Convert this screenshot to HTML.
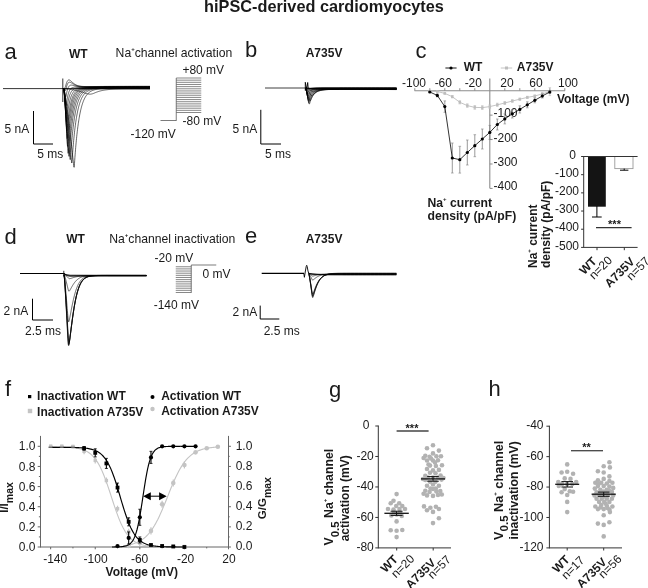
<!DOCTYPE html>
<html lang="en"><head><meta charset="utf-8"><title>hiPSC-derived cardiomyocytes</title>
<style>
html,body{margin:0;padding:0;background:#fff;}
body{width:648px;height:588px;overflow:hidden;}
svg{display:block;font-family:"Liberation Sans",Arial,sans-serif;}
</style></head><body>
<svg width="648" height="588" viewBox="0 0 648 588">
<rect width="648" height="588" fill="#fff"/>
<text x="324" y="11.5" font-size="16.3" font-weight="bold" text-anchor="middle" fill="#1a1a1a" >hiPSC-derived cardiomyocytes</text>
<text x="4.5" y="59" font-size="22"  text-anchor="start" fill="#1a1a1a" >a</text>
<text x="245" y="57.2" font-size="22"  text-anchor="start" fill="#1a1a1a" >b</text>
<text x="415.5" y="57.8" font-size="22"  text-anchor="start" fill="#1a1a1a" >c</text>
<text x="4.5" y="244.1" font-size="22"  text-anchor="start" fill="#1a1a1a" >d</text>
<text x="245" y="242.5" font-size="22"  text-anchor="start" fill="#1a1a1a" >e</text>
<text x="5" y="396.3" font-size="22"  text-anchor="start" fill="#1a1a1a" >f</text>
<text x="329" y="397" font-size="22"  text-anchor="start" fill="#1a1a1a" >g</text>
<text x="488.5" y="395.7" font-size="22"  text-anchor="start" fill="#1a1a1a" >h</text>
<text x="69" y="58.2" font-size="12" font-weight="bold" text-anchor="start" fill="#1a1a1a" >WT</text>
<text x="115.6" y="57.1" font-size="12.2" fill="#1a1a1a">Na<tspan font-size="6" font-weight="bold" dy="-6">+</tspan><tspan dy="6">channel activation</tspan></text>
<line x1="3" y1="88.6" x2="63.5" y2="88.6" stroke="#000" stroke-width="0.8" />
<line x1="62.8" y1="78.5" x2="62.8" y2="102" stroke="#000" stroke-width="0.8" />
<path d="M63.50,88.60 L150.00,88.95" fill="none" stroke="#000" stroke-width="0.6" stroke-linejoin="round" />
<path d="M63.50,88.60 L150.00,88.78" fill="none" stroke="#000" stroke-width="0.6" stroke-linejoin="round" />
<path d="M63.50,88.65 L63.70,88.66 L63.90,88.67 L64.10,88.68 L64.30,88.68 L64.50,88.69 L64.70,88.70 L64.90,88.72 L65.10,88.73 L65.30,88.74 L65.50,88.75 L65.70,88.77 L65.90,88.78 L66.10,88.80 L66.30,88.82 L66.50,88.83 L66.70,88.85 L66.90,88.87 L67.10,88.89 L67.30,88.91 L67.50,88.93 L67.70,88.96 L67.90,88.98 L68.10,89.00 L68.30,89.03 L68.50,89.05 L68.70,89.08 L68.90,89.11 L69.10,89.14 L69.30,89.16 L69.50,89.19 L69.70,89.22 L69.90,89.25 L70.10,89.29 L70.30,89.32 L70.50,89.35 L70.70,89.38 L70.90,89.42 L71.10,89.45 L71.30,89.49 L71.50,89.52 L71.70,89.56 L71.90,89.59 L72.10,89.63 L72.30,89.67 L72.50,89.71 L72.70,89.75 L72.90,89.79 L73.10,89.83 L73.30,89.87 L73.50,89.91 L73.70,89.95 L73.90,89.99 L74.10,90.04 L74.30,90.08 L74.50,90.12 L74.70,90.17 L74.90,90.21 L75.10,90.26 L75.30,90.30 L75.50,90.35 L75.70,90.40 L75.90,90.44 L76.10,90.49 L76.30,90.54 L76.50,90.59 L76.70,90.64 L76.90,90.69 L77.10,90.74 L77.30,90.79 L77.50,90.84 L77.70,90.89 L77.90,90.94 L78.10,90.99 L78.30,91.05 L78.50,91.10 L78.70,91.15 L78.90,91.21 L79.10,91.26 L79.30,91.32 L79.50,91.37 L79.70,91.43 L79.90,91.48 L80.10,91.54 L80.30,91.60 L80.50,91.65 L80.70,91.71 L80.90,91.77 L81.10,91.83 L81.30,91.89 L81.50,91.95 L81.70,92.01 L81.90,92.07 L82.10,92.13 L82.30,92.19 L82.50,92.25 L82.70,92.31 L82.90,92.38 L83.10,92.44 L83.30,92.50 L83.50,92.57 L83.70,92.63 L83.90,92.69 L84.10,92.76 L84.30,92.82 L84.50,92.89 L84.70,92.95 L84.90,93.02 L85.10,93.08 L85.30,93.14 L85.50,93.21 L85.70,93.27 L85.90,93.34 L86.10,93.40 L86.30,93.46 L86.50,93.52 L86.70,93.58 L86.90,93.64 L87.10,93.70 L87.30,93.75 L87.50,93.81 L87.70,93.86 L87.90,93.91 L88.10,93.95 L88.30,93.99 L88.50,94.03 L88.70,94.07 L88.90,94.10 L89.10,94.12 L89.30,94.14 L89.50,94.16 L89.70,94.17 L89.90,94.18 L90.10,94.18 L90.30,94.17 L90.50,94.16 L90.70,94.15 L90.90,94.13 L91.10,94.10 L91.30,94.06 L91.50,94.03 L91.70,93.98 L91.90,93.93 L92.10,93.88 L92.30,93.82 L92.50,93.76 L92.70,93.70 L92.90,93.63 L93.10,93.56 L93.30,93.48 L93.50,93.41 L93.70,93.33 L94.20,93.13 L94.70,92.92 L95.20,92.71 L95.70,92.51 L96.20,92.31 L96.70,92.11 L97.20,91.93 L97.70,91.75 L98.20,91.58 L98.70,91.42 L99.20,91.27 L99.70,91.12 L100.20,90.99 L100.70,90.86 L101.20,90.74 L101.70,90.62 L102.20,90.52 L102.70,90.41 L103.20,90.32 L103.70,90.22 L104.20,90.14 L104.70,90.06 L105.20,89.98 L105.70,89.90 L106.20,89.83 L106.70,89.77 L107.20,89.71 L107.70,89.65 L108.20,89.59 L108.70,89.54 L109.20,89.49 L109.70,89.44 L110.20,89.40 L110.70,89.36 L111.20,89.32 L111.70,89.28 L112.20,89.24 L112.70,89.21 L113.20,89.18 L113.70,89.15 L114.20,89.12 L114.70,89.09 L115.20,89.06 L115.70,89.04 L116.20,89.02 L116.70,89.00 L117.20,88.98 L117.70,88.96 L118.20,88.94 L118.70,88.92 L119.20,88.90 L119.70,88.89 L120.20,88.87 L120.70,88.86 L121.20,88.85 L121.70,88.83 L122.20,88.82 L122.70,88.81 L123.20,88.80 L123.70,88.79 L127.70,88.73 L131.70,88.69 L135.70,88.66 L139.70,88.65 L143.70,88.64 L147.70,88.63 L150.00,88.63" fill="none" stroke="#000" stroke-width="0.6" stroke-linejoin="round" />
<path d="M63.50,88.62 L63.70,88.74 L63.90,89.07 L64.10,89.68 L64.30,90.50 L64.50,91.45 L64.70,92.48 L64.90,93.57 L65.10,94.71 L65.30,95.90 L65.50,97.13 L65.70,98.39 L65.90,99.70 L66.10,101.03 L66.30,102.39 L66.50,103.78 L66.70,105.20 L66.90,106.64 L67.10,108.11 L67.30,109.60 L67.50,111.10 L67.70,112.63 L67.90,114.18 L68.10,115.75 L68.30,117.34 L68.50,118.95 L68.70,120.57 L68.90,122.21 L69.10,123.86 L69.30,125.54 L69.50,127.22 L69.70,128.92 L69.90,130.64 L70.10,132.37 L70.30,134.11 L70.50,135.87 L70.70,137.64 L70.90,139.42 L71.10,141.22 L71.30,143.03 L71.50,144.85 L71.70,146.68 L71.90,148.53 L72.10,150.38 L72.30,152.25 L72.50,154.13 L72.70,156.02 L72.90,157.92 L73.10,159.83 L73.30,161.75 L73.50,163.68 L73.70,165.55 L73.90,167.04 L74.10,167.32 L74.30,165.88 L74.50,163.30 L74.70,160.43 L74.90,157.61 L75.10,154.90 L75.30,152.30 L75.50,149.79 L75.70,147.39 L75.90,145.08 L76.10,142.86 L76.30,140.73 L76.50,138.68 L76.70,136.71 L76.90,134.82 L77.10,133.01 L77.30,131.26 L77.50,129.58 L77.70,127.97 L77.90,126.42 L78.10,124.94 L78.30,123.51 L78.50,122.13 L78.70,120.81 L78.90,119.55 L79.10,118.33 L79.30,117.16 L79.50,116.03 L79.70,114.95 L79.90,113.92 L80.10,112.92 L80.30,111.96 L80.50,111.04 L80.70,110.16 L80.90,109.31 L81.10,108.49 L81.30,107.70 L81.50,106.95 L81.70,106.23 L81.90,105.53 L82.10,104.86 L82.30,104.22 L82.50,103.60 L82.70,103.01 L82.90,102.44 L83.10,101.89 L83.30,101.37 L83.50,100.86 L83.70,100.38 L84.20,99.24 L84.70,98.22 L85.20,97.29 L85.70,96.45 L86.20,95.69 L86.70,95.01 L87.20,94.38 L87.70,93.82 L88.20,93.31 L88.70,92.85 L89.20,92.43 L89.70,92.06 L90.20,91.71 L90.70,91.41 L91.20,91.13 L91.70,90.87 L92.20,90.64 L92.70,90.44 L93.20,90.25 L93.70,90.08 L94.20,89.93 L94.70,89.79 L95.20,89.66 L95.70,89.55 L96.20,89.44 L96.70,89.35 L97.20,89.27 L97.70,89.19 L98.20,89.12 L98.70,89.06 L99.20,89.00 L99.70,88.95 L100.20,88.90 L100.70,88.86 L101.20,88.82 L101.70,88.79 L102.20,88.76 L102.70,88.73 L103.20,88.70 L103.70,88.68 L107.70,88.56 L111.70,88.50 L115.70,88.48 L119.70,88.46 L123.70,88.46 L127.70,88.46 L131.70,88.46 L135.70,88.45 L139.70,88.45 L143.70,88.45 L147.70,88.45 L150.00,88.45" fill="none" stroke="#000" stroke-width="0.6" stroke-linejoin="round" />
<path d="M63.50,88.63 L63.70,88.78 L63.90,89.21 L64.10,90.01 L64.30,91.08 L64.50,92.31 L64.70,93.64 L64.90,95.06 L65.10,96.55 L65.30,98.10 L65.50,99.70 L65.70,101.35 L65.90,103.05 L66.10,104.79 L66.30,106.56 L66.50,108.37 L66.70,110.22 L66.90,112.10 L67.10,114.01 L67.30,115.95 L67.50,117.91 L67.70,119.91 L67.90,121.92 L68.10,123.97 L68.30,126.04 L68.50,128.13 L68.70,130.24 L68.90,132.38 L69.10,134.54 L69.30,136.71 L69.50,138.91 L69.70,141.13 L69.90,143.37 L70.10,145.62 L70.30,147.89 L70.50,150.18 L70.70,152.49 L70.90,154.81 L71.10,157.16 L71.30,159.49 L71.50,161.66 L71.70,163.02 L71.90,162.67 L72.10,160.64 L72.30,157.89 L72.50,155.08 L72.70,152.35 L72.90,149.74 L73.10,147.24 L73.30,144.84 L73.50,142.54 L73.70,140.33 L73.90,138.21 L74.10,136.17 L74.30,134.22 L74.50,132.35 L74.70,130.56 L74.90,128.84 L75.10,127.19 L75.30,125.60 L75.50,124.08 L75.70,122.63 L75.90,121.23 L76.10,119.89 L76.30,118.60 L76.50,117.37 L76.70,116.18 L76.90,115.05 L77.10,113.96 L77.30,112.92 L77.50,111.91 L77.70,110.95 L77.90,110.03 L78.10,109.15 L78.30,108.30 L78.50,107.48 L78.70,106.70 L78.90,105.95 L79.10,105.24 L79.30,104.55 L79.50,103.89 L79.70,103.25 L79.90,102.64 L80.10,102.06 L80.30,101.50 L80.50,100.97 L80.70,100.45 L80.90,99.96 L81.10,99.48 L81.30,99.03 L81.50,98.59 L81.70,98.17 L81.90,97.77 L82.10,97.39 L82.30,97.02 L82.50,96.66 L82.70,96.33 L82.90,96.00 L83.10,95.69 L83.30,95.39 L83.50,95.10 L83.70,94.82 L84.20,94.18 L84.70,93.60 L85.20,93.08 L85.70,92.61 L86.20,92.19 L86.70,91.81 L87.20,91.46 L87.70,91.15 L88.20,90.87 L88.70,90.62 L89.20,90.39 L89.70,90.19 L90.20,90.00 L90.70,89.84 L91.20,89.69 L91.70,89.55 L92.20,89.43 L92.70,89.32 L93.20,89.22 L93.70,89.13 L94.20,89.05 L94.70,88.98 L95.20,88.91 L95.70,88.85 L96.20,88.80 L96.70,88.75 L97.20,88.70 L97.70,88.66 L98.20,88.63 L98.70,88.60 L99.20,88.57 L99.70,88.54 L100.20,88.52 L100.70,88.50 L101.20,88.48 L101.70,88.46 L102.20,88.44 L102.70,88.43 L103.20,88.42 L103.70,88.41 L107.70,88.34 L111.70,88.32 L115.70,88.30 L119.70,88.30 L123.70,88.29 L127.70,88.29 L131.70,88.29 L135.70,88.29 L139.70,88.29 L143.70,88.29 L147.70,88.29 L150.00,88.29" fill="none" stroke="#000" stroke-width="0.6" stroke-linejoin="round" />
<path d="M63.50,88.64 L63.70,88.82 L63.90,89.37 L64.10,90.38 L64.30,91.74 L64.50,93.31 L64.70,95.00 L64.90,96.80 L65.10,98.69 L65.30,100.66 L65.50,102.69 L65.70,104.79 L65.90,106.94 L66.10,109.15 L66.30,111.40 L66.50,113.70 L66.70,116.05 L66.90,118.43 L67.10,120.86 L67.30,123.32 L67.50,125.81 L67.70,128.35 L67.90,130.91 L68.10,133.51 L68.30,136.13 L68.50,138.79 L68.70,141.47 L68.90,144.18 L69.10,146.92 L69.30,149.69 L69.50,152.48 L69.70,155.28 L69.90,157.89 L70.10,159.64 L70.30,159.52 L70.50,157.58 L70.70,154.85 L70.90,152.04 L71.10,149.32 L71.30,146.73 L71.50,144.24 L71.70,141.86 L71.90,139.58 L72.10,137.40 L72.30,135.31 L72.50,133.31 L72.70,131.40 L72.90,129.56 L73.10,127.81 L73.30,126.13 L73.50,124.52 L73.70,122.97 L73.90,121.50 L74.10,120.08 L74.30,118.73 L74.50,117.44 L74.70,116.19 L74.90,115.01 L75.10,113.87 L75.30,112.78 L75.50,111.74 L75.70,110.74 L75.90,109.78 L76.10,108.86 L76.30,107.99 L76.50,107.15 L76.70,106.34 L76.90,105.57 L77.10,104.84 L77.30,104.13 L77.50,103.46 L77.70,102.81 L77.90,102.19 L78.10,101.59 L78.30,101.03 L78.50,100.48 L78.70,99.96 L78.90,99.46 L79.10,98.98 L79.30,98.53 L79.50,98.09 L79.70,97.67 L79.90,97.27 L80.10,96.88 L80.30,96.51 L80.50,96.16 L80.70,95.82 L80.90,95.50 L81.10,95.19 L81.30,94.89 L81.50,94.61 L81.70,94.34 L81.90,94.08 L82.10,93.83 L82.30,93.59 L82.50,93.36 L82.70,93.14 L82.90,92.93 L83.10,92.73 L83.30,92.54 L83.50,92.35 L83.70,92.17 L84.20,91.76 L84.70,91.40 L85.20,91.07 L85.70,90.77 L86.20,90.50 L86.70,90.27 L87.20,90.05 L87.70,89.86 L88.20,89.69 L88.70,89.53 L89.20,89.39 L89.70,89.27 L90.20,89.15 L90.70,89.05 L91.20,88.96 L91.70,88.88 L92.20,88.81 L92.70,88.74 L93.20,88.68 L93.70,88.63 L94.20,88.58 L94.70,88.53 L95.20,88.50 L95.70,88.46 L96.20,88.43 L96.70,88.40 L97.20,88.38 L97.70,88.35 L98.20,88.33 L98.70,88.31 L99.20,88.30 L99.70,88.28 L100.20,88.27 L100.70,88.25 L101.20,88.24 L101.70,88.23 L102.20,88.22 L102.70,88.21 L103.20,88.21 L103.70,88.20 L107.70,88.16 L111.70,88.15 L115.70,88.14 L119.70,88.13 L123.70,88.13 L127.70,88.13 L131.70,88.13 L135.70,88.12 L139.70,88.12 L143.70,88.12 L147.70,88.12 L150.00,88.12" fill="none" stroke="#000" stroke-width="0.6" stroke-linejoin="round" />
<path d="M63.50,88.65 L63.70,88.88 L63.90,89.56 L64.10,90.82 L64.30,92.51 L64.50,94.45 L64.70,96.56 L64.90,98.80 L65.10,101.15 L65.30,103.59 L65.50,106.12 L65.70,108.73 L65.90,111.41 L66.10,114.15 L66.30,116.95 L66.50,119.81 L66.70,122.73 L66.90,125.69 L67.10,128.71 L67.30,131.77 L67.50,134.87 L67.70,138.02 L67.90,141.21 L68.10,144.44 L68.30,147.71 L68.50,150.99 L68.70,154.08 L68.90,156.24 L69.10,156.37 L69.30,154.53 L69.50,151.81 L69.70,149.01 L69.90,146.31 L70.10,143.73 L70.30,141.26 L70.50,138.91 L70.70,136.66 L70.90,134.50 L71.10,132.45 L71.30,130.48 L71.50,128.60 L71.70,126.81 L71.90,125.09 L72.10,123.45 L72.30,121.89 L72.50,120.39 L72.70,118.96 L72.90,117.59 L73.10,116.28 L73.30,115.04 L73.50,113.84 L73.70,112.70 L73.90,111.61 L74.10,110.57 L74.30,109.57 L74.50,108.62 L74.70,107.71 L74.90,106.84 L75.10,106.01 L75.30,105.22 L75.50,104.46 L75.70,103.74 L75.90,103.04 L76.10,102.38 L76.30,101.75 L76.50,101.14 L76.70,100.57 L76.90,100.01 L77.10,99.49 L77.30,98.98 L77.50,98.50 L77.70,98.04 L77.90,97.60 L78.10,97.17 L78.30,96.77 L78.50,96.39 L78.70,96.02 L78.90,95.67 L79.10,95.33 L79.30,95.01 L79.50,94.70 L79.70,94.41 L79.90,94.13 L80.10,93.86 L80.30,93.61 L80.50,93.36 L80.70,93.13 L80.90,92.90 L81.10,92.69 L81.30,92.48 L81.50,92.29 L81.70,92.10 L81.90,91.92 L82.10,91.75 L82.30,91.59 L82.50,91.43 L82.70,91.28 L82.90,91.14 L83.10,91.00 L83.30,90.87 L83.50,90.75 L83.70,90.63 L84.20,90.35 L84.70,90.11 L85.20,89.89 L85.70,89.69 L86.20,89.51 L86.70,89.35 L87.20,89.21 L87.70,89.09 L88.20,88.97 L88.70,88.87 L89.20,88.78 L89.70,88.70 L90.20,88.63 L90.70,88.56 L91.20,88.50 L91.70,88.45 L92.20,88.41 L92.70,88.36 L93.20,88.33 L93.70,88.29 L94.20,88.26 L94.70,88.23 L95.20,88.21 L95.70,88.19 L96.20,88.17 L96.70,88.15 L97.20,88.13 L97.70,88.12 L98.20,88.10 L98.70,88.09 L99.20,88.08 L99.70,88.07 L100.20,88.06 L100.70,88.06 L101.20,88.05 L101.70,88.04 L102.20,88.04 L102.70,88.03 L103.20,88.02 L103.70,88.02 L107.70,88.00 L111.70,87.98 L115.70,87.97 L119.70,87.97 L123.70,87.97 L127.70,87.96 L131.70,87.96 L135.70,87.96 L139.70,87.96 L143.70,87.96 L147.70,87.96 L150.00,87.96" fill="none" stroke="#000" stroke-width="0.6" stroke-linejoin="round" />
<path d="M63.50,88.66 L63.70,88.94 L63.90,89.77 L64.10,91.29 L64.30,93.34 L64.50,95.70 L64.70,98.27 L64.90,100.99 L65.10,103.84 L65.30,106.81 L65.50,109.88 L65.70,113.05 L65.90,116.30 L66.10,119.63 L66.30,123.03 L66.50,126.51 L66.70,130.05 L66.90,133.65 L67.10,137.31 L67.30,141.03 L67.50,144.79 L67.70,148.53 L67.90,151.76 L68.10,153.35 L68.30,152.56 L68.50,150.18 L68.70,147.38 L68.90,144.64 L69.10,142.01 L69.30,139.51 L69.50,137.12 L69.70,134.84 L69.90,132.67 L70.10,130.60 L70.30,128.63 L70.50,126.75 L70.70,124.95 L70.90,123.24 L71.10,121.61 L71.30,120.05 L71.50,118.56 L71.70,117.15 L71.90,115.80 L72.10,114.51 L72.30,113.28 L72.50,112.11 L72.70,110.99 L72.90,109.93 L73.10,108.91 L73.30,107.94 L73.50,107.02 L73.70,106.14 L73.90,105.30 L74.10,104.50 L74.30,103.73 L74.50,103.00 L74.70,102.31 L74.90,101.65 L75.10,101.01 L75.30,100.41 L75.50,99.83 L75.70,99.29 L75.90,98.76 L76.10,98.26 L76.30,97.79 L76.50,97.33 L76.70,96.90 L76.90,96.49 L77.10,96.09 L77.30,95.72 L77.50,95.36 L77.70,95.02 L77.90,94.69 L78.10,94.38 L78.30,94.08 L78.50,93.80 L78.70,93.53 L78.90,93.27 L79.10,93.02 L79.30,92.79 L79.50,92.57 L79.70,92.35 L79.90,92.15 L80.10,91.95 L80.30,91.77 L80.50,91.59 L80.70,91.42 L80.90,91.26 L81.10,91.11 L81.30,90.96 L81.50,90.82 L81.70,90.69 L81.90,90.56 L82.10,90.44 L82.30,90.32 L82.50,90.21 L82.70,90.11 L82.90,90.01 L83.10,89.91 L83.30,89.82 L83.50,89.73 L83.70,89.65 L84.20,89.45 L84.70,89.28 L85.20,89.13 L85.70,88.99 L86.20,88.87 L86.70,88.76 L87.20,88.66 L87.70,88.58 L88.20,88.50 L88.70,88.43 L89.20,88.37 L89.70,88.32 L90.20,88.27 L90.70,88.22 L91.20,88.18 L91.70,88.15 L92.20,88.12 L92.70,88.09 L93.20,88.06 L93.70,88.04 L94.20,88.02 L94.70,88.00 L95.20,87.98 L95.70,87.97 L96.20,87.96 L96.70,87.94 L97.20,87.93 L97.70,87.92 L98.20,87.91 L98.70,87.90 L99.20,87.90 L99.70,87.89 L100.20,87.88 L100.70,87.88 L101.20,87.87 L101.70,87.87 L102.20,87.86 L102.70,87.86 L103.20,87.86 L103.70,87.85 L107.70,87.83 L111.70,87.82 L115.70,87.81 L119.70,87.81 L123.70,87.80 L127.70,87.80 L131.70,87.80 L135.70,87.80 L139.70,87.79 L143.70,87.79 L147.70,87.79 L150.00,87.79" fill="none" stroke="#000" stroke-width="0.6" stroke-linejoin="round" />
<path d="M63.50,88.66 L63.70,88.96 L63.90,89.86 L64.10,91.51 L64.30,93.73 L64.50,96.28 L64.70,99.06 L64.90,102.00 L65.10,105.09 L65.30,108.30 L65.50,111.62 L65.70,115.05 L65.90,118.57 L66.10,122.17 L66.30,125.85 L66.50,129.61 L66.70,133.44 L66.90,137.34 L67.10,141.21 L67.30,144.59 L67.50,146.35 L67.70,145.73 L67.90,143.54 L68.10,140.92 L68.30,138.35 L68.50,135.90 L68.70,133.57 L68.90,131.35 L69.10,129.24 L69.30,127.24 L69.50,125.33 L69.70,123.51 L69.90,121.78 L70.10,120.14 L70.30,118.58 L70.50,117.09 L70.70,115.67 L70.90,114.32 L71.10,113.04 L71.30,111.82 L71.50,110.66 L71.70,109.56 L71.90,108.51 L72.10,107.51 L72.30,106.56 L72.50,105.65 L72.70,104.79 L72.90,103.97 L73.10,103.19 L73.30,102.45 L73.50,101.74 L73.70,101.07 L73.90,100.43 L74.10,99.82 L74.30,99.25 L74.50,98.70 L74.70,98.17 L74.90,97.67 L75.10,97.20 L75.30,96.75 L75.50,96.32 L75.70,95.91 L75.90,95.52 L76.10,95.15 L76.30,94.79 L76.50,94.46 L76.70,94.14 L76.90,93.83 L77.10,93.54 L77.30,93.27 L77.50,93.01 L77.70,92.76 L77.90,92.52 L78.10,92.29 L78.30,92.08 L78.50,91.87 L78.70,91.68 L78.90,91.49 L79.10,91.31 L79.30,91.14 L79.50,90.98 L79.70,90.83 L79.90,90.69 L80.10,90.55 L80.30,90.42 L80.50,90.29 L80.70,90.17 L80.90,90.06 L81.10,89.95 L81.30,89.84 L81.50,89.75 L81.70,89.65 L81.90,89.56 L82.10,89.48 L82.30,89.40 L82.50,89.32 L82.70,89.24 L82.90,89.17 L83.10,89.11 L83.30,89.04 L83.50,88.98 L83.70,88.92 L84.20,88.79 L84.70,88.67 L85.20,88.57 L85.70,88.47 L86.20,88.39 L86.70,88.32 L87.20,88.25 L87.70,88.19 L88.20,88.14 L88.70,88.09 L89.20,88.05 L89.70,88.02 L90.20,87.98 L90.70,87.95 L91.20,87.93 L91.70,87.90 L92.20,87.88 L92.70,87.86 L93.20,87.84 L93.70,87.83 L94.20,87.81 L94.70,87.80 L95.20,87.79 L95.70,87.78 L96.20,87.77 L96.70,87.76 L97.20,87.75 L97.70,87.74 L98.20,87.74 L98.70,87.73 L99.20,87.72 L99.70,87.72 L100.20,87.71 L100.70,87.71 L101.20,87.71 L101.70,87.70 L102.20,87.70 L102.70,87.69 L103.20,87.69 L103.70,87.69 L107.70,87.67 L111.70,87.66 L115.70,87.65 L119.70,87.64 L123.70,87.64 L127.70,87.64 L131.70,87.63 L135.70,87.63 L139.70,87.63 L143.70,87.63 L147.70,87.63 L150.00,87.63" fill="none" stroke="#000" stroke-width="0.6" stroke-linejoin="round" />
<path d="M63.50,88.66 L63.70,88.96 L63.90,89.86 L64.10,91.52 L64.30,93.74 L64.50,96.30 L64.70,99.07 L64.90,102.02 L65.10,105.11 L65.30,108.33 L65.50,111.66 L65.70,115.09 L65.90,118.62 L66.10,122.23 L66.30,125.92 L66.50,129.68 L66.70,133.43 L66.90,136.73 L67.10,138.49 L67.30,138.01 L67.50,136.03 L67.70,133.65 L67.90,131.32 L68.10,129.10 L68.30,127.00 L68.50,125.00 L68.70,123.11 L68.90,121.31 L69.10,119.60 L69.30,117.98 L69.50,116.45 L69.70,114.99 L69.90,113.61 L70.10,112.29 L70.30,111.05 L70.50,109.86 L70.70,108.74 L70.90,107.68 L71.10,106.67 L71.30,105.71 L71.50,104.80 L71.70,103.93 L71.90,103.11 L72.10,102.33 L72.30,101.59 L72.50,100.89 L72.70,100.22 L72.90,99.59 L73.10,98.99 L73.30,98.42 L73.50,97.88 L73.70,97.37 L73.90,96.88 L74.10,96.42 L74.30,95.98 L74.50,95.56 L74.70,95.17 L74.90,94.79 L75.10,94.44 L75.30,94.10 L75.50,93.77 L75.70,93.47 L75.90,93.18 L76.10,92.90 L76.30,92.64 L76.50,92.39 L76.70,92.16 L76.90,91.93 L77.10,91.72 L77.30,91.52 L77.50,91.33 L77.70,91.14 L77.90,90.97 L78.10,90.81 L78.30,90.65 L78.50,90.50 L78.70,90.36 L78.90,90.23 L79.10,90.10 L79.30,89.98 L79.50,89.86 L79.70,89.75 L79.90,89.65 L80.10,89.55 L80.30,89.46 L80.50,89.37 L80.70,89.28 L80.90,89.20 L81.10,89.12 L81.30,89.05 L81.50,88.98 L81.70,88.92 L81.90,88.85 L82.10,88.79 L82.30,88.74 L82.50,88.68 L82.70,88.63 L82.90,88.58 L83.10,88.53 L83.30,88.49 L83.50,88.45 L83.70,88.41 L84.20,88.31 L84.70,88.23 L85.20,88.16 L85.70,88.10 L86.20,88.04 L86.70,87.99 L87.20,87.94 L87.70,87.90 L88.20,87.86 L88.70,87.83 L89.20,87.80 L89.70,87.78 L90.20,87.75 L90.70,87.73 L91.20,87.71 L91.70,87.70 L92.20,87.68 L92.70,87.67 L93.20,87.65 L93.70,87.64 L94.20,87.63 L94.70,87.62 L95.20,87.61 L95.70,87.60 L96.20,87.60 L96.70,87.59 L97.20,87.58 L97.70,87.58 L98.20,87.57 L98.70,87.57 L99.20,87.56 L99.70,87.56 L100.20,87.55 L100.70,87.55 L101.20,87.54 L101.70,87.54 L102.20,87.54 L102.70,87.53 L103.20,87.53 L103.70,87.53 L107.70,87.51 L111.70,87.50 L115.70,87.49 L119.70,87.48 L123.70,87.48 L127.70,87.47 L131.70,87.47 L135.70,87.47 L139.70,87.46 L143.70,87.46 L147.70,87.46 L150.00,87.46" fill="none" stroke="#000" stroke-width="0.6" stroke-linejoin="round" />
<path d="M63.50,88.66 L63.70,88.95 L63.90,89.81 L64.10,91.39 L64.30,93.51 L64.50,95.95 L64.70,98.60 L64.90,101.42 L65.10,104.38 L65.30,107.45 L65.50,110.63 L65.70,113.91 L65.90,117.28 L66.10,120.73 L66.30,124.24 L66.50,127.61 L66.70,130.13 L66.90,130.77 L67.10,129.55 L67.30,127.53 L67.50,125.41 L67.70,123.39 L67.90,121.48 L68.10,119.67 L68.30,117.96 L68.50,116.34 L68.70,114.81 L68.90,113.36 L69.10,111.99 L69.30,110.69 L69.50,109.46 L69.70,108.30 L69.90,107.20 L70.10,106.15 L70.30,105.17 L70.50,104.23 L70.70,103.35 L70.90,102.52 L71.10,101.72 L71.30,100.97 L71.50,100.27 L71.70,99.60 L71.90,98.96 L72.10,98.36 L72.30,97.79 L72.50,97.25 L72.70,96.74 L72.90,96.26 L73.10,95.80 L73.30,95.37 L73.50,94.96 L73.70,94.57 L73.90,94.20 L74.10,93.85 L74.30,93.52 L74.50,93.21 L74.70,92.92 L74.90,92.64 L75.10,92.37 L75.30,92.12 L75.50,91.88 L75.70,91.66 L75.90,91.44 L76.10,91.24 L76.30,91.05 L76.50,90.87 L76.70,90.70 L76.90,90.53 L77.10,90.38 L77.30,90.23 L77.50,90.09 L77.70,89.96 L77.90,89.84 L78.10,89.72 L78.30,89.61 L78.50,89.50 L78.70,89.40 L78.90,89.30 L79.10,89.21 L79.30,89.13 L79.50,89.04 L79.70,88.97 L79.90,88.89 L80.10,88.82 L80.30,88.76 L80.50,88.69 L80.70,88.63 L80.90,88.58 L81.10,88.52 L81.30,88.47 L81.50,88.42 L81.70,88.38 L81.90,88.33 L82.10,88.29 L82.30,88.25 L82.50,88.21 L82.70,88.18 L82.90,88.14 L83.10,88.11 L83.30,88.08 L83.50,88.05 L83.70,88.02 L84.20,87.96 L84.70,87.90 L85.20,87.85 L85.70,87.80 L86.20,87.76 L86.70,87.73 L87.20,87.70 L87.70,87.67 L88.20,87.64 L88.70,87.62 L89.20,87.60 L89.70,87.58 L90.20,87.56 L90.70,87.54 L91.20,87.53 L91.70,87.52 L92.20,87.50 L92.70,87.49 L93.20,87.48 L93.70,87.47 L94.20,87.47 L94.70,87.46 L95.20,87.45 L95.70,87.44 L96.20,87.44 L96.70,87.43 L97.20,87.42 L97.70,87.42 L98.20,87.41 L98.70,87.41 L99.20,87.40 L99.70,87.40 L100.20,87.39 L100.70,87.39 L101.20,87.39 L101.70,87.38 L102.20,87.38 L102.70,87.38 L103.20,87.37 L103.70,87.37 L107.70,87.35 L111.70,87.34 L115.70,87.33 L119.70,87.32 L123.70,87.31 L127.70,87.31 L131.70,87.30 L135.70,87.30 L139.70,87.30 L143.70,87.30 L147.70,87.30 L150.00,87.30" fill="none" stroke="#000" stroke-width="0.6" stroke-linejoin="round" />
<path d="M63.50,88.65 L63.70,88.92 L63.90,89.72 L64.10,91.19 L64.30,93.16 L64.50,95.40 L64.70,97.84 L64.90,100.40 L65.10,103.09 L65.30,105.88 L65.50,108.76 L65.70,111.74 L65.90,114.79 L66.10,117.86 L66.30,120.57 L66.50,122.04 L66.70,121.68 L66.90,120.10 L67.10,118.21 L67.30,116.37 L67.50,114.63 L67.70,113.00 L67.90,111.47 L68.10,110.03 L68.30,108.68 L68.50,107.41 L68.70,106.22 L68.90,105.10 L69.10,104.04 L69.30,103.06 L69.50,102.13 L69.70,101.26 L69.90,100.45 L70.10,99.68 L70.30,98.96 L70.50,98.28 L70.70,97.65 L70.90,97.05 L71.10,96.49 L71.30,95.97 L71.50,95.47 L71.70,95.01 L71.90,94.57 L72.10,94.16 L72.30,93.77 L72.50,93.41 L72.70,93.07 L72.90,92.75 L73.10,92.45 L73.30,92.16 L73.50,91.90 L73.70,91.64 L73.90,91.41 L74.10,91.18 L74.30,90.97 L74.50,90.77 L74.70,90.59 L74.90,90.41 L75.10,90.25 L75.30,90.09 L75.50,89.94 L75.70,89.80 L75.90,89.67 L76.10,89.55 L76.30,89.43 L76.50,89.32 L76.70,89.22 L76.90,89.12 L77.10,89.03 L77.30,88.94 L77.50,88.86 L77.70,88.78 L77.90,88.71 L78.10,88.64 L78.30,88.57 L78.50,88.51 L78.70,88.45 L78.90,88.39 L79.10,88.34 L79.30,88.29 L79.50,88.24 L79.70,88.20 L79.90,88.16 L80.10,88.12 L80.30,88.08 L80.50,88.04 L80.70,88.01 L80.90,87.98 L81.10,87.94 L81.30,87.92 L81.50,87.89 L81.70,87.86 L81.90,87.84 L82.10,87.81 L82.30,87.79 L82.50,87.77 L82.70,87.75 L82.90,87.73 L83.10,87.71 L83.30,87.69 L83.50,87.67 L83.70,87.66 L84.20,87.62 L84.70,87.59 L85.20,87.56 L85.70,87.53 L86.20,87.51 L86.70,87.48 L87.20,87.46 L87.70,87.45 L88.20,87.43 L88.70,87.41 L89.20,87.40 L89.70,87.39 L90.20,87.37 L90.70,87.36 L91.20,87.35 L91.70,87.34 L92.20,87.33 L92.70,87.33 L93.20,87.32 L93.70,87.31 L94.20,87.30 L94.70,87.30 L95.20,87.29 L95.70,87.28 L96.20,87.28 L96.70,87.27 L97.20,87.27 L97.70,87.26 L98.20,87.26 L98.70,87.25 L99.20,87.25 L99.70,87.24 L100.20,87.24 L100.70,87.23 L101.20,87.23 L101.70,87.23 L102.20,87.22 L102.70,87.22 L103.20,87.22 L103.70,87.21 L107.70,87.19 L111.70,87.18 L115.70,87.16 L119.70,87.16 L123.70,87.15 L127.70,87.14 L131.70,87.14 L135.70,87.14 L139.70,87.13 L143.70,87.13 L147.70,87.13 L150.00,87.13" fill="none" stroke="#000" stroke-width="0.6" stroke-linejoin="round" />
<path d="M63.50,88.65 L63.70,88.89 L63.90,89.61 L64.10,90.93 L64.30,92.68 L64.50,94.68 L64.70,96.82 L64.90,99.07 L65.10,101.42 L65.30,103.85 L65.50,106.36 L65.70,108.93 L65.90,111.42 L66.10,113.27 L66.30,113.69 L66.50,112.69 L66.70,111.09 L66.90,109.44 L67.10,107.89 L67.30,106.43 L67.50,105.07 L67.70,103.81 L67.90,102.63 L68.10,101.54 L68.30,100.52 L68.50,99.58 L68.70,98.70 L68.90,97.88 L69.10,97.13 L69.30,96.43 L69.50,95.78 L69.70,95.18 L69.90,94.62 L70.10,94.10 L70.30,93.63 L70.50,93.18 L70.70,92.77 L70.90,92.39 L71.10,92.04 L71.30,91.71 L71.50,91.41 L71.70,91.12 L71.90,90.86 L72.10,90.62 L72.30,90.40 L72.50,90.19 L72.70,90.00 L72.90,89.82 L73.10,89.65 L73.30,89.49 L73.50,89.35 L73.70,89.22 L73.90,89.09 L74.10,88.98 L74.30,88.87 L74.50,88.77 L74.70,88.67 L74.90,88.59 L75.10,88.51 L75.30,88.43 L75.50,88.36 L75.70,88.29 L75.90,88.23 L76.10,88.18 L76.30,88.12 L76.50,88.07 L76.70,88.02 L76.90,87.98 L77.10,87.94 L77.30,87.90 L77.50,87.86 L77.70,87.83 L77.90,87.80 L78.10,87.77 L78.30,87.74 L78.50,87.71 L78.70,87.69 L78.90,87.67 L79.10,87.64 L79.30,87.62 L79.50,87.60 L79.70,87.59 L79.90,87.57 L80.10,87.55 L80.30,87.54 L80.50,87.52 L80.70,87.51 L80.90,87.49 L81.10,87.48 L81.30,87.47 L81.50,87.46 L81.70,87.45 L81.90,87.43 L82.10,87.42 L82.30,87.42 L82.50,87.41 L82.70,87.40 L82.90,87.39 L83.10,87.38 L83.30,87.37 L83.50,87.36 L83.70,87.36 L84.20,87.34 L84.70,87.32 L85.20,87.31 L85.70,87.30 L86.20,87.28 L86.70,87.27 L87.20,87.26 L87.70,87.25 L88.20,87.24 L88.70,87.23 L89.20,87.22 L89.70,87.21 L90.20,87.20 L90.70,87.19 L91.20,87.19 L91.70,87.18 L92.20,87.17 L92.70,87.16 L93.20,87.16 L93.70,87.15 L94.20,87.14 L94.70,87.14 L95.20,87.13 L95.70,87.13 L96.20,87.12 L96.70,87.12 L97.20,87.11 L97.70,87.11 L98.20,87.10 L98.70,87.10 L99.20,87.09 L99.70,87.09 L100.20,87.08 L100.70,87.08 L101.20,87.07 L101.70,87.07 L102.20,87.07 L102.70,87.06 L103.20,87.06 L103.70,87.06 L107.70,87.03 L111.70,87.02 L115.70,87.00 L119.70,86.99 L123.70,86.99 L127.70,86.98 L131.70,86.98 L135.70,86.97 L139.70,86.97 L143.70,86.97 L147.70,86.97 L150.00,86.97" fill="none" stroke="#000" stroke-width="0.6" stroke-linejoin="round" />
<path d="M63.50,88.64 L63.70,88.83 L63.90,89.41 L64.10,90.45 L64.30,91.83 L64.50,93.38 L64.70,95.02 L64.90,96.74 L65.10,98.51 L65.30,100.34 L65.50,102.21 L65.70,104.02 L65.90,105.33 L66.10,105.53 L66.30,104.63 L66.50,103.26 L66.70,101.87 L66.90,100.56 L67.10,99.35 L67.30,98.22 L67.50,97.19 L67.70,96.24 L67.90,95.36 L68.10,94.56 L68.30,93.82 L68.50,93.15 L68.70,92.54 L68.90,91.98 L69.10,91.48 L69.30,91.02 L69.50,90.60 L69.70,90.22 L69.90,89.88 L70.10,89.57 L70.30,89.29 L70.50,89.04 L70.70,88.82 L70.90,88.62 L71.10,88.44 L71.30,88.28 L71.50,88.13 L71.70,88.00 L71.90,87.88 L72.10,87.78 L72.30,87.69 L72.50,87.61 L72.70,87.54 L72.90,87.47 L73.10,87.42 L73.30,87.37 L73.50,87.33 L73.70,87.29 L73.90,87.25 L74.10,87.23 L74.30,87.20 L74.50,87.18 L74.70,87.16 L74.90,87.15 L75.10,87.13 L75.30,87.12 L75.50,87.11 L75.70,87.11 L75.90,87.10 L76.10,87.09 L76.30,87.09 L76.50,87.09 L76.70,87.09 L76.90,87.08 L77.10,87.08 L77.30,87.08 L77.50,87.08 L77.70,87.09 L77.90,87.09 L78.10,87.09 L78.30,87.09 L78.50,87.09 L78.70,87.09 L78.90,87.09 L79.10,87.09 L79.30,87.10 L79.50,87.10 L79.70,87.10 L79.90,87.10 L80.10,87.10 L80.30,87.10 L80.50,87.10 L80.70,87.10 L80.90,87.11 L81.10,87.11 L81.30,87.11 L81.50,87.11 L81.70,87.11 L81.90,87.11 L82.10,87.11 L82.30,87.11 L82.50,87.11 L82.70,87.11 L82.90,87.11 L83.10,87.11 L83.30,87.11 L83.50,87.11 L83.70,87.11 L84.20,87.10 L84.70,87.10 L85.20,87.10 L85.70,87.09 L86.20,87.09 L86.70,87.08 L87.20,87.08 L87.70,87.07 L88.20,87.07 L88.70,87.06 L89.20,87.05 L89.70,87.05 L90.20,87.04 L90.70,87.03 L91.20,87.03 L91.70,87.02 L92.20,87.02 L92.70,87.01 L93.20,87.00 L93.70,87.00 L94.20,86.99 L94.70,86.98 L95.20,86.98 L95.70,86.97 L96.20,86.97 L96.70,86.96 L97.20,86.96 L97.70,86.95 L98.20,86.95 L98.70,86.94 L99.20,86.94 L99.70,86.93 L100.20,86.93 L100.70,86.92 L101.20,86.92 L101.70,86.92 L102.20,86.91 L102.70,86.91 L103.20,86.90 L103.70,86.90 L107.70,86.87 L111.70,86.86 L115.70,86.84 L119.70,86.83 L123.70,86.82 L127.70,86.82 L131.70,86.81 L135.70,86.81 L139.70,86.80 L143.70,86.80 L147.70,86.80 L150.00,86.80" fill="none" stroke="#000" stroke-width="0.6" stroke-linejoin="round" />
<path d="M63.50,88.62 L63.70,88.75 L63.90,89.10 L64.10,89.74 L64.30,90.57 L64.50,91.47 L64.70,92.41 L64.90,93.36 L65.10,94.32 L65.30,95.29 L65.50,96.20 L65.70,96.80 L65.90,96.70 L66.10,95.91 L66.30,94.84 L66.50,93.76 L66.70,92.76 L66.90,91.84 L67.10,91.00 L67.30,90.23 L67.50,89.54 L67.70,88.91 L67.90,88.35 L68.10,87.85 L68.30,87.41 L68.50,87.02 L68.70,86.68 L68.90,86.38 L69.10,86.13 L69.30,85.91 L69.50,85.73 L69.70,85.57 L69.90,85.45 L70.10,85.35 L70.30,85.27 L70.50,85.21 L70.70,85.16 L70.90,85.14 L71.10,85.12 L71.30,85.12 L71.50,85.13 L71.70,85.14 L71.90,85.17 L72.10,85.20 L72.30,85.23 L72.50,85.27 L72.70,85.31 L72.90,85.36 L73.10,85.41 L73.30,85.46 L73.50,85.51 L73.70,85.56 L73.90,85.61 L74.10,85.66 L74.30,85.72 L74.50,85.77 L74.70,85.82 L74.90,85.87 L75.10,85.92 L75.30,85.97 L75.50,86.01 L75.70,86.06 L75.90,86.10 L76.10,86.14 L76.30,86.19 L76.50,86.22 L76.70,86.26 L76.90,86.30 L77.10,86.34 L77.30,86.37 L77.50,86.40 L77.70,86.43 L77.90,86.46 L78.10,86.49 L78.30,86.52 L78.50,86.54 L78.70,86.57 L78.90,86.59 L79.10,86.61 L79.30,86.63 L79.50,86.65 L79.70,86.67 L79.90,86.69 L80.10,86.71 L80.30,86.72 L80.50,86.74 L80.70,86.75 L80.90,86.76 L81.10,86.78 L81.30,86.79 L81.50,86.80 L81.70,86.81 L81.90,86.82 L82.10,86.83 L82.30,86.83 L82.50,86.84 L82.70,86.85 L82.90,86.86 L83.10,86.86 L83.30,86.87 L83.50,86.87 L83.70,86.88 L84.20,86.89 L84.70,86.89 L85.20,86.90 L85.70,86.90 L86.20,86.90 L86.70,86.90 L87.20,86.90 L87.70,86.90 L88.20,86.90 L88.70,86.90 L89.20,86.89 L89.70,86.89 L90.20,86.88 L90.70,86.88 L91.20,86.87 L91.70,86.87 L92.20,86.86 L92.70,86.86 L93.20,86.85 L93.70,86.84 L94.20,86.84 L94.70,86.83 L95.20,86.83 L95.70,86.82 L96.20,86.82 L96.70,86.81 L97.20,86.80 L97.70,86.80 L98.20,86.79 L98.70,86.79 L99.20,86.78 L99.70,86.78 L100.20,86.77 L100.70,86.77 L101.20,86.76 L101.70,86.76 L102.20,86.76 L102.70,86.75 L103.20,86.75 L103.70,86.74 L107.70,86.72 L111.70,86.70 L115.70,86.68 L119.70,86.67 L123.70,86.66 L127.70,86.65 L131.70,86.65 L135.70,86.64 L139.70,86.64 L143.70,86.64 L147.70,86.64 L150.00,86.64" fill="none" stroke="#000" stroke-width="0.6" stroke-linejoin="round" />
<path d="M63.50,88.61 L63.70,88.66 L63.90,88.81 L64.10,89.07 L64.30,89.37 L64.50,89.67 L64.70,89.92 L64.90,90.14 L65.10,90.32 L65.30,90.45 L65.50,90.40 L65.70,90.02 L65.90,89.31 L66.10,88.47 L66.30,87.66 L66.50,86.89 L66.70,86.20 L66.90,85.56 L67.10,84.99 L67.30,84.48 L67.50,84.03 L67.70,83.64 L67.90,83.31 L68.10,83.02 L68.30,82.79 L68.50,82.60 L68.70,82.46 L68.90,82.35 L69.10,82.28 L69.30,82.23 L69.50,82.22 L69.70,82.22 L69.90,82.25 L70.10,82.30 L70.30,82.36 L70.50,82.44 L70.70,82.53 L70.90,82.63 L71.10,82.73 L71.30,82.84 L71.50,82.96 L71.70,83.08 L71.90,83.20 L72.10,83.33 L72.30,83.46 L72.50,83.58 L72.70,83.71 L72.90,83.83 L73.10,83.95 L73.30,84.07 L73.50,84.19 L73.70,84.31 L73.90,84.42 L74.10,84.53 L74.30,84.64 L74.50,84.74 L74.70,84.84 L74.90,84.94 L75.10,85.03 L75.30,85.12 L75.50,85.20 L75.70,85.29 L75.90,85.37 L76.10,85.44 L76.30,85.51 L76.50,85.58 L76.70,85.65 L76.90,85.71 L77.10,85.77 L77.30,85.83 L77.50,85.89 L77.70,85.94 L77.90,85.99 L78.10,86.04 L78.30,86.08 L78.50,86.12 L78.70,86.16 L78.90,86.20 L79.10,86.24 L79.30,86.27 L79.50,86.30 L79.70,86.34 L79.90,86.36 L80.10,86.39 L80.30,86.42 L80.50,86.44 L80.70,86.46 L80.90,86.49 L81.10,86.51 L81.30,86.52 L81.50,86.54 L81.70,86.56 L81.90,86.57 L82.10,86.59 L82.30,86.60 L82.50,86.62 L82.70,86.63 L82.90,86.64 L83.10,86.65 L83.30,86.66 L83.50,86.67 L83.70,86.68 L84.20,86.69 L84.70,86.71 L85.20,86.72 L85.70,86.73 L86.20,86.73 L86.70,86.74 L87.20,86.74 L87.70,86.74 L88.20,86.74 L88.70,86.74 L89.20,86.74 L89.70,86.73 L90.20,86.73 L90.70,86.72 L91.20,86.72 L91.70,86.71 L92.20,86.71 L92.70,86.70 L93.20,86.70 L93.70,86.69 L94.20,86.69 L94.70,86.68 L95.20,86.67 L95.70,86.67 L96.20,86.66 L96.70,86.66 L97.20,86.65 L97.70,86.65 L98.20,86.64 L98.70,86.63 L99.20,86.63 L99.70,86.62 L100.20,86.62 L100.70,86.61 L101.20,86.61 L101.70,86.60 L102.20,86.60 L102.70,86.60 L103.20,86.59 L103.70,86.59 L107.70,86.56 L111.70,86.54 L115.70,86.52 L119.70,86.50 L123.70,86.50 L127.70,86.49 L131.70,86.48 L135.70,86.48 L139.70,86.48 L143.70,86.47 L147.70,86.47 L150.00,86.47" fill="none" stroke="#000" stroke-width="0.6" stroke-linejoin="round" />
<path d="M63.50,88.60 L63.70,88.60 L63.90,88.61 L64.10,88.60 L64.30,88.53 L64.50,88.38 L64.70,88.15 L64.90,87.83 L65.10,87.45 L65.30,86.97 L65.50,86.39 L65.70,85.73 L65.90,85.03 L66.10,84.35 L66.30,83.71 L66.50,83.10 L66.70,82.55 L66.90,82.05 L67.10,81.61 L67.30,81.22 L67.50,80.89 L67.70,80.61 L67.90,80.38 L68.10,80.21 L68.30,80.08 L68.50,79.99 L68.70,79.93 L68.90,79.92 L69.10,79.94 L69.30,79.98 L69.50,80.05 L69.70,80.14 L69.90,80.25 L70.10,80.38 L70.30,80.52 L70.50,80.67 L70.70,80.83 L70.90,81.00 L71.10,81.17 L71.30,81.35 L71.50,81.53 L71.70,81.71 L71.90,81.89 L72.10,82.07 L72.30,82.25 L72.50,82.43 L72.70,82.60 L72.90,82.77 L73.10,82.94 L73.30,83.11 L73.50,83.26 L73.70,83.42 L73.90,83.57 L74.10,83.72 L74.30,83.86 L74.50,83.99 L74.70,84.12 L74.90,84.25 L75.10,84.37 L75.30,84.49 L75.50,84.60 L75.70,84.70 L75.90,84.81 L76.10,84.90 L76.30,85.00 L76.50,85.09 L76.70,85.17 L76.90,85.25 L77.10,85.33 L77.30,85.41 L77.50,85.48 L77.70,85.54 L77.90,85.61 L78.10,85.67 L78.30,85.72 L78.50,85.78 L78.70,85.83 L78.90,85.88 L79.10,85.92 L79.30,85.97 L79.50,86.01 L79.70,86.05 L79.90,86.08 L80.10,86.12 L80.30,86.15 L80.50,86.18 L80.70,86.21 L80.90,86.24 L81.10,86.27 L81.30,86.29 L81.50,86.31 L81.70,86.33 L81.90,86.35 L82.10,86.37 L82.30,86.39 L82.50,86.41 L82.70,86.42 L82.90,86.44 L83.10,86.45 L83.30,86.46 L83.50,86.48 L83.70,86.49 L84.20,86.51 L84.70,86.53 L85.20,86.54 L85.70,86.56 L86.20,86.57 L86.70,86.57 L87.20,86.58 L87.70,86.58 L88.20,86.58 L88.70,86.58 L89.20,86.58 L89.70,86.58 L90.20,86.58 L90.70,86.57 L91.20,86.57 L91.70,86.56 L92.20,86.56 L92.70,86.55 L93.20,86.55 L93.70,86.54 L94.20,86.54 L94.70,86.53 L95.20,86.52 L95.70,86.52 L96.20,86.51 L96.70,86.51 L97.20,86.50 L97.70,86.49 L98.20,86.49 L98.70,86.48 L99.20,86.48 L99.70,86.47 L100.20,86.46 L100.70,86.46 L101.20,86.45 L101.70,86.45 L102.20,86.44 L102.70,86.44 L103.20,86.44 L103.70,86.43 L107.70,86.40 L111.70,86.37 L115.70,86.36 L119.70,86.34 L123.70,86.33 L127.70,86.32 L131.70,86.32 L135.70,86.31 L139.70,86.31 L143.70,86.31 L147.70,86.31 L150.00,86.30" fill="none" stroke="#000" stroke-width="0.6" stroke-linejoin="round" />
<path d="M33.50,111.00 L33.50,144.00 L53.00,144.00" fill="none" stroke="#000" stroke-width="1" stroke-linejoin="round" />
<text x="4.5" y="132.8" font-size="12"  text-anchor="start" fill="#1a1a1a" >5 nA</text>
<text x="37.3" y="157.5" font-size="12"  text-anchor="start" fill="#1a1a1a" >5 ms</text>
<line x1="160.5" y1="120.5" x2="176.25" y2="120.5" stroke="#444" stroke-width="0.7" />
<line x1="176.25" y1="120.8" x2="176.25" y2="78" stroke="#444" stroke-width="0.7" />
<line x1="176.25" y1="78.0" x2="201.25" y2="78.0" stroke="#555" stroke-width="0.7" />
<line x1="176.25" y1="80.15625" x2="201.25" y2="80.15625" stroke="#555" stroke-width="0.7" />
<line x1="176.25" y1="82.3125" x2="201.25" y2="82.3125" stroke="#555" stroke-width="0.7" />
<line x1="176.25" y1="84.46875" x2="201.25" y2="84.46875" stroke="#555" stroke-width="0.7" />
<line x1="176.25" y1="86.625" x2="201.25" y2="86.625" stroke="#555" stroke-width="0.7" />
<line x1="176.25" y1="88.78125" x2="201.25" y2="88.78125" stroke="#555" stroke-width="0.7" />
<line x1="176.25" y1="90.9375" x2="201.25" y2="90.9375" stroke="#555" stroke-width="0.7" />
<line x1="176.25" y1="93.09375" x2="201.25" y2="93.09375" stroke="#555" stroke-width="0.7" />
<line x1="176.25" y1="95.25" x2="201.25" y2="95.25" stroke="#555" stroke-width="0.7" />
<line x1="176.25" y1="97.40625" x2="201.25" y2="97.40625" stroke="#555" stroke-width="0.7" />
<line x1="176.25" y1="99.5625" x2="201.25" y2="99.5625" stroke="#555" stroke-width="0.7" />
<line x1="176.25" y1="101.71875" x2="201.25" y2="101.71875" stroke="#555" stroke-width="0.7" />
<line x1="176.25" y1="103.875" x2="201.25" y2="103.875" stroke="#555" stroke-width="0.7" />
<line x1="176.25" y1="106.03125" x2="201.25" y2="106.03125" stroke="#555" stroke-width="0.7" />
<line x1="176.25" y1="108.1875" x2="201.25" y2="108.1875" stroke="#555" stroke-width="0.7" />
<line x1="176.25" y1="110.34375" x2="201.25" y2="110.34375" stroke="#555" stroke-width="0.7" />
<line x1="176.25" y1="112.5" x2="201.25" y2="112.5" stroke="#555" stroke-width="0.7" />
<text x="182.4" y="73.6" font-size="12"  text-anchor="start" fill="#1a1a1a" >+80 mV</text>
<text x="182.5" y="125" font-size="12"  text-anchor="start" fill="#1a1a1a" >-80 mV</text>
<text x="130.5" y="138" font-size="12"  text-anchor="start" fill="#1a1a1a" >-120 mV</text>
<text x="305.7" y="57" font-size="12" font-weight="bold" text-anchor="start" fill="#1a1a1a" >A735V</text>
<line x1="265" y1="88.0" x2="306" y2="88.0" stroke="#2a2a2a" stroke-width="0.9" />
<path d="M305.30,90.60 L305.30,82.30 L306.00,86.00 L306.60,88.00 L307.20,86.00 L307.70,82.50 L308.20,88.50" fill="none" stroke="#000" stroke-width="0.9" stroke-linejoin="round" />
<path d="M306.00,88.00 L312.00,88.80 L396.50,89.60" fill="none" stroke="#000" stroke-width="0.6" stroke-linejoin="round" />
<path d="M306.00,88.00 L312.00,88.75 L396.50,89.49" fill="none" stroke="#000" stroke-width="0.6" stroke-linejoin="round" />
<path d="M306.00,88.00 L312.00,88.69 L396.50,89.39" fill="none" stroke="#000" stroke-width="0.6" stroke-linejoin="round" />
<path d="M305.60,88.04 L305.80,88.09 L306.00,88.16 L306.20,88.24 L306.40,88.33 L306.60,88.42 L306.80,88.51 L307.00,88.61 L307.20,88.70 L307.40,88.80 L307.60,88.89 L307.80,88.99 L308.00,89.09 L308.20,89.19 L308.40,89.29 L308.60,89.38 L308.80,89.48 L309.00,89.58 L309.20,89.68 L309.40,89.78 L309.60,89.89 L309.80,89.99 L310.00,90.09 L310.20,90.19 L310.40,90.29 L310.60,90.39 L310.80,90.49 L311.00,90.60 L311.20,90.70 L311.40,90.80 L311.60,90.90 L311.80,91.01 L312.00,91.11 L312.20,91.21 L312.40,91.32 L312.60,91.42 L312.80,91.53 L313.00,91.63 L313.20,91.72 L313.40,91.80 L313.60,91.84 L313.80,91.83 L314.00,91.78 L314.20,91.71 L314.40,91.64 L314.60,91.57 L314.80,91.50 L315.00,91.43 L315.20,91.37 L315.40,91.31 L315.60,91.25 L315.80,91.19 L316.00,91.13 L316.20,91.08 L316.40,91.02 L316.60,90.97 L316.80,90.92 L317.00,90.87 L317.20,90.82 L317.40,90.78 L317.60,90.73 L317.80,90.69 L318.00,90.64 L318.20,90.60 L318.40,90.56 L318.60,90.53 L318.80,90.49 L319.00,90.45 L319.20,90.42 L319.40,90.38 L319.60,90.35 L319.80,90.32 L320.00,90.29 L320.20,90.26 L320.40,90.23 L320.60,90.20 L320.80,90.17 L321.00,90.14 L321.20,90.12 L321.40,90.09 L321.60,90.07 L321.80,90.05 L322.00,90.02 L322.20,90.00 L322.40,89.98 L322.90,89.93 L323.40,89.88 L323.90,89.84 L324.40,89.80 L324.90,89.76 L325.40,89.72 L325.90,89.69 L326.40,89.66 L326.90,89.63 L327.40,89.61 L327.90,89.58 L328.40,89.56 L328.90,89.54 L329.40,89.52 L329.90,89.50 L330.40,89.49 L330.90,89.47 L331.40,89.46 L331.90,89.45 L332.40,89.43 L332.90,89.42 L333.40,89.41 L333.90,89.40 L334.40,89.39 L334.90,89.38 L335.40,89.38 L335.90,89.37 L336.40,89.36 L336.90,89.36 L337.40,89.35 L337.90,89.35 L338.40,89.34 L338.90,89.34 L339.40,89.33 L343.40,89.31 L347.40,89.30 L351.40,89.29 L355.40,89.29 L359.40,89.28 L363.40,89.28 L367.40,89.28 L371.40,89.28 L375.40,89.28 L379.40,89.28 L383.40,89.28 L387.40,89.28 L391.40,89.28 L395.40,89.28 L396.50,89.28" fill="none" stroke="#000" stroke-width="0.6" stroke-linejoin="round" />
<path d="M305.60,88.09 L305.80,88.20 L306.00,88.36 L306.20,88.55 L306.40,88.76 L306.60,88.99 L306.80,89.22 L307.00,89.47 L307.20,89.72 L307.40,89.98 L307.60,90.24 L307.80,90.51 L308.00,90.78 L308.20,91.05 L308.40,91.34 L308.60,91.62 L308.80,91.91 L309.00,92.20 L309.20,92.49 L309.40,92.79 L309.60,93.09 L309.80,93.40 L310.00,93.70 L310.20,94.01 L310.40,94.32 L310.60,94.64 L310.80,94.95 L311.00,95.27 L311.20,95.56 L311.40,95.79 L311.60,95.90 L311.80,95.87 L312.00,95.72 L312.20,95.51 L312.40,95.29 L312.60,95.07 L312.80,94.86 L313.00,94.66 L313.20,94.46 L313.40,94.27 L313.60,94.09 L313.80,93.91 L314.00,93.74 L314.20,93.58 L314.40,93.42 L314.60,93.27 L314.80,93.12 L315.00,92.98 L315.20,92.84 L315.40,92.71 L315.60,92.58 L315.80,92.46 L316.00,92.34 L316.20,92.23 L316.40,92.12 L316.60,92.01 L316.80,91.91 L317.00,91.81 L317.20,91.72 L317.40,91.63 L317.60,91.54 L317.80,91.45 L318.00,91.37 L318.20,91.29 L318.40,91.22 L318.60,91.14 L318.80,91.07 L319.00,91.00 L319.20,90.94 L319.40,90.88 L319.60,90.81 L319.80,90.76 L320.00,90.70 L320.20,90.64 L320.40,90.59 L320.60,90.54 L320.80,90.49 L321.00,90.44 L321.20,90.40 L321.40,90.35 L321.60,90.31 L321.80,90.27 L322.00,90.23 L322.20,90.19 L322.40,90.16 L322.90,90.07 L323.40,89.99 L323.90,89.92 L324.40,89.86 L324.90,89.80 L325.40,89.74 L325.90,89.69 L326.40,89.65 L326.90,89.61 L327.40,89.57 L327.90,89.53 L328.40,89.50 L328.90,89.47 L329.40,89.45 L329.90,89.42 L330.40,89.40 L330.90,89.38 L331.40,89.36 L331.90,89.35 L332.40,89.33 L332.90,89.32 L333.40,89.31 L333.90,89.29 L334.40,89.28 L334.90,89.27 L335.40,89.27 L335.90,89.26 L336.40,89.25 L336.90,89.24 L337.40,89.24 L337.90,89.23 L338.40,89.23 L338.90,89.22 L339.40,89.22 L343.40,89.20 L347.40,89.19 L351.40,89.18 L355.40,89.18 L359.40,89.18 L363.40,89.18 L367.40,89.18 L371.40,89.18 L375.40,89.18 L379.40,89.18 L383.40,89.18 L387.40,89.18 L391.40,89.18 L395.40,89.18 L396.50,89.18" fill="none" stroke="#000" stroke-width="0.6" stroke-linejoin="round" />
<path d="M305.60,88.20 L305.80,88.45 L306.00,88.79 L306.20,89.23 L306.40,89.71 L306.60,90.23 L306.80,90.78 L307.00,91.35 L307.20,91.94 L307.40,92.55 L307.60,93.17 L307.80,93.81 L308.00,94.46 L308.20,95.12 L308.40,95.80 L308.60,96.49 L308.80,97.18 L309.00,97.89 L309.20,98.61 L309.40,99.32 L309.60,99.99 L309.80,100.53 L310.00,100.80 L310.20,100.76 L310.40,100.45 L310.60,100.02 L310.80,99.57 L311.00,99.12 L311.20,98.68 L311.40,98.27 L311.60,97.88 L311.80,97.50 L312.00,97.13 L312.20,96.79 L312.40,96.46 L312.60,96.14 L312.80,95.83 L313.00,95.54 L313.20,95.26 L313.40,95.00 L313.60,94.74 L313.80,94.50 L314.00,94.27 L314.20,94.04 L314.40,93.83 L314.60,93.62 L314.80,93.43 L315.00,93.24 L315.20,93.06 L315.40,92.89 L315.60,92.72 L315.80,92.57 L316.00,92.41 L316.20,92.27 L316.40,92.13 L316.60,92.00 L316.80,91.87 L317.00,91.75 L317.20,91.64 L317.40,91.53 L317.60,91.42 L317.80,91.32 L318.00,91.22 L318.20,91.13 L318.40,91.04 L318.60,90.95 L318.80,90.87 L319.00,90.80 L319.20,90.72 L319.40,90.65 L319.60,90.58 L319.80,90.52 L320.00,90.45 L320.20,90.39 L320.40,90.34 L320.60,90.28 L320.80,90.23 L321.00,90.18 L321.20,90.13 L321.40,90.08 L321.60,90.04 L321.80,90.00 L322.00,89.96 L322.20,89.92 L322.40,89.88 L322.90,89.80 L323.40,89.72 L323.90,89.65 L324.40,89.59 L324.90,89.54 L325.40,89.49 L325.90,89.44 L326.40,89.40 L326.90,89.37 L327.40,89.34 L327.90,89.31 L328.40,89.28 L328.90,89.26 L329.40,89.24 L329.90,89.22 L330.40,89.21 L330.90,89.19 L331.40,89.18 L331.90,89.17 L332.40,89.16 L332.90,89.15 L333.40,89.14 L333.90,89.13 L334.40,89.12 L334.90,89.12 L335.40,89.11 L335.90,89.11 L336.40,89.10 L336.90,89.10 L337.40,89.10 L337.90,89.09 L338.40,89.09 L338.90,89.09 L339.40,89.09 L343.40,89.08 L347.40,89.07 L351.40,89.07 L355.40,89.07 L359.40,89.07 L363.40,89.07 L367.40,89.07 L371.40,89.07 L375.40,89.07 L379.40,89.07 L383.40,89.07 L387.40,89.07 L391.40,89.07 L395.40,89.07 L396.50,89.07" fill="none" stroke="#000" stroke-width="0.6" stroke-linejoin="round" />
<path d="M305.60,88.32 L305.80,88.71 L306.00,89.27 L306.20,89.96 L306.40,90.74 L306.60,91.58 L306.80,92.47 L307.00,93.40 L307.20,94.35 L307.40,95.34 L307.60,96.36 L307.80,97.40 L308.00,98.46 L308.20,99.55 L308.40,100.65 L308.60,101.75 L308.80,102.80 L309.00,103.64 L309.20,104.08 L309.40,104.03 L309.60,103.59 L309.80,102.96 L310.00,102.29 L310.20,101.63 L310.40,101.01 L310.60,100.42 L310.80,99.85 L311.00,99.31 L311.20,98.80 L311.40,98.32 L311.60,97.85 L311.80,97.41 L312.00,97.00 L312.20,96.60 L312.40,96.22 L312.60,95.86 L312.80,95.52 L313.00,95.20 L313.20,94.89 L313.40,94.60 L313.60,94.32 L313.80,94.05 L314.00,93.80 L314.20,93.56 L314.40,93.33 L314.60,93.11 L314.80,92.91 L315.00,92.71 L315.20,92.53 L315.40,92.35 L315.60,92.18 L315.80,92.02 L316.00,91.87 L316.20,91.73 L316.40,91.59 L316.60,91.46 L316.80,91.33 L317.00,91.22 L317.20,91.10 L317.40,91.00 L317.60,90.90 L317.80,90.80 L318.00,90.71 L318.20,90.62 L318.40,90.54 L318.60,90.46 L318.80,90.38 L319.00,90.31 L319.20,90.25 L319.40,90.18 L319.60,90.12 L319.80,90.06 L320.00,90.01 L320.20,89.95 L320.40,89.91 L320.60,89.86 L320.80,89.81 L321.00,89.77 L321.20,89.73 L321.40,89.69 L321.60,89.65 L321.80,89.62 L322.00,89.59 L322.20,89.56 L322.40,89.53 L322.90,89.46 L323.40,89.40 L323.90,89.34 L324.40,89.30 L324.90,89.26 L325.40,89.22 L325.90,89.19 L326.40,89.16 L326.90,89.14 L327.40,89.12 L327.90,89.10 L328.40,89.08 L328.90,89.07 L329.40,89.05 L329.90,89.04 L330.40,89.03 L330.90,89.02 L331.40,89.01 L331.90,89.01 L332.40,89.00 L332.90,89.00 L333.40,88.99 L333.90,88.99 L334.40,88.99 L334.90,88.98 L335.40,88.98 L335.90,88.98 L336.40,88.98 L336.90,88.97 L337.40,88.97 L337.90,88.97 L338.40,88.97 L338.90,88.97 L339.40,88.97 L343.40,88.96 L347.40,88.96 L351.40,88.96 L355.40,88.96 L359.40,88.96 L363.40,88.96 L367.40,88.96 L371.40,88.96 L375.40,88.96 L379.40,88.96 L383.40,88.96 L387.40,88.96 L391.40,88.96 L395.40,88.96 L396.50,88.96" fill="none" stroke="#000" stroke-width="0.6" stroke-linejoin="round" />
<path d="M305.60,88.34 L305.80,88.75 L306.00,89.35 L306.20,90.09 L306.40,90.93 L306.60,91.83 L306.80,92.78 L307.00,93.77 L307.20,94.79 L307.40,95.85 L307.60,96.94 L307.80,98.06 L308.00,99.19 L308.20,100.34 L308.40,101.42 L308.60,102.30 L308.80,102.77 L309.00,102.74 L309.20,102.31 L309.40,101.69 L309.60,101.02 L309.80,100.37 L310.00,99.76 L310.20,99.18 L310.40,98.63 L310.60,98.11 L310.80,97.61 L311.00,97.14 L311.20,96.70 L311.40,96.28 L311.60,95.88 L311.80,95.51 L312.00,95.15 L312.20,94.81 L312.40,94.50 L312.60,94.19 L312.80,93.91 L313.00,93.64 L313.20,93.38 L313.40,93.14 L313.60,92.91 L313.80,92.69 L314.00,92.48 L314.20,92.29 L314.40,92.10 L314.60,91.93 L314.80,91.76 L315.00,91.61 L315.20,91.46 L315.40,91.32 L315.60,91.19 L315.80,91.06 L316.00,90.94 L316.20,90.83 L316.40,90.72 L316.60,90.62 L316.80,90.52 L317.00,90.43 L317.20,90.35 L317.40,90.27 L317.60,90.19 L317.80,90.12 L318.00,90.05 L318.20,89.98 L318.40,89.92 L318.60,89.87 L318.80,89.81 L319.00,89.76 L319.20,89.71 L319.40,89.66 L319.60,89.62 L319.80,89.58 L320.00,89.54 L320.20,89.50 L320.40,89.46 L320.60,89.43 L320.80,89.40 L321.00,89.37 L321.20,89.34 L321.40,89.31 L321.60,89.29 L321.80,89.26 L322.00,89.24 L322.20,89.22 L322.40,89.20 L322.90,89.15 L323.40,89.11 L323.90,89.08 L324.40,89.05 L324.90,89.02 L325.40,89.00 L325.90,88.98 L326.40,88.96 L326.90,88.95 L327.40,88.94 L327.90,88.93 L328.40,88.92 L328.90,88.91 L329.40,88.90 L329.90,88.89 L330.40,88.89 L330.90,88.88 L331.40,88.88 L331.90,88.88 L332.40,88.87 L332.90,88.87 L333.40,88.87 L333.90,88.87 L334.40,88.86 L334.90,88.86 L335.40,88.86 L335.90,88.86 L336.40,88.86 L336.90,88.86 L337.40,88.86 L337.90,88.86 L338.40,88.86 L338.90,88.86 L339.40,88.86 L343.40,88.86 L347.40,88.86 L351.40,88.86 L355.40,88.86 L359.40,88.86 L363.40,88.86 L367.40,88.86 L371.40,88.86 L375.40,88.86 L379.40,88.86 L383.40,88.86 L387.40,88.86 L391.40,88.86 L395.40,88.86 L396.50,88.86" fill="none" stroke="#000" stroke-width="0.6" stroke-linejoin="round" />
<path d="M305.60,88.35 L305.80,88.76 L306.00,89.36 L306.20,90.11 L306.40,90.96 L306.60,91.87 L306.80,92.83 L307.00,93.83 L307.20,94.87 L307.40,95.94 L307.60,97.04 L307.80,98.16 L308.00,99.27 L308.20,100.26 L308.40,100.96 L308.60,101.19 L308.80,100.96 L309.00,100.45 L309.20,99.83 L309.40,99.22 L309.60,98.63 L309.80,98.07 L310.00,97.54 L310.20,97.05 L310.40,96.58 L310.60,96.13 L310.80,95.72 L311.00,95.32 L311.20,94.95 L311.40,94.60 L311.60,94.27 L311.80,93.96 L312.00,93.66 L312.20,93.38 L312.40,93.12 L312.60,92.87 L312.80,92.64 L313.00,92.42 L313.20,92.21 L313.40,92.01 L313.60,91.82 L313.80,91.65 L314.00,91.48 L314.20,91.33 L314.40,91.18 L314.60,91.04 L314.80,90.91 L315.00,90.79 L315.20,90.67 L315.40,90.56 L315.60,90.46 L315.80,90.36 L316.00,90.27 L316.20,90.18 L316.40,90.10 L316.60,90.02 L316.80,89.95 L317.00,89.88 L317.20,89.81 L317.40,89.75 L317.60,89.69 L317.80,89.64 L318.00,89.59 L318.20,89.54 L318.40,89.49 L318.60,89.45 L318.80,89.41 L319.00,89.37 L319.20,89.33 L319.40,89.30 L319.60,89.27 L319.80,89.24 L320.00,89.21 L320.20,89.18 L320.40,89.16 L320.60,89.13 L320.80,89.11 L321.00,89.09 L321.20,89.07 L321.40,89.05 L321.60,89.03 L321.80,89.01 L322.00,89.00 L322.20,88.98 L322.40,88.97 L322.90,88.94 L323.40,88.91 L323.90,88.89 L324.40,88.87 L324.90,88.85 L325.40,88.83 L325.90,88.82 L326.40,88.81 L326.90,88.80 L327.40,88.79 L327.90,88.79 L328.40,88.78 L328.90,88.78 L329.40,88.77 L329.90,88.77 L330.40,88.76 L330.90,88.76 L331.40,88.76 L331.90,88.76 L332.40,88.76 L332.90,88.76 L333.40,88.75 L333.90,88.75 L334.40,88.75 L334.90,88.75 L335.40,88.75 L335.90,88.75 L336.40,88.75 L336.90,88.75 L337.40,88.75 L337.90,88.75 L338.40,88.75 L338.90,88.75 L339.40,88.75 L343.40,88.75 L347.40,88.75 L351.40,88.75 L355.40,88.75 L359.40,88.75 L363.40,88.75 L367.40,88.75 L371.40,88.75 L375.40,88.75 L379.40,88.75 L383.40,88.75 L387.40,88.75 L391.40,88.75 L395.40,88.75 L396.50,88.75" fill="none" stroke="#000" stroke-width="0.6" stroke-linejoin="round" />
<path d="M305.60,88.35 L305.80,88.76 L306.00,89.37 L306.20,90.12 L306.40,90.96 L306.60,91.88 L306.80,92.84 L307.00,93.85 L307.20,94.89 L307.40,95.97 L307.60,97.05 L307.80,98.09 L308.00,98.95 L308.20,99.43 L308.40,99.44 L308.60,99.08 L308.80,98.54 L309.00,97.97 L309.20,97.41 L309.40,96.89 L309.60,96.39 L309.80,95.93 L310.00,95.49 L310.20,95.08 L310.40,94.69 L310.60,94.33 L310.80,93.99 L311.00,93.67 L311.20,93.37 L311.40,93.08 L311.60,92.81 L311.80,92.56 L312.00,92.33 L312.20,92.10 L312.40,91.90 L312.60,91.70 L312.80,91.51 L313.00,91.34 L313.20,91.18 L313.40,91.02 L313.60,90.88 L313.80,90.74 L314.00,90.61 L314.20,90.49 L314.40,90.38 L314.60,90.28 L314.80,90.18 L315.00,90.08 L315.20,89.99 L315.40,89.91 L315.60,89.83 L315.80,89.76 L316.00,89.69 L316.20,89.63 L316.40,89.57 L316.60,89.51 L316.80,89.46 L317.00,89.41 L317.20,89.36 L317.40,89.31 L317.60,89.27 L317.80,89.23 L318.00,89.20 L318.20,89.16 L318.40,89.13 L318.60,89.10 L318.80,89.07 L319.00,89.04 L319.20,89.02 L319.40,88.99 L319.60,88.97 L319.80,88.95 L320.00,88.93 L320.20,88.91 L320.40,88.90 L320.60,88.88 L320.80,88.86 L321.00,88.85 L321.20,88.84 L321.40,88.82 L321.60,88.81 L321.80,88.80 L322.00,88.79 L322.20,88.78 L322.40,88.77 L322.90,88.75 L323.40,88.73 L323.90,88.72 L324.40,88.71 L324.90,88.70 L325.40,88.69 L325.90,88.68 L326.40,88.67 L326.90,88.67 L327.40,88.66 L327.90,88.66 L328.40,88.66 L328.90,88.65 L329.40,88.65 L329.90,88.65 L330.40,88.65 L330.90,88.65 L331.40,88.65 L331.90,88.65 L332.40,88.64 L332.90,88.64 L333.40,88.64 L333.90,88.64 L334.40,88.64 L334.90,88.64 L335.40,88.64 L335.90,88.64 L336.40,88.64 L336.90,88.64 L337.40,88.64 L337.90,88.64 L338.40,88.64 L338.90,88.64 L339.40,88.64 L343.40,88.64 L347.40,88.64 L351.40,88.64 L355.40,88.64 L359.40,88.64 L363.40,88.64 L367.40,88.64 L371.40,88.64 L375.40,88.64 L379.40,88.64 L383.40,88.64 L387.40,88.64 L391.40,88.64 L395.40,88.64 L396.50,88.64" fill="none" stroke="#000" stroke-width="0.6" stroke-linejoin="round" />
<path d="M305.60,88.33 L305.80,88.72 L306.00,89.28 L306.20,89.99 L306.40,90.79 L306.60,91.65 L306.80,92.55 L307.00,93.50 L307.20,94.48 L307.40,95.48 L307.60,96.44 L307.80,97.22 L308.00,97.67 L308.20,97.69 L308.40,97.37 L308.60,96.88 L308.80,96.37 L309.00,95.87 L309.20,95.40 L309.40,94.97 L309.60,94.56 L309.80,94.17 L310.00,93.81 L310.20,93.48 L310.40,93.16 L310.60,92.86 L310.80,92.59 L311.00,92.33 L311.20,92.08 L311.40,91.86 L311.60,91.64 L311.80,91.44 L312.00,91.26 L312.20,91.08 L312.40,90.92 L312.60,90.76 L312.80,90.62 L313.00,90.48 L313.20,90.36 L313.40,90.24 L313.60,90.13 L313.80,90.02 L314.00,89.93 L314.20,89.84 L314.40,89.75 L314.60,89.67 L314.80,89.60 L315.00,89.53 L315.20,89.46 L315.40,89.40 L315.60,89.34 L315.80,89.29 L316.00,89.24 L316.20,89.19 L316.40,89.15 L316.60,89.11 L316.80,89.07 L317.00,89.04 L317.20,89.00 L317.40,88.97 L317.60,88.94 L317.80,88.91 L318.00,88.89 L318.20,88.86 L318.40,88.84 L318.60,88.82 L318.80,88.80 L319.00,88.78 L319.20,88.77 L319.40,88.75 L319.60,88.74 L319.80,88.72 L320.00,88.71 L320.20,88.70 L320.40,88.69 L320.60,88.67 L320.80,88.66 L321.00,88.66 L321.20,88.65 L321.40,88.64 L321.60,88.63 L321.80,88.62 L322.00,88.62 L322.20,88.61 L322.40,88.61 L322.90,88.59 L323.40,88.58 L323.90,88.57 L324.40,88.57 L324.90,88.56 L325.40,88.56 L325.90,88.55 L326.40,88.55 L326.90,88.55 L327.40,88.54 L327.90,88.54 L328.40,88.54 L328.90,88.54 L329.40,88.54 L329.90,88.54 L330.40,88.54 L330.90,88.54 L331.40,88.54 L331.90,88.54 L332.40,88.54 L332.90,88.54 L333.40,88.54 L333.90,88.54 L334.40,88.54 L334.90,88.54 L335.40,88.54 L335.90,88.54 L336.40,88.54 L336.90,88.54 L337.40,88.54 L337.90,88.54 L338.40,88.54 L338.90,88.54 L339.40,88.54 L343.40,88.54 L347.40,88.54 L351.40,88.54 L355.40,88.54 L359.40,88.54 L363.40,88.54 L367.40,88.54 L371.40,88.54 L375.40,88.54 L379.40,88.54 L383.40,88.54 L387.40,88.54 L391.40,88.54 L395.40,88.54 L396.50,88.54" fill="none" stroke="#000" stroke-width="0.6" stroke-linejoin="round" />
<path d="M305.60,88.30 L305.80,88.66 L306.00,89.18 L306.20,89.83 L306.40,90.57 L306.60,91.36 L306.80,92.20 L307.00,93.07 L307.20,93.96 L307.40,94.82 L307.60,95.53 L307.80,95.94 L308.00,95.97 L308.20,95.71 L308.40,95.30 L308.60,94.86 L308.80,94.44 L309.00,94.05 L309.20,93.68 L309.40,93.33 L309.60,93.01 L309.80,92.71 L310.00,92.42 L310.20,92.16 L310.40,91.91 L310.60,91.68 L310.80,91.47 L311.00,91.26 L311.20,91.08 L311.40,90.90 L311.60,90.74 L311.80,90.58 L312.00,90.44 L312.20,90.30 L312.40,90.18 L312.60,90.06 L312.80,89.95 L313.00,89.85 L313.20,89.75 L313.40,89.67 L313.60,89.58 L313.80,89.50 L314.00,89.43 L314.20,89.36 L314.40,89.30 L314.60,89.24 L314.80,89.19 L315.00,89.13 L315.20,89.09 L315.40,89.04 L315.60,89.00 L315.80,88.96 L316.00,88.92 L316.20,88.89 L316.40,88.86 L316.60,88.83 L316.80,88.80 L317.00,88.77 L317.20,88.75 L317.40,88.73 L317.60,88.71 L317.80,88.69 L318.00,88.67 L318.20,88.65 L318.40,88.64 L318.60,88.62 L318.80,88.61 L319.00,88.59 L319.20,88.58 L319.40,88.57 L319.60,88.56 L319.80,88.55 L320.00,88.54 L320.20,88.53 L320.40,88.53 L320.60,88.52 L320.80,88.51 L321.00,88.51 L321.20,88.50 L321.40,88.49 L321.60,88.49 L321.80,88.48 L322.00,88.48 L322.20,88.48 L322.40,88.47 L322.90,88.46 L323.40,88.46 L323.90,88.45 L324.40,88.45 L324.90,88.44 L325.40,88.44 L325.90,88.44 L326.40,88.44 L326.90,88.43 L327.40,88.43 L327.90,88.43 L328.40,88.43 L328.90,88.43 L329.40,88.43 L329.90,88.43 L330.40,88.43 L330.90,88.43 L331.40,88.43 L331.90,88.43 L332.40,88.43 L332.90,88.43 L333.40,88.43 L333.90,88.43 L334.40,88.43 L334.90,88.43 L335.40,88.43 L335.90,88.43 L336.40,88.43 L336.90,88.43 L337.40,88.43 L337.90,88.43 L338.40,88.43 L338.90,88.43 L339.40,88.43 L343.40,88.43 L347.40,88.43 L351.40,88.43 L355.40,88.43 L359.40,88.43 L363.40,88.43 L367.40,88.43 L371.40,88.43 L375.40,88.43 L379.40,88.43 L383.40,88.43 L387.40,88.43 L391.40,88.43 L395.40,88.43 L396.50,88.43" fill="none" stroke="#000" stroke-width="0.6" stroke-linejoin="round" />
<path d="M305.60,88.27 L305.80,88.59 L306.00,89.07 L306.20,89.65 L306.40,90.32 L306.60,91.03 L306.80,91.79 L307.00,92.57 L307.20,93.32 L307.40,93.95 L307.60,94.32 L307.80,94.37 L308.00,94.16 L308.20,93.82 L308.40,93.46 L308.60,93.11 L308.80,92.79 L309.00,92.48 L309.20,92.20 L309.40,91.94 L309.60,91.69 L309.80,91.46 L310.00,91.24 L310.20,91.04 L310.40,90.86 L310.60,90.68 L310.80,90.52 L311.00,90.37 L311.20,90.23 L311.40,90.10 L311.60,89.98 L311.80,89.86 L312.00,89.76 L312.20,89.66 L312.40,89.56 L312.60,89.48 L312.80,89.40 L313.00,89.32 L313.20,89.25 L313.40,89.19 L313.60,89.13 L313.80,89.07 L314.00,89.02 L314.20,88.97 L314.40,88.92 L314.60,88.88 L314.80,88.84 L315.00,88.81 L315.20,88.77 L315.40,88.74 L315.60,88.71 L315.80,88.68 L316.00,88.66 L316.20,88.63 L316.40,88.61 L316.60,88.59 L316.80,88.57 L317.00,88.55 L317.20,88.53 L317.40,88.52 L317.60,88.50 L317.80,88.49 L318.00,88.48 L318.20,88.47 L318.40,88.46 L318.60,88.45 L318.80,88.44 L319.00,88.43 L319.20,88.42 L319.40,88.41 L319.60,88.41 L319.80,88.40 L320.00,88.39 L320.20,88.39 L320.40,88.38 L320.60,88.38 L320.80,88.37 L321.00,88.37 L321.20,88.37 L321.40,88.36 L321.60,88.36 L321.80,88.36 L322.00,88.35 L322.20,88.35 L322.40,88.35 L322.90,88.34 L323.40,88.34 L323.90,88.34 L324.40,88.33 L324.90,88.33 L325.40,88.33 L325.90,88.33 L326.40,88.33 L326.90,88.32 L327.40,88.32 L327.90,88.32 L328.40,88.32 L328.90,88.32 L329.40,88.32 L329.90,88.32 L330.40,88.32 L330.90,88.32 L331.40,88.32 L331.90,88.32 L332.40,88.32 L332.90,88.32 L333.40,88.32 L333.90,88.32 L334.40,88.32 L334.90,88.32 L335.40,88.32 L335.90,88.32 L336.40,88.32 L336.90,88.32 L337.40,88.32 L337.90,88.32 L338.40,88.32 L338.90,88.32 L339.40,88.32 L343.40,88.32 L347.40,88.32 L351.40,88.32 L355.40,88.32 L359.40,88.32 L363.40,88.32 L367.40,88.32 L371.40,88.32 L375.40,88.32 L379.40,88.32 L383.40,88.32 L387.40,88.32 L391.40,88.32 L395.40,88.32 L396.50,88.32" fill="none" stroke="#000" stroke-width="0.6" stroke-linejoin="round" />
<path d="M305.60,88.21 L305.80,88.47 L306.00,88.84 L306.20,89.31 L306.40,89.83 L306.60,90.40 L306.80,90.99 L307.00,91.59 L307.20,92.14 L307.40,92.55 L307.60,92.71 L307.80,92.64 L308.00,92.42 L308.20,92.15 L308.40,91.87 L308.60,91.62 L308.80,91.38 L309.00,91.16 L309.20,90.95 L309.40,90.76 L309.60,90.58 L309.80,90.41 L310.00,90.25 L310.20,90.11 L310.40,89.98 L310.60,89.85 L310.80,89.74 L311.00,89.63 L311.20,89.53 L311.40,89.43 L311.60,89.35 L311.80,89.27 L312.00,89.19 L312.20,89.12 L312.40,89.06 L312.60,89.00 L312.80,88.94 L313.00,88.89 L313.20,88.84 L313.40,88.79 L313.60,88.75 L313.80,88.71 L314.00,88.68 L314.20,88.64 L314.40,88.61 L314.60,88.58 L314.80,88.56 L315.00,88.53 L315.20,88.51 L315.40,88.49 L315.60,88.47 L315.80,88.45 L316.00,88.43 L316.20,88.42 L316.40,88.40 L316.60,88.39 L316.80,88.37 L317.00,88.36 L317.20,88.35 L317.40,88.34 L317.60,88.33 L317.80,88.32 L318.00,88.31 L318.20,88.31 L318.40,88.30 L318.60,88.29 L318.80,88.29 L319.00,88.28 L319.20,88.28 L319.40,88.27 L319.60,88.27 L319.80,88.26 L320.00,88.26 L320.20,88.26 L320.40,88.25 L320.60,88.25 L320.80,88.25 L321.00,88.24 L321.20,88.24 L321.40,88.24 L321.60,88.24 L321.80,88.24 L322.00,88.23 L322.20,88.23 L322.40,88.23 L322.90,88.23 L323.40,88.23 L323.90,88.22 L324.40,88.22 L324.90,88.22 L325.40,88.22 L325.90,88.22 L326.40,88.22 L326.90,88.22 L327.40,88.22 L327.90,88.22 L328.40,88.22 L328.90,88.22 L329.40,88.22 L329.90,88.22 L330.40,88.22 L330.90,88.22 L331.40,88.22 L331.90,88.22 L332.40,88.22 L332.90,88.22 L333.40,88.22 L333.90,88.22 L334.40,88.22 L334.90,88.22 L335.40,88.22 L335.90,88.22 L336.40,88.22 L336.90,88.22 L337.40,88.22 L337.90,88.22 L338.40,88.22 L338.90,88.22 L339.40,88.22 L343.40,88.22 L347.40,88.22 L351.40,88.22 L355.40,88.22 L359.40,88.22 L363.40,88.22 L367.40,88.22 L371.40,88.22 L375.40,88.22 L379.40,88.22 L383.40,88.22 L387.40,88.22 L391.40,88.22 L395.40,88.22 L396.50,88.22" fill="none" stroke="#000" stroke-width="0.6" stroke-linejoin="round" />
<path d="M305.60,88.16 L305.80,88.35 L306.00,88.62 L306.20,88.96 L306.40,89.35 L306.60,89.77 L306.80,90.20 L307.00,90.63 L307.20,90.98 L307.40,91.20 L307.60,91.23 L307.80,91.11 L308.00,90.93 L308.20,90.73 L308.40,90.54 L308.60,90.37 L308.80,90.20 L309.00,90.05 L309.20,89.91 L309.40,89.78 L309.60,89.66 L309.80,89.55 L310.00,89.44 L310.20,89.34 L310.40,89.25 L310.60,89.17 L310.80,89.09 L311.00,89.02 L311.20,88.95 L311.40,88.89 L311.60,88.84 L311.80,88.78 L312.00,88.73 L312.20,88.69 L312.40,88.64 L312.60,88.61 L312.80,88.57 L313.00,88.53 L313.20,88.50 L313.40,88.47 L313.60,88.45 L313.80,88.42 L314.00,88.40 L314.20,88.38 L314.40,88.36 L314.60,88.34 L314.80,88.32 L315.00,88.31 L315.20,88.29 L315.40,88.28 L315.60,88.26 L315.80,88.25 L316.00,88.24 L316.20,88.23 L316.40,88.22 L316.60,88.21 L316.80,88.21 L317.00,88.20 L317.20,88.19 L317.40,88.19 L317.60,88.18 L317.80,88.17 L318.00,88.17 L318.20,88.17 L318.40,88.16 L318.60,88.16 L318.80,88.15 L319.00,88.15 L319.20,88.15 L319.40,88.14 L319.60,88.14 L319.80,88.14 L320.00,88.14 L320.20,88.13 L320.40,88.13 L320.60,88.13 L320.80,88.13 L321.00,88.13 L321.20,88.13 L321.40,88.12 L321.60,88.12 L321.80,88.12 L322.00,88.12 L322.20,88.12 L322.40,88.12 L322.90,88.12 L323.40,88.12 L323.90,88.12 L324.40,88.11 L324.90,88.11 L325.40,88.11 L325.90,88.11 L326.40,88.11 L326.90,88.11 L327.40,88.11 L327.90,88.11 L328.40,88.11 L328.90,88.11 L329.40,88.11 L329.90,88.11 L330.40,88.11 L330.90,88.11 L331.40,88.11 L331.90,88.11 L332.40,88.11 L332.90,88.11 L333.40,88.11 L333.90,88.11 L334.40,88.11 L334.90,88.11 L335.40,88.11 L335.90,88.11 L336.40,88.11 L336.90,88.11 L337.40,88.11 L337.90,88.11 L338.40,88.11 L338.90,88.11 L339.40,88.11 L343.40,88.11 L347.40,88.11 L351.40,88.11 L355.40,88.11 L359.40,88.11 L363.40,88.11 L367.40,88.11 L371.40,88.11 L375.40,88.11 L379.40,88.11 L383.40,88.11 L387.40,88.11 L391.40,88.11 L395.40,88.11 L396.50,88.11" fill="none" stroke="#000" stroke-width="0.6" stroke-linejoin="round" />
<path d="M305.60,88.09 L305.80,88.20 L306.00,88.37 L306.20,88.57 L306.40,88.80 L306.60,89.04 L306.80,89.30 L307.00,89.53 L307.20,89.70 L307.40,89.77 L307.60,89.74 L307.80,89.65 L308.00,89.54 L308.20,89.43 L308.40,89.32 L308.60,89.22 L308.80,89.13 L309.00,89.05 L309.20,88.97 L309.40,88.90 L309.60,88.83 L309.80,88.77 L310.00,88.72 L310.20,88.66 L310.40,88.61 L310.60,88.57 L310.80,88.53 L311.00,88.49 L311.20,88.45 L311.40,88.42 L311.60,88.39 L311.80,88.36 L312.00,88.33 L312.20,88.31 L312.40,88.29 L312.60,88.27 L312.80,88.25 L313.00,88.23 L313.20,88.21 L313.40,88.20 L313.60,88.18 L313.80,88.17 L314.00,88.16 L314.20,88.15 L314.40,88.14 L314.60,88.13 L314.80,88.12 L315.00,88.11 L315.20,88.10 L315.40,88.09 L315.60,88.09 L315.80,88.08 L316.00,88.08 L316.20,88.07 L316.40,88.07 L316.60,88.06 L316.80,88.06 L317.00,88.05 L317.20,88.05 L317.40,88.05 L317.60,88.04 L317.80,88.04 L318.00,88.04 L318.20,88.04 L318.40,88.03 L318.60,88.03 L318.80,88.03 L319.00,88.03 L319.20,88.03 L319.40,88.02 L319.60,88.02 L319.80,88.02 L320.00,88.02 L320.20,88.02 L320.40,88.02 L320.60,88.02 L320.80,88.02 L321.00,88.02 L321.20,88.02 L321.40,88.01 L321.60,88.01 L321.80,88.01 L322.00,88.01 L322.20,88.01 L322.40,88.01 L322.90,88.01 L323.40,88.01 L323.90,88.01 L324.40,88.01 L324.90,88.01 L325.40,88.01 L325.90,88.01 L326.40,88.01 L326.90,88.01 L327.40,88.01 L327.90,88.01 L328.40,88.01 L328.90,88.01 L329.40,88.01 L329.90,88.01 L330.40,88.01 L330.90,88.01 L331.40,88.01 L331.90,88.01 L332.40,88.01 L332.90,88.01 L333.40,88.01 L333.90,88.01 L334.40,88.01 L334.90,88.01 L335.40,88.01 L335.90,88.01 L336.40,88.01 L336.90,88.01 L337.40,88.01 L337.90,88.01 L338.40,88.01 L338.90,88.01 L339.40,88.01 L343.40,88.01 L347.40,88.01 L351.40,88.01 L355.40,88.01 L359.40,88.01 L363.40,88.01 L367.40,88.01 L371.40,88.01 L375.40,88.01 L379.40,88.01 L383.40,88.01 L387.40,88.01 L391.40,88.01 L395.40,88.01 L396.50,88.01" fill="none" stroke="#000" stroke-width="0.6" stroke-linejoin="round" />
<path d="M305.60,88.04 L305.80,88.08 L306.00,88.15 L306.20,88.24 L306.40,88.33 L306.60,88.43 L306.80,88.53 L307.00,88.62 L307.20,88.67 L307.40,88.68 L307.60,88.65 L307.80,88.60 L308.00,88.55 L308.20,88.50 L308.40,88.46 L308.60,88.42 L308.80,88.38 L309.00,88.35 L309.20,88.32 L309.40,88.29 L309.60,88.26 L309.80,88.23 L310.00,88.21 L310.20,88.19 L310.40,88.17 L310.60,88.15 L310.80,88.13 L311.00,88.12 L311.20,88.10 L311.40,88.09 L311.60,88.08 L311.80,88.06 L312.00,88.05 L312.20,88.04 L312.40,88.03 L312.60,88.02 L312.80,88.02 L313.00,88.01 L313.20,88.00 L313.40,87.99 L313.60,87.99 L313.80,87.98 L314.00,87.98 L314.20,87.97 L314.40,87.97 L314.60,87.96 L314.80,87.96 L315.00,87.96 L315.20,87.95 L315.40,87.95 L315.60,87.95 L315.80,87.94 L316.00,87.94 L316.20,87.94 L316.40,87.94 L316.60,87.93 L316.80,87.93 L317.00,87.93 L317.20,87.93 L317.40,87.93 L317.60,87.93 L317.80,87.92 L318.00,87.92 L318.20,87.92 L318.40,87.92 L318.60,87.92 L318.80,87.92 L319.00,87.92 L319.20,87.92 L319.40,87.92 L319.60,87.92 L319.80,87.91 L320.00,87.91 L320.20,87.91 L320.40,87.91 L320.60,87.91 L320.80,87.91 L321.00,87.91 L321.20,87.91 L321.40,87.91 L321.60,87.91 L321.80,87.91 L322.00,87.91 L322.20,87.91 L322.40,87.91 L322.90,87.91 L323.40,87.91 L323.90,87.91 L324.40,87.91 L324.90,87.90 L325.40,87.90 L325.90,87.90 L326.40,87.90 L326.90,87.90 L327.40,87.90 L327.90,87.90 L328.40,87.90 L328.90,87.90 L329.40,87.90 L329.90,87.90 L330.40,87.90 L330.90,87.90 L331.40,87.90 L331.90,87.90 L332.40,87.90 L332.90,87.90 L333.40,87.90 L333.90,87.90 L334.40,87.90 L334.90,87.90 L335.40,87.90 L335.90,87.90 L336.40,87.90 L336.90,87.90 L337.40,87.90 L337.90,87.90 L338.40,87.90 L338.90,87.90 L339.40,87.90 L343.40,87.90 L347.40,87.90 L351.40,87.90 L355.40,87.90 L359.40,87.90 L363.40,87.90 L367.40,87.90 L371.40,87.90 L375.40,87.90 L379.40,87.90 L383.40,87.90 L387.40,87.90 L391.40,87.90 L395.40,87.90 L396.50,87.90" fill="none" stroke="#000" stroke-width="0.6" stroke-linejoin="round" />
<path d="M260.80,109.80 L260.80,144.00 L281.00,144.00" fill="none" stroke="#000" stroke-width="1" stroke-linejoin="round" />
<text x="232.5" y="132.5" font-size="12"  text-anchor="start" fill="#1a1a1a" >5 nA</text>
<text x="265" y="158" font-size="12"  text-anchor="start" fill="#1a1a1a" >5 ms</text>
<line x1="414.5" y1="90.7" x2="565" y2="90.7" stroke="#8c8c8c" stroke-width="1.1" />
<line x1="489.8" y1="78.6" x2="489.8" y2="188.3" stroke="#8c8c8c" stroke-width="1.1" />
<line x1="414.8" y1="88.2" x2="414.8" y2="90.7" stroke="#8c8c8c" stroke-width="1" />
<line x1="429.8" y1="88.2" x2="429.8" y2="90.7" stroke="#8c8c8c" stroke-width="1" />
<line x1="444.8" y1="88.2" x2="444.8" y2="90.7" stroke="#8c8c8c" stroke-width="1" />
<line x1="459.8" y1="88.2" x2="459.8" y2="90.7" stroke="#8c8c8c" stroke-width="1" />
<line x1="474.8" y1="88.2" x2="474.8" y2="90.7" stroke="#8c8c8c" stroke-width="1" />
<line x1="504.8" y1="88.2" x2="504.8" y2="90.7" stroke="#8c8c8c" stroke-width="1" />
<line x1="519.8" y1="88.2" x2="519.8" y2="90.7" stroke="#8c8c8c" stroke-width="1" />
<line x1="534.8" y1="88.2" x2="534.8" y2="90.7" stroke="#8c8c8c" stroke-width="1" />
<line x1="549.8" y1="88.2" x2="549.8" y2="90.7" stroke="#8c8c8c" stroke-width="1" />
<line x1="564.8" y1="88.2" x2="564.8" y2="90.7" stroke="#8c8c8c" stroke-width="1" />
<line x1="489.8" y1="115.13" x2="492.6" y2="115.13" stroke="#8c8c8c" stroke-width="1" />
<line x1="489.8" y1="139.56" x2="492.6" y2="139.56" stroke="#8c8c8c" stroke-width="1" />
<line x1="489.8" y1="163.99" x2="492.6" y2="163.99" stroke="#8c8c8c" stroke-width="1" />
<line x1="489.8" y1="188.42000000000002" x2="492.6" y2="188.42000000000002" stroke="#8c8c8c" stroke-width="1" />
<text x="414" y="86.5" font-size="12"  text-anchor="middle" fill="#1a1a1a" >-100</text>
<text x="443.3" y="86.5" font-size="12"  text-anchor="middle" fill="#1a1a1a" >-60</text>
<text x="473.3" y="86.5" font-size="12"  text-anchor="middle" fill="#1a1a1a" >-20</text>
<text x="507" y="86.5" font-size="12"  text-anchor="middle" fill="#1a1a1a" >20</text>
<text x="536" y="86.5" font-size="12"  text-anchor="middle" fill="#1a1a1a" >60</text>
<text x="568" y="86.5" font-size="12"  text-anchor="middle" fill="#1a1a1a" >100</text>
<text x="493.5" y="117.13" font-size="12"  text-anchor="start" fill="#1a1a1a" >-100</text>
<text x="493.5" y="141.56" font-size="12"  text-anchor="start" fill="#1a1a1a" >-200</text>
<text x="493.5" y="165.99" font-size="12"  text-anchor="start" fill="#1a1a1a" >-300</text>
<text x="493.5" y="190.42000000000002" font-size="12"  text-anchor="start" fill="#1a1a1a" >-400</text>
<text x="557" y="102.5" font-size="12" font-weight="bold" text-anchor="start" fill="#1a1a1a" >Voltage (mV)</text>
<text x="427.5" y="206.8" font-size="12.2" font-weight="bold" fill="#1a1a1a">Na<tspan font-size="6" font-weight="bold" dy="-6">+</tspan><tspan dy="6"> current</tspan></text>
<text x="427.5" y="220.2" font-size="12.2" font-weight="bold" text-anchor="start" fill="#1a1a1a" >density (pA/pF)</text>
<line x1="445.4" y1="68" x2="456.6" y2="68" stroke="#000" stroke-width="0.9" />
<circle cx="451" cy="68" r="1.6" fill="#000"/>
<text x="463.8" y="70.5" font-size="12" font-weight="bold" text-anchor="start" fill="#1a1a1a" >WT</text>
<line x1="500.8" y1="68" x2="512.2" y2="68" stroke="#bdbdbd" stroke-width="0.9" />
<rect x="505" y="66.5" width="3" height="3" fill="#bdbdbd"/>
<text x="516.8" y="70.5" font-size="12" font-weight="bold" text-anchor="start" fill="#1a1a1a" >A735V</text>
<path d="M429.80,91.00 L437.30,91.50 L444.80,93.40 L452.30,96.70 L459.80,102.30 L467.30,105.60 L474.80,107.40 L482.30,107.60 L489.80,106.60 L497.30,104.80 L504.80,103.00 L512.30,101.00 L519.80,99.20 L527.30,97.40 L534.80,96.00 L542.30,93.90 L549.80,91.60" fill="none" stroke="#bdbdbd" stroke-width="0.9" stroke-linejoin="round" />
<line x1="429.8" y1="90.7" x2="429.8" y2="91.3" stroke="#bdbdbd" stroke-width="0.8" />
<line x1="428.5" y1="90.7" x2="431.1" y2="90.7" stroke="#bdbdbd" stroke-width="0.6" />
<line x1="428.5" y1="91.3" x2="431.1" y2="91.3" stroke="#bdbdbd" stroke-width="0.6" />
<rect x="428.55" y="89.75" width="2.5" height="2.5" fill="#bdbdbd"/>
<line x1="437.3" y1="91.0" x2="437.3" y2="92.0" stroke="#bdbdbd" stroke-width="0.8" />
<line x1="436.0" y1="91.0" x2="438.6" y2="91.0" stroke="#bdbdbd" stroke-width="0.6" />
<line x1="436.0" y1="92.0" x2="438.6" y2="92.0" stroke="#bdbdbd" stroke-width="0.6" />
<rect x="436.05" y="90.25" width="2.5" height="2.5" fill="#bdbdbd"/>
<line x1="444.8" y1="92.60000000000001" x2="444.8" y2="94.2" stroke="#bdbdbd" stroke-width="0.8" />
<line x1="443.5" y1="92.60000000000001" x2="446.1" y2="92.60000000000001" stroke="#bdbdbd" stroke-width="0.6" />
<line x1="443.5" y1="94.2" x2="446.1" y2="94.2" stroke="#bdbdbd" stroke-width="0.6" />
<rect x="443.55" y="92.15" width="2.5" height="2.5" fill="#bdbdbd"/>
<line x1="452.3" y1="95.5" x2="452.3" y2="97.9" stroke="#bdbdbd" stroke-width="0.8" />
<line x1="451.0" y1="95.5" x2="453.6" y2="95.5" stroke="#bdbdbd" stroke-width="0.6" />
<line x1="451.0" y1="97.9" x2="453.6" y2="97.9" stroke="#bdbdbd" stroke-width="0.6" />
<rect x="451.05" y="95.45" width="2.5" height="2.5" fill="#bdbdbd"/>
<line x1="459.8" y1="100.7" x2="459.8" y2="103.89999999999999" stroke="#bdbdbd" stroke-width="0.8" />
<line x1="458.5" y1="100.7" x2="461.1" y2="100.7" stroke="#bdbdbd" stroke-width="0.6" />
<line x1="458.5" y1="103.89999999999999" x2="461.1" y2="103.89999999999999" stroke="#bdbdbd" stroke-width="0.6" />
<rect x="458.55" y="101.05" width="2.5" height="2.5" fill="#bdbdbd"/>
<line x1="467.3" y1="103.8" x2="467.3" y2="107.39999999999999" stroke="#bdbdbd" stroke-width="0.8" />
<line x1="466.0" y1="103.8" x2="468.6" y2="103.8" stroke="#bdbdbd" stroke-width="0.6" />
<line x1="466.0" y1="107.39999999999999" x2="468.6" y2="107.39999999999999" stroke="#bdbdbd" stroke-width="0.6" />
<rect x="466.05" y="104.35" width="2.5" height="2.5" fill="#bdbdbd"/>
<line x1="474.8" y1="105.5" x2="474.8" y2="109.30000000000001" stroke="#bdbdbd" stroke-width="0.8" />
<line x1="473.5" y1="105.5" x2="476.1" y2="105.5" stroke="#bdbdbd" stroke-width="0.6" />
<line x1="473.5" y1="109.30000000000001" x2="476.1" y2="109.30000000000001" stroke="#bdbdbd" stroke-width="0.6" />
<rect x="473.55" y="106.15" width="2.5" height="2.5" fill="#bdbdbd"/>
<line x1="482.3" y1="105.69999999999999" x2="482.3" y2="109.5" stroke="#bdbdbd" stroke-width="0.8" />
<line x1="481.0" y1="105.69999999999999" x2="483.6" y2="105.69999999999999" stroke="#bdbdbd" stroke-width="0.6" />
<line x1="481.0" y1="109.5" x2="483.6" y2="109.5" stroke="#bdbdbd" stroke-width="0.6" />
<rect x="481.05" y="106.35" width="2.5" height="2.5" fill="#bdbdbd"/>
<line x1="489.8" y1="104.8" x2="489.8" y2="108.39999999999999" stroke="#bdbdbd" stroke-width="0.8" />
<line x1="488.5" y1="104.8" x2="491.1" y2="104.8" stroke="#bdbdbd" stroke-width="0.6" />
<line x1="488.5" y1="108.39999999999999" x2="491.1" y2="108.39999999999999" stroke="#bdbdbd" stroke-width="0.6" />
<rect x="488.55" y="105.35" width="2.5" height="2.5" fill="#bdbdbd"/>
<line x1="497.3" y1="103.2" x2="497.3" y2="106.39999999999999" stroke="#bdbdbd" stroke-width="0.8" />
<line x1="496.0" y1="103.2" x2="498.6" y2="103.2" stroke="#bdbdbd" stroke-width="0.6" />
<line x1="496.0" y1="106.39999999999999" x2="498.6" y2="106.39999999999999" stroke="#bdbdbd" stroke-width="0.6" />
<rect x="496.05" y="103.55" width="2.5" height="2.5" fill="#bdbdbd"/>
<line x1="504.8" y1="101.5" x2="504.8" y2="104.5" stroke="#bdbdbd" stroke-width="0.8" />
<line x1="503.5" y1="101.5" x2="506.1" y2="101.5" stroke="#bdbdbd" stroke-width="0.6" />
<line x1="503.5" y1="104.5" x2="506.1" y2="104.5" stroke="#bdbdbd" stroke-width="0.6" />
<rect x="503.55" y="101.75" width="2.5" height="2.5" fill="#bdbdbd"/>
<line x1="512.3" y1="99.7" x2="512.3" y2="102.3" stroke="#bdbdbd" stroke-width="0.8" />
<line x1="510.99999999999994" y1="99.7" x2="513.5999999999999" y2="99.7" stroke="#bdbdbd" stroke-width="0.6" />
<line x1="510.99999999999994" y1="102.3" x2="513.5999999999999" y2="102.3" stroke="#bdbdbd" stroke-width="0.6" />
<rect x="511.05" y="99.75" width="2.5" height="2.5" fill="#bdbdbd"/>
<line x1="519.8" y1="98.0" x2="519.8" y2="100.4" stroke="#bdbdbd" stroke-width="0.8" />
<line x1="518.5" y1="98.0" x2="521.0999999999999" y2="98.0" stroke="#bdbdbd" stroke-width="0.6" />
<line x1="518.5" y1="100.4" x2="521.0999999999999" y2="100.4" stroke="#bdbdbd" stroke-width="0.6" />
<rect x="518.55" y="97.95" width="2.5" height="2.5" fill="#bdbdbd"/>
<line x1="527.3" y1="96.30000000000001" x2="527.3" y2="98.5" stroke="#bdbdbd" stroke-width="0.8" />
<line x1="526.0" y1="96.30000000000001" x2="528.5999999999999" y2="96.30000000000001" stroke="#bdbdbd" stroke-width="0.6" />
<line x1="526.0" y1="98.5" x2="528.5999999999999" y2="98.5" stroke="#bdbdbd" stroke-width="0.6" />
<rect x="526.05" y="96.15" width="2.5" height="2.5" fill="#bdbdbd"/>
<line x1="534.8" y1="95.0" x2="534.8" y2="97.0" stroke="#bdbdbd" stroke-width="0.8" />
<line x1="533.5" y1="95.0" x2="536.0999999999999" y2="95.0" stroke="#bdbdbd" stroke-width="0.6" />
<line x1="533.5" y1="97.0" x2="536.0999999999999" y2="97.0" stroke="#bdbdbd" stroke-width="0.6" />
<rect x="533.55" y="94.75" width="2.5" height="2.5" fill="#bdbdbd"/>
<line x1="542.3" y1="92.4" x2="542.3" y2="95.4" stroke="#bdbdbd" stroke-width="0.8" />
<line x1="541.0" y1="92.4" x2="543.5999999999999" y2="92.4" stroke="#bdbdbd" stroke-width="0.6" />
<line x1="541.0" y1="95.4" x2="543.5999999999999" y2="95.4" stroke="#bdbdbd" stroke-width="0.6" />
<rect x="541.05" y="92.65" width="2.5" height="2.5" fill="#bdbdbd"/>
<line x1="549.8" y1="87.6" x2="549.8" y2="95.6" stroke="#bdbdbd" stroke-width="0.8" />
<line x1="548.5" y1="87.6" x2="551.0999999999999" y2="87.6" stroke="#bdbdbd" stroke-width="0.6" />
<line x1="548.5" y1="95.6" x2="551.0999999999999" y2="95.6" stroke="#bdbdbd" stroke-width="0.6" />
<rect x="548.55" y="90.35" width="2.5" height="2.5" fill="#bdbdbd"/>
<line x1="429.8" y1="91.5" x2="429.8" y2="92.5" stroke="#808080" stroke-width="0.8" />
<line x1="428.5" y1="91.5" x2="431.1" y2="91.5" stroke="#808080" stroke-width="0.6" />
<line x1="428.5" y1="92.5" x2="431.1" y2="92.5" stroke="#808080" stroke-width="0.6" />
<line x1="437.3" y1="93.9" x2="437.3" y2="96.9" stroke="#808080" stroke-width="0.8" />
<line x1="436.0" y1="93.9" x2="438.6" y2="93.9" stroke="#808080" stroke-width="0.6" />
<line x1="436.0" y1="96.9" x2="438.6" y2="96.9" stroke="#808080" stroke-width="0.6" />
<line x1="444.8" y1="100.89999999999999" x2="444.8" y2="112.3" stroke="#808080" stroke-width="0.8" />
<line x1="443.5" y1="100.89999999999999" x2="446.1" y2="100.89999999999999" stroke="#808080" stroke-width="0.6" />
<line x1="443.5" y1="112.3" x2="446.1" y2="112.3" stroke="#808080" stroke-width="0.6" />
<line x1="452.3" y1="143" x2="452.3" y2="173" stroke="#808080" stroke-width="0.8" />
<line x1="451.0" y1="143" x2="453.6" y2="143" stroke="#808080" stroke-width="0.6" />
<line x1="451.0" y1="173" x2="453.6" y2="173" stroke="#808080" stroke-width="0.6" />
<line x1="459.8" y1="146.29999999999998" x2="459.8" y2="173.1" stroke="#808080" stroke-width="0.8" />
<line x1="458.5" y1="146.29999999999998" x2="461.1" y2="146.29999999999998" stroke="#808080" stroke-width="0.6" />
<line x1="458.5" y1="173.1" x2="461.1" y2="173.1" stroke="#808080" stroke-width="0.6" />
<line x1="467.3" y1="140.0" x2="467.3" y2="165.0" stroke="#808080" stroke-width="0.8" />
<line x1="466.0" y1="140.0" x2="468.6" y2="140.0" stroke="#808080" stroke-width="0.6" />
<line x1="466.0" y1="165.0" x2="468.6" y2="165.0" stroke="#808080" stroke-width="0.6" />
<line x1="474.8" y1="134.7" x2="474.8" y2="156.7" stroke="#808080" stroke-width="0.8" />
<line x1="473.5" y1="134.7" x2="476.1" y2="134.7" stroke="#808080" stroke-width="0.6" />
<line x1="473.5" y1="156.7" x2="476.1" y2="156.7" stroke="#808080" stroke-width="0.6" />
<line x1="482.3" y1="129" x2="482.3" y2="149" stroke="#808080" stroke-width="0.8" />
<line x1="481.0" y1="129" x2="483.6" y2="129" stroke="#808080" stroke-width="0.6" />
<line x1="481.0" y1="149" x2="483.6" y2="149" stroke="#808080" stroke-width="0.6" />
<line x1="489.8" y1="125.4" x2="489.8" y2="139.4" stroke="#808080" stroke-width="0.8" />
<line x1="488.5" y1="125.4" x2="491.1" y2="125.4" stroke="#808080" stroke-width="0.6" />
<line x1="488.5" y1="139.4" x2="491.1" y2="139.4" stroke="#808080" stroke-width="0.6" />
<line x1="497.3" y1="119.0" x2="497.3" y2="130.0" stroke="#808080" stroke-width="0.8" />
<line x1="496.0" y1="119.0" x2="498.6" y2="119.0" stroke="#808080" stroke-width="0.6" />
<line x1="496.0" y1="130.0" x2="498.6" y2="130.0" stroke="#808080" stroke-width="0.6" />
<line x1="504.8" y1="113.9" x2="504.8" y2="123.9" stroke="#808080" stroke-width="0.8" />
<line x1="503.5" y1="113.9" x2="506.1" y2="113.9" stroke="#808080" stroke-width="0.6" />
<line x1="503.5" y1="123.9" x2="506.1" y2="123.9" stroke="#808080" stroke-width="0.6" />
<line x1="512.3" y1="109.6" x2="512.3" y2="118.0" stroke="#808080" stroke-width="0.8" />
<line x1="510.99999999999994" y1="109.6" x2="513.5999999999999" y2="109.6" stroke="#808080" stroke-width="0.6" />
<line x1="510.99999999999994" y1="118.0" x2="513.5999999999999" y2="118.0" stroke="#808080" stroke-width="0.6" />
<line x1="519.8" y1="105.80000000000001" x2="519.8" y2="113.0" stroke="#808080" stroke-width="0.8" />
<line x1="518.5" y1="105.80000000000001" x2="521.0999999999999" y2="105.80000000000001" stroke="#808080" stroke-width="0.6" />
<line x1="518.5" y1="113.0" x2="521.0999999999999" y2="113.0" stroke="#808080" stroke-width="0.6" />
<line x1="527.3" y1="101.8" x2="527.3" y2="107.8" stroke="#808080" stroke-width="0.8" />
<line x1="526.0" y1="101.8" x2="528.5999999999999" y2="101.8" stroke="#808080" stroke-width="0.6" />
<line x1="526.0" y1="107.8" x2="528.5999999999999" y2="107.8" stroke="#808080" stroke-width="0.6" />
<line x1="534.8" y1="97.8" x2="534.8" y2="102.8" stroke="#808080" stroke-width="0.8" />
<line x1="533.5" y1="97.8" x2="536.0999999999999" y2="97.8" stroke="#808080" stroke-width="0.6" />
<line x1="533.5" y1="102.8" x2="536.0999999999999" y2="102.8" stroke="#808080" stroke-width="0.6" />
<line x1="542.3" y1="94" x2="542.3" y2="98" stroke="#808080" stroke-width="0.8" />
<line x1="541.0" y1="94" x2="543.5999999999999" y2="94" stroke="#808080" stroke-width="0.6" />
<line x1="541.0" y1="98" x2="543.5999999999999" y2="98" stroke="#808080" stroke-width="0.6" />
<line x1="549.8" y1="90.5" x2="549.8" y2="93.5" stroke="#808080" stroke-width="0.8" />
<line x1="548.5" y1="90.5" x2="551.0999999999999" y2="90.5" stroke="#808080" stroke-width="0.6" />
<line x1="548.5" y1="93.5" x2="551.0999999999999" y2="93.5" stroke="#808080" stroke-width="0.6" />
<path d="M429.80,92.00 L437.30,95.40 L444.80,106.60 L452.30,158.00 L459.80,159.70 L467.30,152.50 L474.80,145.70 L482.30,139.00 L489.80,132.40 L497.30,124.50 L504.80,118.90 L512.30,113.80 L519.80,109.40 L527.30,104.80 L534.80,100.30 L542.30,96.00 L549.80,92.00" fill="none" stroke="#000" stroke-width="0.8" stroke-linejoin="round" />
<circle cx="429.80" cy="92" r="1.6" fill="#000"/>
<circle cx="437.30" cy="95.4" r="1.6" fill="#000"/>
<circle cx="444.80" cy="106.6" r="1.6" fill="#000"/>
<circle cx="452.30" cy="158" r="1.6" fill="#000"/>
<circle cx="459.80" cy="159.7" r="1.6" fill="#000"/>
<circle cx="467.30" cy="152.5" r="1.6" fill="#000"/>
<circle cx="474.80" cy="145.7" r="1.6" fill="#000"/>
<circle cx="482.30" cy="139" r="1.6" fill="#000"/>
<circle cx="489.80" cy="132.4" r="1.6" fill="#000"/>
<circle cx="497.30" cy="124.5" r="1.6" fill="#000"/>
<circle cx="504.80" cy="118.9" r="1.6" fill="#000"/>
<circle cx="512.30" cy="113.8" r="1.6" fill="#000"/>
<circle cx="519.80" cy="109.4" r="1.6" fill="#000"/>
<circle cx="527.30" cy="104.8" r="1.6" fill="#000"/>
<circle cx="534.80" cy="100.3" r="1.6" fill="#000"/>
<circle cx="542.30" cy="96" r="1.6" fill="#000"/>
<circle cx="549.80" cy="92" r="1.6" fill="#000"/>
<line x1="583.7" y1="156.0" x2="583.7" y2="247.9" stroke="#333" stroke-width="1" />
<line x1="583.7" y1="247.4" x2="637.6" y2="247.4" stroke="#333" stroke-width="1" />
<line x1="581.1" y1="156.5" x2="583.7" y2="156.5" stroke="#333" stroke-width="1" />
<text x="576" y="158.7" font-size="12"  text-anchor="end" fill="#1a1a1a" >0</text>
<line x1="581.1" y1="174.68" x2="583.7" y2="174.68" stroke="#333" stroke-width="1" />
<text x="579" y="176.88" font-size="12"  text-anchor="end" fill="#1a1a1a" >-100</text>
<line x1="581.1" y1="192.86" x2="583.7" y2="192.86" stroke="#333" stroke-width="1" />
<text x="579" y="195.06" font-size="12"  text-anchor="end" fill="#1a1a1a" >-200</text>
<line x1="581.1" y1="211.04" x2="583.7" y2="211.04" stroke="#333" stroke-width="1" />
<text x="579" y="213.23999999999998" font-size="12"  text-anchor="end" fill="#1a1a1a" >-300</text>
<line x1="581.1" y1="229.22" x2="583.7" y2="229.22" stroke="#333" stroke-width="1" />
<text x="579" y="231.42" font-size="12"  text-anchor="end" fill="#1a1a1a" >-400</text>
<line x1="581.1" y1="247.39999999999998" x2="583.7" y2="247.39999999999998" stroke="#333" stroke-width="1" />
<text x="579" y="249.59999999999997" font-size="12"  text-anchor="end" fill="#1a1a1a" >-500</text>
<line x1="597" y1="247.4" x2="597" y2="250.2" stroke="#333" stroke-width="1" />
<line x1="624.3" y1="247.4" x2="624.3" y2="250.2" stroke="#333" stroke-width="1" />
<rect x="588" y="156.5" width="17.8" height="50.2" fill="#141414"/>
<line x1="596.9" y1="206" x2="596.9" y2="217" stroke="#000" stroke-width="1" />
<line x1="592" y1="217" x2="601.7" y2="217" stroke="#000" stroke-width="1" />
<rect x="614.8" y="156.5" width="18.2" height="12.1" fill="#fff" stroke="#9a9a9a" stroke-width="0.9"/>
<line x1="583.2" y1="156.5" x2="637.6" y2="156.5" stroke="#333" stroke-width="1.2" />
<line x1="624.2" y1="168.6" x2="624.2" y2="170.2" stroke="#000" stroke-width="1" />
<line x1="620" y1="170.2" x2="628.4" y2="170.2" stroke="#000" stroke-width="1" />
<line x1="596" y1="227.6" x2="631.6" y2="227.6" stroke="#333" stroke-width="1.2" />
<text x="614.5" y="227.7" font-size="11" font-weight="bold" text-anchor="middle" fill="#1a1a1a" >***</text>
<text transform="translate(536.8,268) rotate(-90)" text-anchor="start" font-size="12" font-weight="bold" fill="#1a1a1a">Na<tspan font-size="6" font-weight="bold" dy="-6">+</tspan><tspan dy="6"> current</tspan></text>
<text transform="translate(549.5,268) rotate(-90)" text-anchor="start" font-size="12" font-weight="bold" fill="#1a1a1a">density (pA/pF)</text>
<text transform="translate(597.4,262) rotate(-45)" text-anchor="end" font-size="12" font-weight="bold" fill="#1a1a1a">WT</text>
<text transform="translate(613,261) rotate(-45)" text-anchor="end" font-size="12"  fill="#1a1a1a">n=20</text>
<text transform="translate(635.5,262.3) rotate(-45)" text-anchor="end" font-size="12" font-weight="bold" fill="#1a1a1a">A735V</text>
<text transform="translate(650.4,261.8) rotate(-45)" text-anchor="end" font-size="12"  fill="#1a1a1a">n=57</text>
<text x="66.3" y="243.2" font-size="12" font-weight="bold" text-anchor="start" fill="#1a1a1a" >WT</text>
<text x="109.2" y="243.3" font-size="12.2" fill="#1a1a1a">Na<tspan font-size="6" font-weight="bold" dy="-6">+</tspan><tspan dy="6">channel inactivation</tspan></text>
<line x1="20" y1="273.5" x2="64" y2="273.5" stroke="#000" stroke-width="1.1" />
<line x1="63.8" y1="270.8" x2="63.8" y2="276.5" stroke="#000" stroke-width="0.8" />
<path d="M64.00,274.97 L64.20,276.34 L64.40,278.31 L64.60,280.80 L64.80,283.68 L65.00,286.81 L65.20,290.10 L65.40,293.50 L65.60,296.99 L65.80,300.54 L66.00,304.14 L66.20,307.81 L66.40,311.52 L66.60,315.27 L66.80,319.07 L67.00,322.90 L67.20,326.77 L67.40,330.65 L67.60,334.47 L67.80,338.11 L68.00,341.31 L68.20,343.78 L68.40,345.27 L68.60,345.74 L68.80,345.37 L69.00,344.44 L69.20,343.19 L69.40,341.77 L69.60,340.26 L69.80,338.71 L70.00,337.13 L70.20,335.53 L70.40,333.92 L70.60,332.30 L70.80,330.68 L71.00,329.08 L71.20,327.48 L71.40,325.90 L71.60,324.33 L71.80,322.79 L72.00,321.27 L72.20,319.77 L72.40,318.30 L72.60,316.85 L72.80,315.44 L73.00,314.05 L73.20,312.70 L73.40,311.38 L73.60,310.09 L73.80,308.83 L74.00,307.60 L74.20,306.41 L74.40,305.25 L74.60,304.12 L74.80,303.02 L75.00,301.96 L75.20,300.93 L75.40,299.93 L75.60,298.96 L75.80,298.02 L76.00,297.11 L76.20,296.23 L76.40,295.38 L76.60,294.56 L76.80,293.77 L77.00,293.00 L77.20,292.26 L77.40,291.55 L77.60,290.86 L77.80,290.20 L78.00,289.56 L78.20,288.95 L78.40,288.36 L78.60,287.79 L78.80,287.25 L79.00,286.72 L79.20,286.22 L79.40,285.73 L79.60,285.27 L79.80,284.82 L80.00,284.39 L80.20,283.98 L80.40,283.58 L80.60,283.21 L80.80,282.84 L81.00,282.50 L81.20,282.16 L81.40,281.85 L81.60,281.54 L81.80,281.25 L82.00,280.97 L82.20,280.70 L82.40,280.45 L82.60,280.20 L82.80,279.97 L83.00,279.75 L83.20,279.54 L83.40,279.33 L83.60,279.14 L83.80,278.95 L84.00,278.78 L84.20,278.61 L84.40,278.45 L84.60,278.30 L84.80,278.15 L85.00,278.01 L85.20,277.88 L85.40,277.75 L85.60,277.63 L85.80,277.52 L86.00,277.41 L86.50,277.16 L87.00,276.94 L87.50,276.74 L88.00,276.57 L88.50,276.42 L89.00,276.29 L89.50,276.17 L90.00,276.07 L90.50,275.98 L91.00,275.91 L91.50,275.84 L92.00,275.78 L92.50,275.73 L93.00,275.68 L93.50,275.65 L94.00,275.61 L94.50,275.58 L95.00,275.56 L95.50,275.54 L96.00,275.52 L96.50,275.50 L97.00,275.49 L97.50,275.47 L98.00,275.46 L98.50,275.45 L99.00,275.45 L99.50,275.44 L100.00,275.43 L100.50,275.43 L101.00,275.42 L101.50,275.42 L102.00,275.42 L102.50,275.42 L103.00,275.41 L103.50,275.41 L104.00,275.41 L104.50,275.41 L105.00,275.41 L105.50,275.41 L106.00,275.40 L106.50,275.40 L107.00,275.40 L107.50,275.40 L108.00,275.40 L112.00,275.40 L116.00,275.40 L120.00,275.40 L124.00,275.40 L128.00,275.40 L132.00,275.40 L136.00,275.40 L140.00,275.40 L144.00,275.40 L146.50,275.40" fill="none" stroke="#000" stroke-width="0.6" stroke-linejoin="round" />
<path d="M64.00,274.90 L64.20,276.21 L64.40,278.09 L64.60,280.46 L64.80,283.21 L65.00,286.20 L65.20,289.34 L65.40,292.58 L65.60,295.89 L65.80,299.28 L66.00,302.71 L66.20,306.20 L66.40,309.73 L66.60,313.31 L66.80,316.92 L67.00,320.57 L67.20,324.25 L67.40,327.96 L67.60,331.67 L67.80,335.30 L68.00,338.69 L68.20,341.59 L68.40,343.72 L68.60,344.88 L68.80,345.08 L69.00,344.55 L69.20,343.52 L69.40,342.23 L69.60,340.79 L69.80,339.29 L70.00,337.74 L70.20,336.17 L70.40,334.58 L70.60,332.98 L70.80,331.38 L71.00,329.79 L71.20,328.20 L71.40,326.62 L71.60,325.06 L71.80,323.51 L72.00,321.99 L72.20,320.49 L72.40,319.01 L72.60,317.56 L72.80,316.14 L73.00,314.74 L73.20,313.38 L73.40,312.05 L73.60,310.75 L73.80,309.48 L74.00,308.24 L74.20,307.03 L74.40,305.86 L74.60,304.72 L74.80,303.61 L75.00,302.53 L75.20,301.48 L75.40,300.47 L75.60,299.49 L75.80,298.53 L76.00,297.61 L76.20,296.72 L76.40,295.86 L76.60,295.02 L76.80,294.22 L77.00,293.44 L77.20,292.69 L77.40,291.96 L77.60,291.26 L77.80,290.59 L78.00,289.94 L78.20,289.32 L78.40,288.71 L78.60,288.14 L78.80,287.58 L79.00,287.04 L79.20,286.53 L79.40,286.03 L79.60,285.56 L79.80,285.10 L80.00,284.66 L80.20,284.24 L80.40,283.84 L80.60,283.45 L80.80,283.08 L81.00,282.73 L81.20,282.39 L81.40,282.06 L81.60,281.75 L81.80,281.45 L82.00,281.17 L82.20,280.89 L82.40,280.63 L82.60,280.38 L82.80,280.14 L83.00,279.92 L83.20,279.70 L83.40,279.49 L83.60,279.29 L83.80,279.10 L84.00,278.92 L84.20,278.75 L84.40,278.58 L84.60,278.42 L84.80,278.28 L85.00,278.13 L85.20,278.00 L85.40,277.87 L85.60,277.74 L85.80,277.63 L86.00,277.51 L86.50,277.26 L87.00,277.03 L87.50,276.83 L88.00,276.65 L88.50,276.50 L89.00,276.36 L89.50,276.24 L90.00,276.14 L90.50,276.05 L91.00,275.97 L91.50,275.90 L92.00,275.84 L92.50,275.79 L93.00,275.74 L93.50,275.70 L94.00,275.66 L94.50,275.63 L95.00,275.61 L95.50,275.59 L96.00,275.57 L96.50,275.55 L97.00,275.53 L97.50,275.52 L98.00,275.51 L98.50,275.50 L99.00,275.49 L99.50,275.49 L100.00,275.48 L100.50,275.48 L101.00,275.47 L101.50,275.47 L102.00,275.46 L102.50,275.46 L103.00,275.46 L103.50,275.46 L104.00,275.45 L104.50,275.45 L105.00,275.45 L105.50,275.45 L106.00,275.45 L106.50,275.45 L107.00,275.45 L107.50,275.45 L108.00,275.45 L112.00,275.45 L116.00,275.45 L120.00,275.45 L124.00,275.45 L128.00,275.45 L132.00,275.45 L136.00,275.45 L140.00,275.45 L144.00,275.45 L146.50,275.45" fill="none" stroke="#000" stroke-width="0.6" stroke-linejoin="round" />
<path d="M64.00,274.83 L64.20,276.07 L64.40,277.85 L64.60,280.11 L64.80,282.71 L65.00,285.55 L65.20,288.52 L65.40,291.59 L65.60,294.74 L65.80,297.94 L66.00,301.19 L66.20,304.50 L66.40,307.84 L66.60,311.22 L66.80,314.64 L67.00,318.10 L67.20,321.58 L67.40,325.10 L67.60,328.64 L67.80,332.16 L68.00,335.57 L68.20,338.71 L68.40,341.31 L68.60,343.10 L68.80,343.94 L69.00,343.90 L69.20,343.21 L69.40,342.11 L69.60,340.79 L69.80,339.36 L70.00,337.87 L70.20,336.34 L70.40,334.79 L70.60,333.23 L70.80,331.65 L71.00,330.08 L71.20,328.51 L71.40,326.95 L71.60,325.40 L71.80,323.87 L72.00,322.36 L72.20,320.86 L72.40,319.40 L72.60,317.95 L72.80,316.53 L73.00,315.14 L73.20,313.78 L73.40,312.45 L73.60,311.14 L73.80,309.87 L74.00,308.63 L74.20,307.42 L74.40,306.24 L74.60,305.10 L74.80,303.98 L75.00,302.90 L75.20,301.85 L75.40,300.83 L75.60,299.84 L75.80,298.88 L76.00,297.95 L76.20,297.05 L76.40,296.19 L76.60,295.34 L76.80,294.53 L77.00,293.75 L77.20,292.99 L77.40,292.26 L77.60,291.55 L77.80,290.87 L78.00,290.21 L78.20,289.58 L78.40,288.97 L78.60,288.39 L78.80,287.82 L79.00,287.28 L79.20,286.76 L79.40,286.26 L79.60,285.78 L79.80,285.32 L80.00,284.87 L80.20,284.45 L80.40,284.04 L80.60,283.65 L80.80,283.27 L81.00,282.91 L81.20,282.56 L81.40,282.23 L81.60,281.92 L81.80,281.61 L82.00,281.32 L82.20,281.05 L82.40,280.78 L82.60,280.53 L82.80,280.28 L83.00,280.05 L83.20,279.83 L83.40,279.62 L83.60,279.41 L83.80,279.22 L84.00,279.04 L84.20,278.86 L84.40,278.69 L84.60,278.53 L84.80,278.38 L85.00,278.24 L85.20,278.10 L85.40,277.97 L85.60,277.84 L85.80,277.72 L86.00,277.61 L86.50,277.34 L87.00,277.11 L87.50,276.91 L88.00,276.73 L88.50,276.57 L89.00,276.43 L89.50,276.31 L90.00,276.20 L90.50,276.11 L91.00,276.03 L91.50,275.96 L92.00,275.89 L92.50,275.84 L93.00,275.79 L93.50,275.75 L94.00,275.72 L94.50,275.68 L95.00,275.66 L95.50,275.63 L96.00,275.61 L96.50,275.60 L97.00,275.58 L97.50,275.57 L98.00,275.56 L98.50,275.55 L99.00,275.54 L99.50,275.53 L100.00,275.53 L100.50,275.52 L101.00,275.52 L101.50,275.51 L102.00,275.51 L102.50,275.51 L103.00,275.50 L103.50,275.50 L104.00,275.50 L104.50,275.50 L105.00,275.50 L105.50,275.50 L106.00,275.50 L106.50,275.49 L107.00,275.49 L107.50,275.49 L108.00,275.49 L112.00,275.49 L116.00,275.49 L120.00,275.49 L124.00,275.49 L128.00,275.49 L132.00,275.49 L136.00,275.49 L140.00,275.49 L144.00,275.49 L146.50,275.49" fill="none" stroke="#000" stroke-width="0.6" stroke-linejoin="round" />
<path d="M64.00,274.75 L64.20,275.92 L64.40,277.59 L64.60,279.71 L64.80,282.16 L65.00,284.81 L65.20,287.61 L65.40,290.49 L65.60,293.43 L65.80,296.44 L66.00,299.49 L66.20,302.58 L66.40,305.71 L66.60,308.88 L66.80,312.08 L67.00,315.32 L67.20,318.58 L67.40,321.87 L67.60,325.19 L67.80,328.52 L68.00,331.81 L68.20,334.98 L68.40,337.82 L68.60,340.07 L68.80,341.52 L69.00,342.08 L69.20,341.84 L69.40,341.05 L69.60,339.91 L69.80,338.60 L70.00,337.19 L70.20,335.73 L70.40,334.24 L70.60,332.73 L70.80,331.21 L71.00,329.68 L71.20,328.16 L71.40,326.64 L71.60,325.12 L71.80,323.62 L72.00,322.14 L72.20,320.68 L72.40,319.23 L72.60,317.81 L72.80,316.41 L73.00,315.04 L73.20,313.70 L73.40,312.38 L73.60,311.10 L73.80,309.84 L74.00,308.61 L74.20,307.42 L74.40,306.25 L74.60,305.11 L74.80,304.01 L75.00,302.94 L75.20,301.89 L75.40,300.88 L75.60,299.90 L75.80,298.94 L76.00,298.02 L76.20,297.12 L76.40,296.26 L76.60,295.42 L76.80,294.61 L77.00,293.83 L77.20,293.07 L77.40,292.34 L77.60,291.64 L77.80,290.96 L78.00,290.31 L78.20,289.68 L78.40,289.07 L78.60,288.48 L78.80,287.92 L79.00,287.38 L79.20,286.86 L79.40,286.35 L79.60,285.87 L79.80,285.41 L80.00,284.97 L80.20,284.54 L80.40,284.13 L80.60,283.74 L80.80,283.36 L81.00,283.00 L81.20,282.65 L81.40,282.32 L81.60,282.00 L81.80,281.70 L82.00,281.41 L82.20,281.13 L82.40,280.86 L82.60,280.61 L82.80,280.36 L83.00,280.13 L83.20,279.91 L83.40,279.70 L83.60,279.49 L83.80,279.30 L84.00,279.11 L84.20,278.94 L84.40,278.77 L84.60,278.61 L84.80,278.45 L85.00,278.31 L85.20,278.17 L85.40,278.03 L85.60,277.91 L85.80,277.79 L86.00,277.67 L86.50,277.41 L87.00,277.17 L87.50,276.97 L88.00,276.79 L88.50,276.63 L89.00,276.49 L89.50,276.36 L90.00,276.26 L90.50,276.16 L91.00,276.08 L91.50,276.01 L92.00,275.94 L92.50,275.89 L93.00,275.84 L93.50,275.80 L94.00,275.76 L94.50,275.73 L95.00,275.71 L95.50,275.68 L96.00,275.66 L96.50,275.64 L97.00,275.63 L97.50,275.62 L98.00,275.60 L98.50,275.59 L99.00,275.59 L99.50,275.58 L100.00,275.57 L100.50,275.57 L101.00,275.56 L101.50,275.56 L102.00,275.55 L102.50,275.55 L103.00,275.55 L103.50,275.55 L104.00,275.55 L104.50,275.54 L105.00,275.54 L105.50,275.54 L106.00,275.54 L106.50,275.54 L107.00,275.54 L107.50,275.54 L108.00,275.54 L112.00,275.54 L116.00,275.54 L120.00,275.54 L124.00,275.54 L128.00,275.54 L132.00,275.54 L136.00,275.54 L140.00,275.54 L144.00,275.54 L146.50,275.54" fill="none" stroke="#000" stroke-width="0.6" stroke-linejoin="round" />
<path d="M64.00,274.47 L64.20,275.38 L64.40,276.68 L64.60,278.32 L64.80,280.21 L65.00,282.26 L65.20,284.42 L65.40,286.64 L65.60,288.91 L65.80,291.23 L66.00,293.57 L66.20,295.95 L66.40,298.36 L66.60,300.80 L66.80,303.26 L67.00,305.74 L67.20,308.25 L67.40,310.77 L67.60,313.28 L67.80,315.71 L68.00,317.96 L68.20,319.82 L68.40,321.11 L68.60,321.73 L68.80,321.74 L69.00,321.29 L69.20,320.56 L69.40,319.67 L69.60,318.71 L69.80,317.70 L70.00,316.67 L70.20,315.62 L70.40,314.56 L70.60,313.50 L70.80,312.44 L71.00,311.38 L71.20,310.32 L71.40,309.27 L71.60,308.24 L71.80,307.21 L72.00,306.20 L72.20,305.20 L72.40,304.23 L72.60,303.27 L72.80,302.32 L73.00,301.40 L73.20,300.50 L73.40,299.61 L73.60,298.75 L73.80,297.91 L74.00,297.09 L74.20,296.29 L74.40,295.52 L74.60,294.76 L74.80,294.03 L75.00,293.31 L75.20,292.62 L75.40,291.95 L75.60,291.30 L75.80,290.67 L76.00,290.06 L76.20,289.47 L76.40,288.90 L76.60,288.35 L76.80,287.82 L77.00,287.30 L77.20,286.81 L77.40,286.33 L77.60,285.87 L77.80,285.42 L78.00,284.99 L78.20,284.58 L78.40,284.18 L78.60,283.80 L78.80,283.43 L79.00,283.08 L79.20,282.74 L79.40,282.41 L79.60,282.10 L79.80,281.80 L80.00,281.51 L80.20,281.23 L80.40,280.96 L80.60,280.71 L80.80,280.46 L81.00,280.23 L81.20,280.01 L81.40,279.79 L81.60,279.59 L81.80,279.39 L82.00,279.20 L82.20,279.02 L82.40,278.85 L82.60,278.68 L82.80,278.53 L83.00,278.37 L83.20,278.23 L83.40,278.09 L83.60,277.96 L83.80,277.84 L84.00,277.72 L84.20,277.60 L84.40,277.50 L84.60,277.39 L84.80,277.29 L85.00,277.20 L85.20,277.11 L85.40,277.02 L85.60,276.94 L85.80,276.87 L86.00,276.79 L86.50,276.62 L87.00,276.47 L87.50,276.34 L88.00,276.23 L88.50,276.12 L89.00,276.03 L89.50,275.96 L90.00,275.89 L90.50,275.83 L91.00,275.77 L91.50,275.73 L92.00,275.69 L92.50,275.65 L93.00,275.62 L93.50,275.60 L94.00,275.57 L94.50,275.55 L95.00,275.54 L95.50,275.52 L96.00,275.51 L96.50,275.50 L97.00,275.49 L97.50,275.48 L98.00,275.47 L98.50,275.47 L99.00,275.46 L99.50,275.46 L100.00,275.45 L100.50,275.45 L101.00,275.45 L101.50,275.44 L102.00,275.44 L102.50,275.44 L103.00,275.44 L103.50,275.44 L104.00,275.44 L104.50,275.44 L105.00,275.43 L105.50,275.43 L106.00,275.43 L106.50,275.43 L107.00,275.43 L107.50,275.43 L108.00,275.43 L112.00,275.43 L116.00,275.43 L120.00,275.43 L124.00,275.43 L128.00,275.43 L132.00,275.43 L136.00,275.43 L140.00,275.43 L144.00,275.43 L146.50,275.43" fill="none" stroke="#000" stroke-width="0.6" stroke-linejoin="round" />
<path d="M64.00,273.87 L64.20,274.20 L64.40,274.68 L64.60,275.28 L64.80,275.96 L65.00,276.69 L65.20,277.45 L65.40,278.23 L65.60,279.01 L65.80,279.81 L66.00,280.61 L66.20,281.41 L66.40,282.22 L66.60,283.04 L66.80,283.86 L67.00,284.68 L67.20,285.51 L67.40,286.35 L67.60,287.18 L67.80,288.02 L68.00,288.84 L68.20,289.61 L68.40,290.30 L68.60,290.82 L68.80,291.14 L69.00,291.24 L69.20,291.16 L69.40,290.96 L69.60,290.69 L69.80,290.38 L70.00,290.05 L70.20,289.71 L70.40,289.37 L70.60,289.01 L70.80,288.66 L71.00,288.30 L71.20,287.94 L71.40,287.58 L71.60,287.23 L71.80,286.88 L72.00,286.53 L72.20,286.18 L72.40,285.84 L72.60,285.51 L72.80,285.18 L73.00,284.86 L73.20,284.54 L73.40,284.23 L73.60,283.93 L73.80,283.63 L74.00,283.34 L74.20,283.06 L74.40,282.78 L74.60,282.51 L74.80,282.25 L75.00,282.00 L75.20,281.75 L75.40,281.51 L75.60,281.28 L75.80,281.06 L76.00,280.84 L76.20,280.63 L76.40,280.42 L76.60,280.22 L76.80,280.03 L77.00,279.85 L77.20,279.67 L77.40,279.50 L77.60,279.33 L77.80,279.17 L78.00,279.01 L78.20,278.86 L78.40,278.72 L78.60,278.58 L78.80,278.45 L79.00,278.32 L79.20,278.20 L79.40,278.08 L79.60,277.96 L79.80,277.86 L80.00,277.75 L80.20,277.65 L80.40,277.55 L80.60,277.46 L80.80,277.37 L81.00,277.28 L81.20,277.20 L81.40,277.12 L81.60,277.05 L81.80,276.98 L82.00,276.91 L82.20,276.84 L82.40,276.78 L82.60,276.72 L82.80,276.66 L83.00,276.61 L83.20,276.55 L83.40,276.50 L83.60,276.46 L83.80,276.41 L84.00,276.37 L84.20,276.32 L84.40,276.28 L84.60,276.25 L84.80,276.21 L85.00,276.17 L85.20,276.14 L85.40,276.11 L85.60,276.08 L85.80,276.05 L86.00,276.02 L86.50,275.96 L87.00,275.91 L87.50,275.86 L88.00,275.82 L88.50,275.78 L89.00,275.75 L89.50,275.72 L90.00,275.69 L90.50,275.67 L91.00,275.65 L91.50,275.63 L92.00,275.62 L92.50,275.60 L93.00,275.59 L93.50,275.58 L94.00,275.57 L94.50,275.57 L95.00,275.56 L95.50,275.55 L96.00,275.55 L96.50,275.55 L97.00,275.54 L97.50,275.54 L98.00,275.54 L98.50,275.53 L99.00,275.53 L99.50,275.53 L100.00,275.53 L100.50,275.53 L101.00,275.53 L101.50,275.53 L102.00,275.52 L102.50,275.52 L103.00,275.52 L103.50,275.52 L104.00,275.52 L104.50,275.52 L105.00,275.52 L105.50,275.52 L106.00,275.52 L106.50,275.52 L107.00,275.52 L107.50,275.52 L108.00,275.52 L112.00,275.52 L116.00,275.52 L120.00,275.52 L124.00,275.52 L128.00,275.52 L132.00,275.52 L136.00,275.52 L140.00,275.52 L144.00,275.52 L146.50,275.52" fill="none" stroke="#000" stroke-width="0.6" stroke-linejoin="round" />
<path d="M64.00,273.64 L64.20,273.76 L64.40,273.93 L64.60,274.14 L64.80,274.37 L65.00,274.60 L65.20,274.83 L65.40,275.06 L65.60,275.28 L65.80,275.50 L66.00,275.71 L66.20,275.91 L66.40,276.12 L66.60,276.32 L66.80,276.51 L67.00,276.70 L67.20,276.89 L67.40,277.08 L67.60,277.26 L67.80,277.45 L68.00,277.62 L68.20,277.80 L68.40,277.98 L68.60,278.15 L68.80,278.31 L69.00,278.45 L69.20,278.56 L69.40,278.63 L69.60,278.66 L69.80,278.66 L70.00,278.63 L70.20,278.59 L70.40,278.54 L70.60,278.48 L70.80,278.42 L71.00,278.36 L71.20,278.30 L71.40,278.24 L71.60,278.17 L71.80,278.11 L72.00,278.04 L72.20,277.98 L72.40,277.91 L72.60,277.84 L72.80,277.78 L73.00,277.72 L73.20,277.65 L73.40,277.59 L73.60,277.53 L73.80,277.47 L74.00,277.41 L74.20,277.35 L74.40,277.29 L74.60,277.24 L74.80,277.18 L75.00,277.13 L75.20,277.08 L75.40,277.03 L75.60,276.98 L75.80,276.93 L76.00,276.88 L76.20,276.84 L76.40,276.79 L76.60,276.75 L76.80,276.71 L77.00,276.67 L77.20,276.63 L77.40,276.59 L77.60,276.56 L77.80,276.52 L78.00,276.49 L78.20,276.46 L78.40,276.42 L78.60,276.39 L78.80,276.36 L79.00,276.34 L79.20,276.31 L79.40,276.28 L79.60,276.26 L79.80,276.23 L80.00,276.21 L80.20,276.19 L80.40,276.16 L80.60,276.14 L80.80,276.12 L81.00,276.10 L81.20,276.09 L81.40,276.07 L81.60,276.05 L81.80,276.04 L82.00,276.02 L82.20,276.00 L82.40,275.99 L82.60,275.98 L82.80,275.96 L83.00,275.95 L83.20,275.94 L83.40,275.93 L83.60,275.92 L83.80,275.91 L84.00,275.90 L84.20,275.89 L84.40,275.88 L84.60,275.87 L84.80,275.86 L85.00,275.85 L85.20,275.84 L85.40,275.84 L85.60,275.83 L85.80,275.82 L86.00,275.82 L86.50,275.80 L87.00,275.79 L87.50,275.78 L88.00,275.77 L88.50,275.76 L89.00,275.75 L89.50,275.75 L90.00,275.74 L90.50,275.74 L91.00,275.73 L91.50,275.73 L92.00,275.72 L92.50,275.72 L93.00,275.72 L93.50,275.71 L94.00,275.71 L94.50,275.71 L95.00,275.71 L95.50,275.71 L96.00,275.71 L96.50,275.71 L97.00,275.71 L97.50,275.70 L98.00,275.70 L98.50,275.70 L99.00,275.70 L99.50,275.70 L100.00,275.70 L100.50,275.70 L101.00,275.70 L101.50,275.70 L102.00,275.70 L102.50,275.70 L103.00,275.70 L103.50,275.70 L104.00,275.70 L104.50,275.70 L105.00,275.70 L105.50,275.70 L106.00,275.70 L106.50,275.70 L107.00,275.70 L107.50,275.70 L108.00,275.70 L112.00,275.70 L116.00,275.70 L120.00,275.70 L124.00,275.70 L128.00,275.70 L132.00,275.70 L136.00,275.70 L140.00,275.70 L144.00,275.70 L146.50,275.70" fill="none" stroke="#000" stroke-width="0.6" stroke-linejoin="round" />
<path d="M64.00,273.61 L64.20,273.70 L64.40,273.83 L64.60,273.98 L64.80,274.13 L65.00,274.29 L65.20,274.44 L65.40,274.59 L65.60,274.72 L65.80,274.85 L66.00,274.97 L66.20,275.09 L66.40,275.20 L66.60,275.30 L66.80,275.39 L67.00,275.49 L67.20,275.57 L67.40,275.66 L67.60,275.74 L67.80,275.81 L68.00,275.89 L68.20,275.96 L68.40,276.03 L68.60,276.09 L68.80,276.15 L69.00,276.21 L69.20,276.27 L69.40,276.32 L69.60,276.37 L69.80,276.40 L70.00,276.43 L70.20,276.44 L70.40,276.45 L70.60,276.45 L70.80,276.45 L71.00,276.44 L71.20,276.44 L71.40,276.43 L71.60,276.42 L71.80,276.41 L72.00,276.40 L72.20,276.39 L72.40,276.38 L72.60,276.37 L72.80,276.36 L73.00,276.35 L73.20,276.33 L73.40,276.32 L73.60,276.31 L73.80,276.30 L74.00,276.28 L74.20,276.27 L74.40,276.26 L74.60,276.24 L74.80,276.23 L75.00,276.22 L75.20,276.21 L75.40,276.20 L75.60,276.18 L75.80,276.17 L76.00,276.16 L76.20,276.15 L76.40,276.14 L76.60,276.13 L76.80,276.12 L77.00,276.11 L77.20,276.10 L77.40,276.09 L77.60,276.08 L77.80,276.07 L78.00,276.06 L78.20,276.05 L78.40,276.05 L78.60,276.04 L78.80,276.03 L79.00,276.02 L79.20,276.02 L79.40,276.01 L79.60,276.00 L79.80,276.00 L80.00,275.99 L80.20,275.98 L80.40,275.98 L80.60,275.97 L80.80,275.97 L81.00,275.96 L81.20,275.96 L81.40,275.95 L81.60,275.95 L81.80,275.94 L82.00,275.94 L82.20,275.93 L82.40,275.93 L82.60,275.93 L82.80,275.92 L83.00,275.92 L83.20,275.92 L83.40,275.91 L83.60,275.91 L83.80,275.91 L84.00,275.90 L84.20,275.90 L84.40,275.90 L84.60,275.90 L84.80,275.90 L85.00,275.89 L85.20,275.89 L85.40,275.89 L85.60,275.89 L85.80,275.88 L86.00,275.88 L86.50,275.88 L87.00,275.88 L87.50,275.87 L88.00,275.87 L88.50,275.87 L89.00,275.87 L89.50,275.86 L90.00,275.86 L90.50,275.86 L91.00,275.86 L91.50,275.86 L92.00,275.86 L92.50,275.86 L93.00,275.85 L93.50,275.85 L94.00,275.85 L94.50,275.85 L95.00,275.85 L95.50,275.85 L96.00,275.85 L96.50,275.85 L97.00,275.85 L97.50,275.85 L98.00,275.85 L98.50,275.85 L99.00,275.85 L99.50,275.85 L100.00,275.85 L100.50,275.85 L101.00,275.85 L101.50,275.85 L102.00,275.85 L102.50,275.85 L103.00,275.85 L103.50,275.85 L104.00,275.85 L104.50,275.85 L105.00,275.85 L105.50,275.85 L106.00,275.85 L106.50,275.85 L107.00,275.85 L107.50,275.85 L108.00,275.85 L112.00,275.85 L116.00,275.85 L120.00,275.85 L124.00,275.85 L128.00,275.85 L132.00,275.85 L136.00,275.85 L140.00,275.85 L144.00,275.85 L146.50,275.85" fill="none" stroke="#000" stroke-width="0.6" stroke-linejoin="round" />
<path d="M64.00,273.61 L64.20,273.70 L64.40,273.82 L64.60,273.96 L64.80,274.11 L65.00,274.26 L65.20,274.40 L65.40,274.53 L65.60,274.65 L65.80,274.76 L66.00,274.87 L66.20,274.97 L66.40,275.06 L66.60,275.14 L66.80,275.22 L67.00,275.29 L67.20,275.36 L67.40,275.42 L67.60,275.48 L67.80,275.54 L68.00,275.59 L68.20,275.64 L68.40,275.68 L68.60,275.73 L68.80,275.77 L69.00,275.80 L69.20,275.84 L69.40,275.87 L69.60,275.90 L69.80,275.93 L70.00,275.95 L70.20,275.98 L70.40,276.00 L70.60,276.01 L70.80,276.03 L71.00,276.04 L71.20,276.04 L71.40,276.05 L71.60,276.06 L71.80,276.06 L72.00,276.07 L72.20,276.07 L72.40,276.07 L72.60,276.08 L72.80,276.08 L73.00,276.08 L73.20,276.08 L73.40,276.08 L73.60,276.08 L73.80,276.08 L74.00,276.08 L74.20,276.08 L74.40,276.08 L74.60,276.08 L74.80,276.08 L75.00,276.08 L75.20,276.08 L75.40,276.07 L75.60,276.07 L75.80,276.07 L76.00,276.07 L76.20,276.07 L76.40,276.07 L76.60,276.06 L76.80,276.06 L77.00,276.06 L77.20,276.06 L77.40,276.06 L77.60,276.06 L77.80,276.05 L78.00,276.05 L78.20,276.05 L78.40,276.05 L78.60,276.05 L78.80,276.04 L79.00,276.04 L79.20,276.04 L79.40,276.04 L79.60,276.04 L79.80,276.04 L80.00,276.04 L80.20,276.03 L80.40,276.03 L80.60,276.03 L80.80,276.03 L81.00,276.03 L81.20,276.03 L81.40,276.03 L81.60,276.03 L81.80,276.02 L82.00,276.02 L82.20,276.02 L82.40,276.02 L82.60,276.02 L82.80,276.02 L83.00,276.02 L83.20,276.02 L83.40,276.02 L83.60,276.02 L83.80,276.02 L84.00,276.01 L84.20,276.01 L84.40,276.01 L84.60,276.01 L84.80,276.01 L85.00,276.01 L85.20,276.01 L85.40,276.01 L85.60,276.01 L85.80,276.01 L86.00,276.01 L86.50,276.01 L87.00,276.01 L87.50,276.01 L88.00,276.01 L88.50,276.00 L89.00,276.00 L89.50,276.00 L90.00,276.00 L90.50,276.00 L91.00,276.00 L91.50,276.00 L92.00,276.00 L92.50,276.00 L93.00,276.00 L93.50,276.00 L94.00,276.00 L94.50,276.00 L95.00,276.00 L95.50,276.00 L96.00,276.00 L96.50,276.00 L97.00,276.00 L97.50,276.00 L98.00,276.00 L98.50,276.00 L99.00,276.00 L99.50,276.00 L100.00,276.00 L100.50,276.00 L101.00,276.00 L101.50,276.00 L102.00,276.00 L102.50,276.00 L103.00,276.00 L103.50,276.00 L104.00,276.00 L104.50,276.00 L105.00,276.00 L105.50,276.00 L106.00,276.00 L106.50,276.00 L107.00,276.00 L107.50,276.00 L108.00,276.00 L112.00,276.00 L116.00,276.00 L120.00,276.00 L124.00,276.00 L128.00,276.00 L132.00,276.00 L136.00,276.00 L140.00,276.00 L144.00,276.00 L146.50,276.00" fill="none" stroke="#000" stroke-width="0.6" stroke-linejoin="round" />
<path d="M64.00,273.50 L66.00,274.70 L70.00,275.30 L146.00,275.40" fill="none" stroke="#000" stroke-width="0.6" stroke-linejoin="round" />
<path d="M64.00,273.50 L66.00,274.70 L70.00,275.30 L146.00,275.40" fill="none" stroke="#000" stroke-width="0.6" stroke-linejoin="round" />
<path d="M32.50,298.70 L32.50,320.00 L53.00,320.00" fill="none" stroke="#000" stroke-width="1" stroke-linejoin="round" />
<text x="3.5" y="314.5" font-size="12"  text-anchor="start" fill="#1a1a1a" >2 nA</text>
<text x="25" y="334.5" font-size="12"  text-anchor="start" fill="#1a1a1a" >2.5 ms</text>
<line x1="175.75" y1="266.75" x2="191.25" y2="266.75" stroke="#555" stroke-width="0.7" />
<line x1="175.75" y1="268.8958333333333" x2="191.25" y2="268.8958333333333" stroke="#555" stroke-width="0.7" />
<line x1="175.75" y1="271.0416666666667" x2="191.25" y2="271.0416666666667" stroke="#555" stroke-width="0.7" />
<line x1="175.75" y1="273.1875" x2="191.25" y2="273.1875" stroke="#555" stroke-width="0.7" />
<line x1="175.75" y1="275.3333333333333" x2="191.25" y2="275.3333333333333" stroke="#555" stroke-width="0.7" />
<line x1="175.75" y1="277.4791666666667" x2="191.25" y2="277.4791666666667" stroke="#555" stroke-width="0.7" />
<line x1="175.75" y1="279.625" x2="191.25" y2="279.625" stroke="#555" stroke-width="0.7" />
<line x1="175.75" y1="281.7708333333333" x2="191.25" y2="281.7708333333333" stroke="#555" stroke-width="0.7" />
<line x1="175.75" y1="283.9166666666667" x2="191.25" y2="283.9166666666667" stroke="#555" stroke-width="0.7" />
<line x1="175.75" y1="286.0625" x2="191.25" y2="286.0625" stroke="#555" stroke-width="0.7" />
<line x1="175.75" y1="288.2083333333333" x2="191.25" y2="288.2083333333333" stroke="#555" stroke-width="0.7" />
<line x1="175.75" y1="290.3541666666667" x2="191.25" y2="290.3541666666667" stroke="#555" stroke-width="0.7" />
<line x1="175.75" y1="292.5" x2="191.25" y2="292.5" stroke="#555" stroke-width="0.7" />
<line x1="191.25" y1="265" x2="191.25" y2="292.8" stroke="#444" stroke-width="0.7" />
<line x1="191.25" y1="265" x2="216.25" y2="265" stroke="#444" stroke-width="0.7" />
<text x="154.5" y="261.7" font-size="12"  text-anchor="start" fill="#1a1a1a" >-20 mV</text>
<text x="202.5" y="278" font-size="12"  text-anchor="start" fill="#1a1a1a" >0 mV</text>
<text x="153.7" y="308.7" font-size="12"  text-anchor="start" fill="#1a1a1a" >-140 mV</text>
<text x="305.7" y="242.6" font-size="12" font-weight="bold" text-anchor="start" fill="#1a1a1a" >A735V</text>
<line x1="261.7" y1="273.3" x2="304" y2="273.3" stroke="#000" stroke-width="1.2" />
<path d="M303.80,273.30 L304.40,277.30 L305.40,271.00 L306.20,266.50 L306.70,265.30 L307.20,266.50 L308.00,271.00 L308.90,273.90" fill="none" stroke="#000" stroke-width="0.9" stroke-linejoin="round" />
<path d="M308.80,273.97 L309.00,274.61 L309.20,275.50 L309.40,276.56 L309.60,277.75 L309.80,279.01 L310.00,280.32 L310.20,281.66 L310.40,283.04 L310.60,284.44 L310.80,285.87 L311.00,287.32 L311.20,288.80 L311.40,290.29 L311.60,291.79 L311.80,293.30 L312.00,294.75 L312.20,296.04 L312.40,297.01 L312.60,297.52 L312.80,297.56 L313.00,297.24 L313.20,296.71 L313.40,296.09 L313.60,295.43 L313.80,294.76 L314.00,294.09 L314.20,293.43 L314.40,292.76 L314.60,292.11 L314.80,291.47 L315.00,290.83 L315.20,290.21 L315.40,289.60 L315.60,289.01 L315.80,288.43 L316.00,287.86 L316.20,287.31 L316.40,286.77 L316.60,286.25 L316.80,285.75 L317.00,285.26 L317.20,284.78 L317.40,284.32 L317.60,283.87 L317.80,283.44 L318.00,283.03 L318.20,282.62 L318.40,282.23 L318.60,281.86 L318.80,281.50 L319.00,281.15 L319.20,280.81 L319.40,280.49 L319.60,280.17 L319.80,279.87 L320.00,279.58 L320.20,279.31 L320.40,279.04 L320.60,278.78 L320.80,278.53 L321.00,278.30 L321.20,278.07 L321.40,277.85 L321.60,277.64 L321.80,277.44 L322.00,277.25 L322.20,277.06 L322.40,276.89 L322.60,276.72 L322.80,276.56 L323.00,276.40 L323.20,276.25 L323.40,276.11 L323.60,275.97 L323.80,275.84 L324.00,275.72 L324.20,275.60 L324.40,275.49 L324.60,275.38 L324.80,275.27 L325.00,275.17 L325.20,275.08 L325.40,274.99 L325.60,274.90 L326.10,274.70 L326.60,274.52 L327.10,274.37 L327.60,274.23 L328.10,274.10 L328.60,274.00 L329.10,273.90 L329.60,273.81 L330.10,273.74 L330.60,273.67 L331.10,273.61 L331.60,273.56 L332.10,273.52 L332.60,273.48 L333.10,273.44 L333.60,273.41 L334.10,273.38 L334.60,273.36 L335.10,273.34 L335.60,273.32 L336.10,273.31 L336.60,273.29 L337.10,273.28 L337.60,273.27 L338.10,273.26 L338.60,273.25 L339.10,273.25 L339.60,273.24 L340.10,273.23 L340.60,273.23 L341.10,273.23 L341.60,273.22 L342.10,273.22 L342.60,273.22 L346.60,273.21 L350.60,273.20 L354.60,273.20 L358.60,273.20 L362.60,273.20 L366.60,273.20 L370.60,273.20 L374.60,273.20 L378.60,273.20 L382.60,273.20 L386.60,273.20 L390.60,273.20 L394.60,273.20 L396.30,273.20 L396.40,273.20" fill="none" stroke="#000" stroke-width="0.6" stroke-linejoin="round" />
<path d="M308.80,273.94 L309.00,274.56 L309.20,275.41 L309.40,276.43 L309.60,277.56 L309.80,278.77 L310.00,280.02 L310.20,281.31 L310.40,282.63 L310.60,283.97 L310.80,285.33 L311.00,286.72 L311.20,288.13 L311.40,289.55 L311.60,290.99 L311.80,292.43 L312.00,293.81 L312.20,295.05 L312.40,295.97 L312.60,296.47 L312.80,296.51 L313.00,296.21 L313.20,295.71 L313.40,295.11 L313.60,294.49 L313.80,293.86 L314.00,293.22 L314.20,292.59 L314.40,291.96 L314.60,291.34 L314.80,290.73 L315.00,290.13 L315.20,289.54 L315.40,288.96 L315.60,288.39 L315.80,287.84 L316.00,287.31 L316.20,286.78 L316.40,286.27 L316.60,285.78 L316.80,285.30 L317.00,284.83 L317.20,284.38 L317.40,283.94 L317.60,283.52 L317.80,283.11 L318.00,282.71 L318.20,282.33 L318.40,281.96 L318.60,281.60 L318.80,281.26 L319.00,280.93 L319.20,280.61 L319.40,280.30 L319.60,280.00 L319.80,279.72 L320.00,279.44 L320.20,279.18 L320.40,278.93 L320.60,278.68 L320.80,278.45 L321.00,278.22 L321.20,278.01 L321.40,277.80 L321.60,277.60 L321.80,277.41 L322.00,277.23 L322.20,277.05 L322.40,276.88 L322.60,276.72 L322.80,276.57 L323.00,276.42 L323.20,276.28 L323.40,276.14 L323.60,276.02 L323.80,275.89 L324.00,275.77 L324.20,275.66 L324.40,275.55 L324.60,275.45 L324.80,275.35 L325.00,275.26 L325.20,275.17 L325.40,275.08 L325.60,275.00 L326.10,274.81 L326.60,274.64 L327.10,274.49 L327.60,274.36 L328.10,274.24 L328.60,274.14 L329.10,274.05 L329.60,273.97 L330.10,273.90 L330.60,273.83 L331.10,273.78 L331.60,273.73 L332.10,273.69 L332.60,273.65 L333.10,273.62 L333.60,273.59 L334.10,273.56 L334.60,273.54 L335.10,273.52 L335.60,273.50 L336.10,273.49 L336.60,273.47 L337.10,273.46 L337.60,273.45 L338.10,273.44 L338.60,273.44 L339.10,273.43 L339.60,273.43 L340.10,273.42 L340.60,273.42 L341.10,273.41 L341.60,273.41 L342.10,273.41 L342.60,273.40 L346.60,273.39 L350.60,273.39 L354.60,273.39 L358.60,273.39 L362.60,273.39 L366.60,273.39 L370.60,273.39 L374.60,273.39 L378.60,273.39 L382.60,273.39 L386.60,273.39 L390.60,273.39 L394.60,273.39 L396.30,273.39 L396.40,273.39" fill="none" stroke="#000" stroke-width="0.6" stroke-linejoin="round" />
<path d="M308.80,273.92 L309.00,274.51 L309.20,275.32 L309.40,276.30 L309.60,277.39 L309.80,278.55 L310.00,279.75 L310.20,280.99 L310.40,282.25 L310.60,283.53 L310.80,284.84 L311.00,286.17 L311.20,287.52 L311.40,288.88 L311.60,290.26 L311.80,291.64 L312.00,292.97 L312.20,294.15 L312.40,295.03 L312.60,295.51 L312.80,295.55 L313.00,295.27 L313.20,294.79 L313.40,294.23 L313.60,293.64 L313.80,293.04 L314.00,292.43 L314.20,291.83 L314.40,291.23 L314.60,290.64 L314.80,290.06 L315.00,289.49 L315.20,288.93 L315.40,288.38 L315.60,287.84 L315.80,287.32 L316.00,286.81 L316.20,286.31 L316.40,285.82 L316.60,285.35 L316.80,284.90 L317.00,284.45 L317.20,284.02 L317.40,283.61 L317.60,283.20 L317.80,282.81 L318.00,282.44 L318.20,282.07 L318.40,281.72 L318.60,281.38 L318.80,281.06 L319.00,280.74 L319.20,280.44 L319.40,280.14 L319.60,279.86 L319.80,279.59 L320.00,279.33 L320.20,279.08 L320.40,278.84 L320.60,278.60 L320.80,278.38 L321.00,278.17 L321.20,277.96 L321.40,277.76 L321.60,277.58 L321.80,277.39 L322.00,277.22 L322.20,277.05 L322.40,276.89 L322.60,276.74 L322.80,276.59 L323.00,276.45 L323.20,276.32 L323.40,276.19 L323.60,276.07 L323.80,275.95 L324.00,275.84 L324.20,275.73 L324.40,275.63 L324.60,275.53 L324.80,275.44 L325.00,275.35 L325.20,275.26 L325.40,275.18 L325.60,275.10 L326.10,274.92 L326.60,274.76 L327.10,274.62 L327.60,274.50 L328.10,274.39 L328.60,274.29 L329.10,274.20 L329.60,274.12 L330.10,274.06 L330.60,274.00 L331.10,273.94 L331.60,273.90 L332.10,273.86 L332.60,273.82 L333.10,273.79 L333.60,273.76 L334.10,273.74 L334.60,273.72 L335.10,273.70 L335.60,273.68 L336.10,273.67 L336.60,273.66 L337.10,273.65 L337.60,273.64 L338.10,273.63 L338.60,273.62 L339.10,273.62 L339.60,273.61 L340.10,273.61 L340.60,273.60 L341.10,273.60 L341.60,273.60 L342.10,273.59 L342.60,273.59 L346.60,273.58 L350.60,273.58 L354.60,273.58 L358.60,273.58 L362.60,273.58 L366.60,273.58 L370.60,273.58 L374.60,273.58 L378.60,273.58 L382.60,273.58 L386.60,273.58 L390.60,273.58 L394.60,273.58 L396.30,273.58 L396.40,273.58" fill="none" stroke="#000" stroke-width="0.6" stroke-linejoin="round" />
<path d="M308.80,273.88 L309.00,274.43 L309.20,275.19 L309.40,276.10 L309.60,277.12 L309.80,278.20 L310.00,279.32 L310.20,280.47 L310.40,281.64 L310.60,282.84 L310.80,284.06 L311.00,285.29 L311.20,286.55 L311.40,287.81 L311.60,289.10 L311.80,290.38 L312.00,291.61 L312.20,292.71 L312.40,293.54 L312.60,293.98 L312.80,294.02 L313.00,293.76 L313.20,293.32 L313.40,292.81 L313.60,292.26 L313.80,291.71 L314.00,291.15 L314.20,290.60 L314.40,290.05 L314.60,289.50 L314.80,288.96 L315.00,288.44 L315.20,287.92 L315.40,287.41 L315.60,286.92 L315.80,286.43 L316.00,285.96 L316.20,285.50 L316.40,285.06 L316.60,284.62 L316.80,284.20 L317.00,283.79 L317.20,283.40 L317.40,283.01 L317.60,282.64 L317.80,282.28 L318.00,281.93 L318.20,281.60 L318.40,281.27 L318.60,280.96 L318.80,280.66 L319.00,280.37 L319.20,280.08 L319.40,279.81 L319.60,279.55 L319.80,279.30 L320.00,279.06 L320.20,278.83 L320.40,278.61 L320.60,278.40 L320.80,278.19 L321.00,277.99 L321.20,277.80 L321.40,277.62 L321.60,277.45 L321.80,277.28 L322.00,277.12 L322.20,276.97 L322.40,276.82 L322.60,276.68 L322.80,276.54 L323.00,276.41 L323.20,276.29 L323.40,276.17 L323.60,276.06 L323.80,275.95 L324.00,275.85 L324.20,275.75 L324.40,275.65 L324.60,275.56 L324.80,275.48 L325.00,275.39 L325.20,275.31 L325.40,275.24 L325.60,275.17 L326.10,275.00 L326.60,274.86 L327.10,274.72 L327.60,274.61 L328.10,274.51 L328.60,274.42 L329.10,274.34 L329.60,274.27 L330.10,274.20 L330.60,274.15 L331.10,274.10 L331.60,274.06 L332.10,274.02 L332.60,273.99 L333.10,273.96 L333.60,273.94 L334.10,273.91 L334.60,273.89 L335.10,273.88 L335.60,273.86 L336.10,273.85 L336.60,273.84 L337.10,273.83 L337.60,273.82 L338.10,273.81 L338.60,273.81 L339.10,273.80 L339.60,273.80 L340.10,273.79 L340.60,273.79 L341.10,273.79 L341.60,273.78 L342.10,273.78 L342.60,273.78 L346.60,273.77 L350.60,273.77 L354.60,273.77 L358.60,273.77 L362.60,273.77 L366.60,273.77 L370.60,273.77 L374.60,273.77 L378.60,273.77 L382.60,273.77 L386.60,273.77 L390.60,273.77 L394.60,273.77 L396.30,273.77 L396.40,273.77" fill="none" stroke="#000" stroke-width="0.6" stroke-linejoin="round" />
<path d="M308.80,273.49 L309.00,273.68 L309.20,273.93 L309.40,274.23 L309.60,274.57 L309.80,274.93 L310.00,275.29 L310.20,275.67 L310.40,276.06 L310.60,276.45 L310.80,276.85 L311.00,277.25 L311.20,277.66 L311.40,278.07 L311.60,278.49 L311.80,278.90 L312.00,279.30 L312.20,279.66 L312.40,279.93 L312.60,280.08 L312.80,280.10 L313.00,280.03 L313.20,279.90 L313.40,279.74 L313.60,279.58 L313.80,279.41 L314.00,279.24 L314.20,279.07 L314.40,278.90 L314.60,278.74 L314.80,278.58 L315.00,278.41 L315.20,278.26 L315.40,278.10 L315.60,277.95 L315.80,277.80 L316.00,277.66 L316.20,277.52 L316.40,277.38 L316.60,277.25 L316.80,277.12 L317.00,277.00 L317.20,276.88 L317.40,276.76 L317.60,276.64 L317.80,276.53 L318.00,276.43 L318.20,276.33 L318.40,276.23 L318.60,276.13 L318.80,276.04 L319.00,275.95 L319.20,275.86 L319.40,275.78 L319.60,275.70 L319.80,275.63 L320.00,275.55 L320.20,275.48 L320.40,275.41 L320.60,275.35 L320.80,275.29 L321.00,275.23 L321.20,275.17 L321.40,275.11 L321.60,275.06 L321.80,275.01 L322.00,274.96 L322.20,274.91 L322.40,274.87 L322.60,274.83 L322.80,274.78 L323.00,274.74 L323.20,274.71 L323.40,274.67 L323.60,274.64 L323.80,274.60 L324.00,274.57 L324.20,274.54 L324.40,274.51 L324.60,274.49 L324.80,274.46 L325.00,274.44 L325.20,274.41 L325.40,274.39 L325.60,274.37 L326.10,274.32 L326.60,274.27 L327.10,274.23 L327.60,274.20 L328.10,274.17 L328.60,274.14 L329.10,274.12 L329.60,274.10 L330.10,274.08 L330.60,274.06 L331.10,274.05 L331.60,274.04 L332.10,274.03 L332.60,274.02 L333.10,274.01 L333.60,274.00 L334.10,273.99 L334.60,273.99 L335.10,273.98 L335.60,273.98 L336.10,273.98 L336.60,273.97 L337.10,273.97 L337.60,273.97 L338.10,273.97 L338.60,273.96 L339.10,273.96 L339.60,273.96 L340.10,273.96 L340.60,273.96 L341.10,273.96 L341.60,273.96 L342.10,273.96 L342.60,273.96 L346.60,273.96 L350.60,273.96 L354.60,273.96 L358.60,273.96 L362.60,273.96 L366.60,273.96 L370.60,273.96 L374.60,273.96 L378.60,273.96 L382.60,273.96 L386.60,273.96 L390.60,273.96 L394.60,273.96 L396.30,273.96 L396.40,273.96" fill="none" stroke="#000" stroke-width="0.6" stroke-linejoin="round" />
<path d="M308.80,273.38 L309.00,273.46 L309.20,273.57 L309.40,273.70 L309.60,273.84 L309.80,273.99 L310.00,274.14 L310.20,274.30 L310.40,274.45 L310.60,274.61 L310.80,274.77 L311.00,274.94 L311.20,275.10 L311.40,275.26 L311.60,275.43 L311.80,275.60 L312.00,275.75 L312.20,275.90 L312.40,276.01 L312.60,276.07 L312.80,276.09 L313.00,276.08 L313.20,276.04 L313.40,275.99 L313.60,275.94 L313.80,275.89 L314.00,275.83 L314.20,275.78 L314.40,275.73 L314.60,275.67 L314.80,275.62 L315.00,275.57 L315.20,275.52 L315.40,275.47 L315.60,275.42 L315.80,275.37 L316.00,275.32 L316.20,275.28 L316.40,275.23 L316.60,275.19 L316.80,275.15 L317.00,275.11 L317.20,275.07 L317.40,275.03 L317.60,274.99 L317.80,274.96 L318.00,274.92 L318.20,274.89 L318.40,274.86 L318.60,274.83 L318.80,274.80 L319.00,274.77 L319.20,274.74 L319.40,274.71 L319.60,274.69 L319.80,274.66 L320.00,274.64 L320.20,274.62 L320.40,274.59 L320.60,274.57 L320.80,274.55 L321.00,274.53 L321.20,274.51 L321.40,274.50 L321.60,274.48 L321.80,274.46 L322.00,274.45 L322.20,274.43 L322.40,274.42 L322.60,274.40 L322.80,274.39 L323.00,274.38 L323.20,274.37 L323.40,274.35 L323.60,274.34 L323.80,274.33 L324.00,274.32 L324.20,274.31 L324.40,274.30 L324.60,274.30 L324.80,274.29 L325.00,274.28 L325.20,274.27 L325.40,274.27 L325.60,274.26 L326.10,274.24 L326.60,274.23 L327.10,274.22 L327.60,274.21 L328.10,274.20 L328.60,274.19 L329.10,274.18 L329.60,274.18 L330.10,274.17 L330.60,274.17 L331.10,274.16 L331.60,274.16 L332.10,274.16 L332.60,274.16 L333.10,274.15 L333.60,274.15 L334.10,274.15 L334.60,274.15 L335.10,274.15 L335.60,274.15 L336.10,274.15 L336.60,274.15 L337.10,274.14 L337.60,274.14 L338.10,274.14 L338.60,274.14 L339.10,274.14 L339.60,274.14 L340.10,274.14 L340.60,274.14 L341.10,274.14 L341.60,274.14 L342.10,274.14 L342.60,274.14 L346.60,274.14 L350.60,274.14 L354.60,274.14 L358.60,274.14 L362.60,274.14 L366.60,274.14 L370.60,274.14 L374.60,274.14 L378.60,274.14 L382.60,274.14 L386.60,274.14 L390.60,274.14 L394.60,274.14 L396.30,274.14 L396.40,274.14" fill="none" stroke="#000" stroke-width="0.6" stroke-linejoin="round" />
<path d="M308.80,273.34 L309.00,273.38 L309.20,273.44 L309.40,273.50 L309.60,273.57 L309.80,273.64 L310.00,273.71 L310.20,273.78 L310.40,273.85 L310.60,273.92 L310.80,273.99 L311.00,274.06 L311.20,274.13 L311.40,274.20 L311.60,274.27 L311.80,274.33 L312.00,274.40 L312.20,274.46 L312.40,274.51 L312.60,274.55 L312.80,274.56 L313.00,274.57 L313.20,274.57 L313.40,274.57 L313.60,274.56 L313.80,274.56 L314.00,274.55 L314.20,274.55 L314.40,274.54 L314.60,274.53 L314.80,274.52 L315.00,274.52 L315.20,274.51 L315.40,274.50 L315.60,274.50 L315.80,274.49 L316.00,274.48 L316.20,274.47 L316.40,274.47 L316.60,274.46 L316.80,274.45 L317.00,274.45 L317.20,274.44 L317.40,274.43 L317.60,274.43 L317.80,274.42 L318.00,274.42 L318.20,274.41 L318.40,274.41 L318.60,274.40 L318.80,274.40 L319.00,274.39 L319.20,274.39 L319.40,274.38 L319.60,274.38 L319.80,274.38 L320.00,274.37 L320.20,274.37 L320.40,274.37 L320.60,274.36 L320.80,274.36 L321.00,274.36 L321.20,274.35 L321.40,274.35 L321.60,274.35 L321.80,274.35 L322.00,274.35 L322.20,274.34 L322.40,274.34 L322.60,274.34 L322.80,274.34 L323.00,274.34 L323.20,274.33 L323.40,274.33 L323.60,274.33 L323.80,274.33 L324.00,274.33 L324.20,274.33 L324.40,274.33 L324.60,274.33 L324.80,274.33 L325.00,274.33 L325.20,274.32 L325.40,274.32 L325.60,274.32 L326.10,274.32 L326.60,274.32 L327.10,274.32 L327.60,274.32 L328.10,274.32 L328.60,274.32 L329.10,274.32 L329.60,274.32 L330.10,274.32 L330.60,274.32 L331.10,274.32 L331.60,274.32 L332.10,274.32 L332.60,274.32 L333.10,274.32 L333.60,274.32 L334.10,274.32 L334.60,274.32 L335.10,274.32 L335.60,274.33 L336.10,274.33 L336.60,274.33 L337.10,274.33 L337.60,274.33 L338.10,274.33 L338.60,274.33 L339.10,274.33 L339.60,274.33 L340.10,274.33 L340.60,274.33 L341.10,274.33 L341.60,274.33 L342.10,274.33 L342.60,274.33 L346.60,274.33 L350.60,274.33 L354.60,274.33 L358.60,274.33 L362.60,274.33 L366.60,274.33 L370.60,274.33 L374.60,274.33 L378.60,274.33 L382.60,274.33 L386.60,274.33 L390.60,274.33 L394.60,274.33 L396.30,274.33 L396.40,274.33" fill="none" stroke="#000" stroke-width="0.6" stroke-linejoin="round" />
<path d="M308.80,273.33 L309.00,273.35 L309.20,273.38 L309.40,273.42 L309.60,273.45 L309.80,273.49 L310.00,273.52 L310.20,273.55 L310.40,273.58 L310.60,273.62 L310.80,273.65 L311.00,273.67 L311.20,273.70 L311.40,273.73 L311.60,273.75 L311.80,273.78 L312.00,273.80 L312.20,273.83 L312.40,273.85 L312.60,273.87 L312.80,273.89 L313.00,273.91 L313.20,273.93 L313.40,273.95 L313.60,273.97 L313.80,273.99 L314.00,274.01 L314.20,274.02 L314.40,274.04 L314.60,274.06 L314.80,274.07 L315.00,274.09 L315.20,274.10 L315.40,274.11 L315.60,274.13 L315.80,274.14 L316.00,274.15 L316.20,274.17 L316.40,274.18 L316.60,274.19 L316.80,274.20 L317.00,274.21 L317.20,274.22 L317.40,274.23 L317.60,274.24 L317.80,274.25 L318.00,274.26 L318.20,274.27 L318.40,274.28 L318.60,274.28 L318.80,274.29 L319.00,274.30 L319.20,274.31 L319.40,274.31 L319.60,274.32 L319.80,274.33 L320.00,274.33 L320.20,274.34 L320.40,274.35 L320.60,274.35 L320.80,274.36 L321.00,274.36 L321.20,274.37 L321.40,274.37 L321.60,274.38 L321.80,274.38 L322.00,274.39 L322.20,274.39 L322.40,274.40 L322.60,274.40 L322.80,274.40 L323.00,274.41 L323.20,274.41 L323.40,274.41 L323.60,274.42 L323.80,274.42 L324.00,274.43 L324.20,274.43 L324.40,274.43 L324.60,274.43 L324.80,274.44 L325.00,274.44 L325.20,274.44 L325.40,274.45 L325.60,274.45 L326.10,274.45 L326.60,274.46 L327.10,274.46 L327.60,274.47 L328.10,274.47 L328.60,274.48 L329.10,274.48 L329.60,274.48 L330.10,274.49 L330.60,274.49 L331.10,274.49 L331.60,274.49 L332.10,274.50 L332.60,274.50 L333.10,274.50 L333.60,274.50 L334.10,274.50 L334.60,274.51 L335.10,274.51 L335.60,274.51 L336.10,274.51 L336.60,274.51 L337.10,274.51 L337.60,274.51 L338.10,274.51 L338.60,274.51 L339.10,274.51 L339.60,274.52 L340.10,274.52 L340.60,274.52 L341.10,274.52 L341.60,274.52 L342.10,274.52 L342.60,274.52 L346.60,274.52 L350.60,274.52 L354.60,274.52 L358.60,274.52 L362.60,274.52 L366.60,274.52 L370.60,274.52 L374.60,274.52 L378.60,274.52 L382.60,274.52 L386.60,274.52 L390.60,274.52 L394.60,274.52 L396.30,274.52 L396.40,274.52" fill="none" stroke="#000" stroke-width="0.6" stroke-linejoin="round" />
<path d="M308.80,273.33 L309.00,273.36 L309.20,273.39 L309.40,273.43 L309.60,273.47 L309.80,273.51 L310.00,273.55 L310.20,273.59 L310.40,273.63 L310.60,273.66 L310.80,273.70 L311.00,273.73 L311.20,273.76 L311.40,273.79 L311.60,273.82 L311.80,273.85 L312.00,273.88 L312.20,273.91 L312.40,273.94 L312.60,273.96 L312.80,273.99 L313.00,274.01 L313.20,274.03 L313.40,274.05 L313.60,274.08 L313.80,274.10 L314.00,274.12 L314.20,274.14 L314.40,274.16 L314.60,274.17 L314.80,274.19 L315.00,274.21 L315.20,274.22 L315.40,274.24 L315.60,274.26 L315.80,274.27 L316.00,274.29 L316.20,274.30 L316.40,274.31 L316.60,274.33 L316.80,274.34 L317.00,274.35 L317.20,274.36 L317.40,274.37 L317.60,274.39 L317.80,274.40 L318.00,274.41 L318.20,274.42 L318.40,274.43 L318.60,274.44 L318.80,274.44 L319.00,274.45 L319.20,274.46 L319.40,274.47 L319.60,274.48 L319.80,274.49 L320.00,274.49 L320.20,274.50 L320.40,274.51 L320.60,274.51 L320.80,274.52 L321.00,274.53 L321.20,274.53 L321.40,274.54 L321.60,274.54 L321.80,274.55 L322.00,274.55 L322.20,274.56 L322.40,274.56 L322.60,274.57 L322.80,274.57 L323.00,274.58 L323.20,274.58 L323.40,274.59 L323.60,274.59 L323.80,274.60 L324.00,274.60 L324.20,274.60 L324.40,274.61 L324.60,274.61 L324.80,274.61 L325.00,274.62 L325.20,274.62 L325.40,274.62 L325.60,274.63 L326.10,274.63 L326.60,274.64 L327.10,274.64 L327.60,274.65 L328.10,274.65 L328.60,274.66 L329.10,274.66 L329.60,274.67 L330.10,274.67 L330.60,274.67 L331.10,274.68 L331.60,274.68 L332.10,274.68 L332.60,274.68 L333.10,274.69 L333.60,274.69 L334.10,274.69 L334.60,274.69 L335.10,274.69 L335.60,274.69 L336.10,274.70 L336.60,274.70 L337.10,274.70 L337.60,274.70 L338.10,274.70 L338.60,274.70 L339.10,274.70 L339.60,274.70 L340.10,274.70 L340.60,274.70 L341.10,274.70 L341.60,274.71 L342.10,274.71 L342.60,274.71 L346.60,274.71 L350.60,274.71 L354.60,274.71 L358.60,274.71 L362.60,274.71 L366.60,274.71 L370.60,274.71 L374.60,274.71 L378.60,274.71 L382.60,274.71 L386.60,274.71 L390.60,274.71 L394.60,274.71 L396.30,274.71 L396.40,274.71" fill="none" stroke="#000" stroke-width="0.6" stroke-linejoin="round" />
<path d="M308.80,273.34 L309.00,273.37 L309.20,273.41 L309.40,273.45 L309.60,273.50 L309.80,273.54 L310.00,273.59 L310.20,273.63 L310.40,273.67 L310.60,273.71 L310.80,273.75 L311.00,273.79 L311.20,273.83 L311.40,273.86 L311.60,273.89 L311.80,273.93 L312.00,273.96 L312.20,273.99 L312.40,274.02 L312.60,274.05 L312.80,274.08 L313.00,274.10 L313.20,274.13 L313.40,274.16 L313.60,274.18 L313.80,274.20 L314.00,274.23 L314.20,274.25 L314.40,274.27 L314.60,274.29 L314.80,274.31 L315.00,274.33 L315.20,274.35 L315.40,274.37 L315.60,274.38 L315.80,274.40 L316.00,274.42 L316.20,274.43 L316.40,274.45 L316.60,274.46 L316.80,274.48 L317.00,274.49 L317.20,274.50 L317.40,274.52 L317.60,274.53 L317.80,274.54 L318.00,274.55 L318.20,274.57 L318.40,274.58 L318.60,274.59 L318.80,274.60 L319.00,274.61 L319.20,274.62 L319.40,274.63 L319.60,274.64 L319.80,274.64 L320.00,274.65 L320.20,274.66 L320.40,274.67 L320.60,274.68 L320.80,274.68 L321.00,274.69 L321.20,274.70 L321.40,274.70 L321.60,274.71 L321.80,274.72 L322.00,274.72 L322.20,274.73 L322.40,274.73 L322.60,274.74 L322.80,274.74 L323.00,274.75 L323.20,274.75 L323.40,274.76 L323.60,274.76 L323.80,274.77 L324.00,274.77 L324.20,274.78 L324.40,274.78 L324.60,274.78 L324.80,274.79 L325.00,274.79 L325.20,274.80 L325.40,274.80 L325.60,274.80 L326.10,274.81 L326.60,274.82 L327.10,274.82 L327.60,274.83 L328.10,274.84 L328.60,274.84 L329.10,274.85 L329.60,274.85 L330.10,274.85 L330.60,274.86 L331.10,274.86 L331.60,274.86 L332.10,274.87 L332.60,274.87 L333.10,274.87 L333.60,274.87 L334.10,274.88 L334.60,274.88 L335.10,274.88 L335.60,274.88 L336.10,274.88 L336.60,274.88 L337.10,274.89 L337.60,274.89 L338.10,274.89 L338.60,274.89 L339.10,274.89 L339.60,274.89 L340.10,274.89 L340.60,274.89 L341.10,274.89 L341.60,274.89 L342.10,274.89 L342.60,274.89 L346.60,274.90 L350.60,274.90 L354.60,274.90 L358.60,274.90 L362.60,274.90 L366.60,274.90 L370.60,274.90 L374.60,274.90 L378.60,274.90 L382.60,274.90 L386.60,274.90 L390.60,274.90 L394.60,274.90 L396.30,274.90 L396.40,274.90" fill="none" stroke="#000" stroke-width="0.6" stroke-linejoin="round" />
<path d="M260.20,305.60 L260.20,319.00 L279.30,319.00" fill="none" stroke="#000" stroke-width="1" stroke-linejoin="round" />
<text x="232.5" y="316.2" font-size="12"  text-anchor="start" fill="#1a1a1a" >2 nA</text>
<text x="263.7" y="335.2" font-size="12"  text-anchor="start" fill="#1a1a1a" >2.5 ms</text>
<line x1="40.5" y1="435.9" x2="40.5" y2="547.5" stroke="#666" stroke-width="1" />
<line x1="228.5" y1="435.9" x2="228.5" y2="547.5" stroke="#666" stroke-width="1" />
<line x1="40.5" y1="547.0" x2="228.5" y2="547.0" stroke="#666" stroke-width="1" />
<line x1="37.7" y1="547.0" x2="40.5" y2="547.0" stroke="#666" stroke-width="1" />
<line x1="228.5" y1="547.0" x2="230.9" y2="547.0" stroke="#666" stroke-width="1" />
<text x="35.4" y="551.1" font-size="12"  text-anchor="end" fill="#1a1a1a" >0.0</text>
<text x="235.7" y="550.2" font-size="12"  text-anchor="start" fill="#1a1a1a" >0.0</text>
<line x1="38.9" y1="536.93" x2="40.5" y2="536.93" stroke="#666" stroke-width="1" />
<line x1="228.5" y1="536.93" x2="229.7" y2="536.93" stroke="#666" stroke-width="1" />
<line x1="37.7" y1="526.86" x2="40.5" y2="526.86" stroke="#666" stroke-width="1" />
<line x1="228.5" y1="526.86" x2="230.9" y2="526.86" stroke="#666" stroke-width="1" />
<text x="35.4" y="530.96" font-size="12"  text-anchor="end" fill="#1a1a1a" >0.2</text>
<text x="235.7" y="530.0600000000001" font-size="12"  text-anchor="start" fill="#1a1a1a" >0.2</text>
<line x1="38.9" y1="516.79" x2="40.5" y2="516.79" stroke="#666" stroke-width="1" />
<line x1="228.5" y1="516.79" x2="229.7" y2="516.79" stroke="#666" stroke-width="1" />
<line x1="37.7" y1="506.72" x2="40.5" y2="506.72" stroke="#666" stroke-width="1" />
<line x1="228.5" y1="506.72" x2="230.9" y2="506.72" stroke="#666" stroke-width="1" />
<text x="35.4" y="510.82000000000005" font-size="12"  text-anchor="end" fill="#1a1a1a" >0.4</text>
<text x="235.7" y="509.92" font-size="12"  text-anchor="start" fill="#1a1a1a" >0.4</text>
<line x1="38.9" y1="496.65" x2="40.5" y2="496.65" stroke="#666" stroke-width="1" />
<line x1="228.5" y1="496.65" x2="229.7" y2="496.65" stroke="#666" stroke-width="1" />
<line x1="37.7" y1="486.58000000000004" x2="40.5" y2="486.58000000000004" stroke="#666" stroke-width="1" />
<line x1="228.5" y1="486.58000000000004" x2="230.9" y2="486.58000000000004" stroke="#666" stroke-width="1" />
<text x="35.4" y="490.68000000000006" font-size="12"  text-anchor="end" fill="#1a1a1a" >0.6</text>
<text x="235.7" y="489.78000000000003" font-size="12"  text-anchor="start" fill="#1a1a1a" >0.6</text>
<line x1="38.9" y1="476.51" x2="40.5" y2="476.51" stroke="#666" stroke-width="1" />
<line x1="228.5" y1="476.51" x2="229.7" y2="476.51" stroke="#666" stroke-width="1" />
<line x1="37.7" y1="466.44" x2="40.5" y2="466.44" stroke="#666" stroke-width="1" />
<line x1="228.5" y1="466.44" x2="230.9" y2="466.44" stroke="#666" stroke-width="1" />
<text x="35.4" y="470.54" font-size="12"  text-anchor="end" fill="#1a1a1a" >0.8</text>
<text x="235.7" y="469.64" font-size="12"  text-anchor="start" fill="#1a1a1a" >0.8</text>
<line x1="38.9" y1="456.37" x2="40.5" y2="456.37" stroke="#666" stroke-width="1" />
<line x1="228.5" y1="456.37" x2="229.7" y2="456.37" stroke="#666" stroke-width="1" />
<line x1="37.7" y1="446.3" x2="40.5" y2="446.3" stroke="#666" stroke-width="1" />
<line x1="228.5" y1="446.3" x2="230.9" y2="446.3" stroke="#666" stroke-width="1" />
<text x="35.4" y="450.40000000000003" font-size="12"  text-anchor="end" fill="#1a1a1a" >1.0</text>
<text x="235.7" y="449.5" font-size="12"  text-anchor="start" fill="#1a1a1a" >1.0</text>
<line x1="50.64705882352941" y1="547.0" x2="50.64705882352941" y2="549.3" stroke="#666" stroke-width="1" />
<text x="55.2" y="562.7" font-size="12"  text-anchor="middle" fill="#1a1a1a" >-140</text>
<line x1="72.94117647058823" y1="547.0" x2="72.94117647058823" y2="548.4" stroke="#666" stroke-width="1" />
<line x1="95.23529411764706" y1="547.0" x2="95.23529411764706" y2="549.3" stroke="#666" stroke-width="1" />
<text x="95.6" y="562.7" font-size="12"  text-anchor="middle" fill="#1a1a1a" >-100</text>
<line x1="117.52941176470588" y1="547.0" x2="117.52941176470588" y2="548.4" stroke="#666" stroke-width="1" />
<line x1="139.8235294117647" y1="547.0" x2="139.8235294117647" y2="549.3" stroke="#666" stroke-width="1" />
<text x="139.6" y="562.7" font-size="12"  text-anchor="middle" fill="#1a1a1a" >-60</text>
<line x1="162.11764705882354" y1="547.0" x2="162.11764705882354" y2="548.4" stroke="#666" stroke-width="1" />
<line x1="184.41176470588235" y1="547.0" x2="184.41176470588235" y2="549.3" stroke="#666" stroke-width="1" />
<text x="185.6" y="562.7" font-size="12"  text-anchor="middle" fill="#1a1a1a" >-20</text>
<line x1="206.7058823529412" y1="547.0" x2="206.7058823529412" y2="548.4" stroke="#666" stroke-width="1" />
<line x1="228.5" y1="547.0" x2="228.5" y2="549.3" stroke="#666" stroke-width="1" />
<text x="229" y="562.7" font-size="12"  text-anchor="middle" fill="#1a1a1a" >20</text>
<text x="141.8" y="576" font-size="12" font-weight="bold" text-anchor="middle" fill="#1a1a1a" >Voltage (mV)</text>
<text transform="translate(8.1,512.8) rotate(-90)" text-anchor="start" font-size="11.5" font-weight="bold" fill="#1a1a1a">I/I<tspan font-size="10.5" dy="5">max</tspan></text>
<text transform="translate(265.7,519.2) rotate(-90)" text-anchor="start" font-size="11.5" font-weight="bold" fill="#1a1a1a">G/G<tspan font-size="10.5" dy="5.5">max</tspan></text>
<rect x="28" y="395" width="3.3" height="3.2" fill="#000"/>
<text x="37.1" y="400" font-size="12" font-weight="bold" text-anchor="start" fill="#1a1a1a" >Inactivation WT</text>
<rect x="27.8" y="408.8" width="4.4" height="4.4" fill="#c4c4c4"/>
<text x="37.1" y="415.6" font-size="12" font-weight="bold" text-anchor="start" fill="#1a1a1a" >Inactivation A735V</text>
<circle cx="152.5" cy="397" r="2" fill="#000"/>
<text x="161.2" y="400.4" font-size="12" font-weight="bold" text-anchor="start" fill="#1a1a1a" >Activation WT</text>
<circle cx="152.5" cy="409" r="2.2" fill="#c4c4c4"/>
<text x="161.2" y="414.7" font-size="12" font-weight="bold" text-anchor="start" fill="#1a1a1a" >Activation A735V</text>
<path d="M50.65,446.86 L51.76,446.87 L52.88,446.88 L53.99,446.89 L55.11,446.90 L56.22,446.92 L57.34,446.93 L58.45,446.95 L59.56,446.97 L60.68,447.00 L61.79,447.03 L62.91,447.06 L64.02,447.10 L65.14,447.14 L66.25,447.19 L67.37,447.25 L68.48,447.31 L69.60,447.39 L70.71,447.47 L71.83,447.57 L72.94,447.68 L74.06,447.81 L75.17,447.96 L76.29,448.13 L77.40,448.32 L78.51,448.53 L79.63,448.78 L80.74,449.07 L81.86,449.39 L82.97,449.76 L84.09,450.18 L85.20,450.66 L86.32,451.20 L87.43,451.81 L88.55,452.50 L89.66,453.29 L90.78,454.17 L91.89,455.16 L93.01,456.27 L94.12,457.51 L95.24,458.89 L96.35,460.43 L97.46,462.12 L98.58,463.98 L99.69,466.02 L100.81,468.24 L101.92,470.64 L103.04,473.21 L104.15,475.96 L105.27,478.87 L106.38,481.93 L107.50,485.12 L108.61,488.41 L109.73,491.77 L110.84,495.19 L111.96,498.62 L113.07,502.03 L114.19,505.40 L115.30,508.69 L116.41,511.87 L117.53,514.93 L118.64,517.84 L119.76,520.59 L120.87,523.17 L121.99,525.56 L123.10,527.78 L124.22,529.82 L125.33,531.68 L126.45,533.38 L127.56,534.91 L128.68,536.29 L129.79,537.53 L130.91,538.65 L132.02,539.64 L133.14,540.52 L134.25,541.30 L135.36,541.99 L136.48,542.61 L137.59,543.15 L138.71,543.62 L139.82,544.04 L140.94,544.41 L142.05,544.74 L143.17,545.02 L144.28,545.27 L145.40,545.49 L146.51,545.68 L147.63,545.85 L148.74,545.99 L149.86,546.12 L150.97,546.23 L152.09,546.33 L153.20,546.41 L154.31,546.49 L155.43,546.55 L156.54,546.61 L157.66,546.66 L158.77,546.70 L159.89,546.74 L161.00,546.77 L162.12,546.80 L163.23,546.83 L164.35,546.85 L165.46,546.87 L166.58,546.89 L167.69,546.90 L168.81,546.91 L169.92,546.92 L171.04,546.93 L172.15,546.94 L173.26,546.95 L174.38,546.96 L175.49,546.96 L176.61,546.97 L177.72,546.97 L178.84,546.97 L179.95,546.98 L181.07,546.98 L182.18,546.98 L183.30,546.99 L184.41,546.99" fill="none" stroke="#c4c4c4" stroke-width="1.1" stroke-linejoin="round" />
<path d="M123.10,545.82 L124.22,545.68 L125.33,545.53 L126.45,545.36 L127.56,545.17 L128.68,544.96 L129.79,544.72 L130.91,544.46 L132.02,544.17 L133.14,543.85 L134.25,543.49 L135.36,543.10 L136.48,542.66 L137.59,542.17 L138.71,541.64 L139.82,541.04 L140.94,540.39 L142.05,539.67 L143.17,538.88 L144.28,538.01 L145.40,537.06 L146.51,536.01 L147.63,534.88 L148.74,533.64 L149.86,532.30 L150.97,530.85 L152.09,529.29 L153.20,527.61 L154.31,525.81 L155.43,523.89 L156.54,521.85 L157.66,519.70 L158.77,517.43 L159.89,515.06 L161.00,512.59 L162.12,510.03 L163.23,507.39 L164.35,504.69 L165.46,501.95 L166.58,499.17 L167.69,496.37 L168.81,493.58 L169.92,490.80 L171.04,488.06 L172.15,485.38 L173.26,482.75 L174.38,480.21 L175.49,477.76 L176.61,475.41 L177.72,473.16 L178.84,471.03 L179.95,469.02 L181.07,467.12 L182.18,465.35 L183.30,463.69 L184.41,462.15 L185.53,460.72 L186.64,459.40 L187.76,458.19 L188.87,457.07 L189.99,456.05 L191.10,455.11 L192.21,454.26 L193.33,453.48 L194.44,452.77 L195.56,452.13 L196.67,451.55 L197.79,451.03 L198.90,450.55 L200.02,450.12 L201.13,449.73 L202.25,449.38 L203.36,449.07 L204.48,448.78 L205.59,448.53 L206.71,448.30 L207.82,448.09 L208.94,447.91 L210.05,447.74 L211.16,447.59 L212.28,447.46 L213.39,447.34 L214.51,447.23 L215.62,447.13 L216.74,447.04 L217.85,446.97" fill="none" stroke="#c4c4c4" stroke-width="1.1" stroke-linejoin="round" />
<line x1="50.64705882352941" y1="447.307" x2="50.64705882352941" y2="445.293" stroke="#c4c4c4" stroke-width="1.2" />
<rect x="48.95" y="444.60" width="3.4" height="3.4" fill="#c4c4c4"/>
<line x1="61.794117647058826" y1="447.307" x2="61.794117647058826" y2="445.293" stroke="#c4c4c4" stroke-width="1.2" />
<rect x="60.09" y="444.60" width="3.4" height="3.4" fill="#c4c4c4"/>
<line x1="72.94117647058823" y1="447.81050000000005" x2="72.94117647058823" y2="445.79650000000004" stroke="#c4c4c4" stroke-width="1.2" />
<rect x="71.24" y="445.10" width="3.4" height="3.4" fill="#c4c4c4"/>
<line x1="84.08823529411765" y1="454.356" x2="84.08823529411765" y2="448.314" stroke="#c4c4c4" stroke-width="1.2" />
<rect x="82.39" y="449.64" width="3.4" height="3.4" fill="#c4c4c4"/>
<line x1="95.23529411764706" y1="463.419" x2="95.23529411764706" y2="457.377" stroke="#c4c4c4" stroke-width="1.2" />
<rect x="93.54" y="458.70" width="3.4" height="3.4" fill="#c4c4c4"/>
<line x1="106.38235294117646" y1="483.559" x2="106.38235294117646" y2="477.517" stroke="#c4c4c4" stroke-width="1.2" />
<rect x="104.68" y="478.84" width="3.4" height="3.4" fill="#c4c4c4"/>
<line x1="117.52941176470588" y1="511.755" x2="117.52941176470588" y2="505.713" stroke="#c4c4c4" stroke-width="1.2" />
<rect x="115.83" y="507.03" width="3.4" height="3.4" fill="#c4c4c4"/>
<line x1="128.6764705882353" y1="534.916" x2="128.6764705882353" y2="528.874" stroke="#c4c4c4" stroke-width="1.2" />
<rect x="126.98" y="530.19" width="3.4" height="3.4" fill="#c4c4c4"/>
<line x1="139.8235294117647" y1="545.993" x2="139.8235294117647" y2="539.951" stroke="#c4c4c4" stroke-width="1.2" />
<rect x="138.12" y="541.27" width="3.4" height="3.4" fill="#c4c4c4"/>
<line x1="150.97058823529412" y1="546.4965" x2="150.97058823529412" y2="544.4825" stroke="#c4c4c4" stroke-width="1.2" />
<rect x="149.27" y="543.79" width="3.4" height="3.4" fill="#c4c4c4"/>
<line x1="162.11764705882354" y1="547.0" x2="162.11764705882354" y2="544.986" stroke="#c4c4c4" stroke-width="1.2" />
<rect x="160.42" y="544.29" width="3.4" height="3.4" fill="#c4c4c4"/>
<line x1="173.26470588235293" y1="547.0" x2="173.26470588235293" y2="544.986" stroke="#c4c4c4" stroke-width="1.2" />
<rect x="171.56" y="544.29" width="3.4" height="3.4" fill="#c4c4c4"/>
<line x1="184.41176470588235" y1="547.5035" x2="184.41176470588235" y2="545.4895" stroke="#c4c4c4" stroke-width="1.2" />
<rect x="182.71" y="544.80" width="3.4" height="3.4" fill="#c4c4c4"/>
<line x1="128.6764705882353" y1="547.0" x2="128.6764705882353" y2="544.986" stroke="#c4c4c4" stroke-width="1.2" />
<circle cx="128.68" cy="545.99" r="2.3" fill="#c4c4c4"/>
<line x1="139.8235294117647" y1="542.972" x2="139.8235294117647" y2="540.958" stroke="#c4c4c4" stroke-width="1.2" />
<circle cx="139.82" cy="541.97" r="2.3" fill="#c4c4c4"/>
<line x1="150.97058823529412" y1="534.4125" x2="150.97058823529412" y2="527.3635" stroke="#c4c4c4" stroke-width="1.2" />
<circle cx="150.97" cy="530.89" r="2.3" fill="#c4c4c4"/>
<line x1="162.11764705882354" y1="507.727" x2="162.11764705882354" y2="500.678" stroke="#c4c4c4" stroke-width="1.2" />
<circle cx="162.12" cy="504.20" r="2.3" fill="#c4c4c4"/>
<line x1="173.26470588235293" y1="486.58000000000004" x2="173.26470588235293" y2="479.531" stroke="#c4c4c4" stroke-width="1.2" />
<circle cx="173.26" cy="483.06" r="2.3" fill="#c4c4c4"/>
<line x1="184.41176470588235" y1="468.454" x2="184.41176470588235" y2="461.40500000000003" stroke="#c4c4c4" stroke-width="1.2" />
<circle cx="184.41" cy="464.93" r="2.3" fill="#c4c4c4"/>
<line x1="195.55882352941177" y1="453.34900000000005" x2="195.55882352941177" y2="451.33500000000004" stroke="#c4c4c4" stroke-width="1.2" />
<circle cx="195.56" cy="452.34" r="2.3" fill="#c4c4c4"/>
<line x1="206.7058823529412" y1="449.321" x2="206.7058823529412" y2="447.307" stroke="#c4c4c4" stroke-width="1.2" />
<circle cx="206.71" cy="448.31" r="2.3" fill="#c4c4c4"/>
<line x1="217.85294117647058" y1="447.81050000000005" x2="217.85294117647058" y2="445.79650000000004" stroke="#c4c4c4" stroke-width="1.2" />
<circle cx="217.85" cy="446.80" r="2.3" fill="#c4c4c4"/>
<path d="M50.65,447.31 L51.76,447.32 L52.88,447.32 L53.99,447.32 L55.11,447.32 L56.22,447.32 L57.34,447.33 L58.45,447.33 L59.56,447.33 L60.68,447.34 L61.79,447.34 L62.91,447.35 L64.02,447.35 L65.14,447.36 L66.25,447.37 L67.37,447.38 L68.48,447.39 L69.60,447.41 L70.71,447.42 L71.83,447.44 L72.94,447.47 L74.06,447.49 L75.17,447.52 L76.29,447.56 L77.40,447.60 L78.51,447.65 L79.63,447.70 L80.74,447.76 L81.86,447.84 L82.97,447.93 L84.09,448.03 L85.20,448.14 L86.32,448.28 L87.43,448.44 L88.55,448.62 L89.66,448.83 L90.78,449.07 L91.89,449.36 L93.01,449.68 L94.12,450.06 L95.24,450.50 L96.35,451.00 L97.46,451.58 L98.58,452.24 L99.69,453.01 L100.81,453.88 L101.92,454.87 L103.04,456.00 L104.15,457.28 L105.27,458.72 L106.38,460.35 L107.50,462.16 L108.61,464.18 L109.73,466.41 L110.84,468.86 L111.96,471.53 L113.07,474.42 L114.19,477.51 L115.30,480.79 L116.41,484.24 L117.53,487.82 L118.64,491.51 L119.76,495.27 L120.87,499.04 L121.99,502.79 L123.10,506.48 L124.22,510.07 L125.33,513.52 L126.45,516.80 L127.56,519.89 L128.68,522.78 L129.79,525.45 L130.91,527.89 L132.02,530.13 L133.14,532.15 L134.25,533.96 L135.36,535.58 L136.48,537.03 L137.59,538.31 L138.71,539.44 L139.82,540.43 L140.94,541.30 L142.05,542.06 L143.17,542.73 L144.28,543.31 L145.40,543.81 L146.51,544.24 L147.63,544.62 L148.74,544.95 L149.86,545.23 L150.97,545.48 L152.09,545.69 L153.20,545.87 L154.31,546.03 L155.43,546.16 L156.54,546.28 L157.66,546.38 L158.77,546.47 L159.89,546.54 L161.00,546.61 L162.12,546.66 L163.23,546.71 L164.35,546.75 L165.46,546.78 L166.58,546.82 L167.69,546.84 L168.81,546.86 L169.92,546.88 L171.04,546.90 L172.15,546.91 L173.26,546.93 L174.38,546.94 L175.49,546.94 L176.61,546.95 L177.72,546.96 L178.84,546.97 L179.95,546.97 L181.07,546.97 L182.18,546.98 L183.30,546.98 L184.41,546.98" fill="none" stroke="#000" stroke-width="1.15" stroke-linejoin="round" />
<path d="M111.96,546.97 L112.51,546.97 L113.07,546.96 L113.63,546.96 L114.19,546.95 L114.74,546.94 L115.30,546.93 L115.86,546.92 L116.41,546.91 L116.97,546.89 L117.53,546.88 L118.09,546.86 L118.64,546.83 L119.20,546.81 L119.76,546.78 L120.32,546.74 L120.87,546.70 L121.43,546.66 L121.99,546.60 L122.55,546.54 L123.10,546.47 L123.66,546.38 L124.22,546.29 L124.78,546.17 L125.33,546.04 L125.89,545.89 L126.45,545.72 L127.00,545.52 L127.56,545.29 L128.12,545.02 L128.68,544.72 L129.23,544.37 L129.79,543.96 L130.35,543.50 L130.91,542.97 L131.46,542.36 L132.02,541.66 L132.58,540.87 L133.14,539.96 L133.69,538.94 L134.25,537.77 L134.81,536.47 L135.36,535.00 L135.92,533.35 L136.48,531.52 L137.04,529.50 L137.59,527.27 L138.15,524.83 L138.71,522.18 L139.27,519.33 L139.82,516.28 L140.38,513.06 L140.94,509.68 L141.50,506.16 L142.05,502.55 L142.61,498.87 L143.17,495.17 L143.72,491.49 L144.28,487.86 L144.84,484.32 L145.40,480.91 L145.95,477.65 L146.51,474.56 L147.07,471.67 L147.63,468.98 L148.18,466.50 L148.74,464.23 L149.30,462.17 L149.86,460.30 L150.41,458.62 L150.97,457.11 L151.53,455.77 L152.09,454.59 L152.64,453.53 L153.20,452.61 L153.76,451.79 L154.31,451.08 L154.87,450.45 L155.43,449.90 L155.99,449.43 L156.54,449.01 L157.10,448.65 L157.66,448.33 L158.22,448.06 L158.77,447.82 L159.33,447.62 L159.89,447.44 L160.45,447.28 L161.00,447.15 L161.56,447.04 L162.12,446.94 L162.68,446.85 L163.23,446.77 L163.79,446.71 L164.35,446.65 L164.90,446.61 L165.46,446.56 L166.02,446.53 L166.58,446.50 L167.13,446.47 L167.69,446.45 L168.25,446.43 L168.81,446.41 L169.36,446.39 L169.92,446.38 L170.48,446.37 L171.04,446.36 L171.59,446.35 L172.15,446.35 L172.71,446.34 L173.26,446.33 L173.82,446.33 L174.38,446.33 L174.94,446.32 L175.49,446.32 L176.05,446.32 L176.61,446.31 L177.17,446.31 L177.72,446.31 L178.28,446.31 L178.84,446.31 L179.40,446.31 L179.95,446.31 L180.51,446.30 L181.07,446.30 L181.62,446.30 L182.18,446.30 L182.74,446.30 L183.30,446.30 L183.85,446.30 L184.41,446.30 L184.97,446.30 L185.53,446.30 L186.08,446.30 L186.64,446.30 L187.20,446.30 L187.76,446.30 L188.31,446.30 L188.87,446.30 L189.43,446.30 L189.99,446.30 L190.54,446.30 L191.10,446.30 L191.66,446.30 L192.21,446.30 L192.77,446.30 L193.33,446.30 L193.89,446.30 L194.44,446.30 L195.00,446.30 L195.56,446.30" fill="none" stroke="#000" stroke-width="1.15" stroke-linejoin="round" />
<rect x="49.05" y="444.70" width="3.2" height="3.2" fill="#c4c4c4"/>
<line x1="48.44705882352941" y1="447.2063" x2="52.847058823529416" y2="447.2063" stroke="#333" stroke-width="0.9" />
<rect x="60.19" y="444.70" width="3.2" height="3.2" fill="#c4c4c4"/>
<line x1="59.59411764705882" y1="447.2063" x2="63.99411764705883" y2="447.2063" stroke="#333" stroke-width="0.9" />
<rect x="71.34" y="444.70" width="3.2" height="3.2" fill="#c4c4c4"/>
<line x1="70.74117647058823" y1="447.2063" x2="75.14117647058823" y2="447.2063" stroke="#333" stroke-width="0.9" />
<line x1="84.08823529411765" y1="450.1266" x2="84.08823529411765" y2="446.5014" stroke="#000" stroke-width="1.1" />
<line x1="82.58823529411765" y1="450.1266" x2="85.58823529411765" y2="450.1266" stroke="#000" stroke-width="0.8" />
<line x1="82.58823529411765" y1="446.5014" x2="85.58823529411765" y2="446.5014" stroke="#000" stroke-width="0.8" />
<rect x="82.19" y="446.41" width="3.8" height="3.8" fill="#000"/>
<line x1="95.23529411764706" y1="456.87350000000004" x2="95.23529411764706" y2="448.8175" stroke="#000" stroke-width="1.1" />
<line x1="93.73529411764706" y1="456.87350000000004" x2="96.73529411764706" y2="456.87350000000004" stroke="#000" stroke-width="0.8" />
<line x1="93.73529411764706" y1="448.8175" x2="96.73529411764706" y2="448.8175" stroke="#000" stroke-width="0.8" />
<rect x="93.34" y="450.95" width="3.8" height="3.8" fill="#000"/>
<line x1="106.38235294117646" y1="468.454" x2="106.38235294117646" y2="458.384" stroke="#000" stroke-width="1.1" />
<line x1="104.88235294117646" y1="468.454" x2="107.88235294117646" y2="468.454" stroke="#000" stroke-width="0.8" />
<line x1="104.88235294117646" y1="458.384" x2="107.88235294117646" y2="458.384" stroke="#000" stroke-width="0.8" />
<rect x="104.48" y="461.52" width="3.8" height="3.8" fill="#000"/>
<line x1="117.52941176470588" y1="492.11850000000004" x2="117.52941176470588" y2="483.0555" stroke="#000" stroke-width="1.1" />
<line x1="116.02941176470588" y1="492.11850000000004" x2="119.02941176470588" y2="492.11850000000004" stroke="#000" stroke-width="0.8" />
<line x1="116.02941176470588" y1="483.0555" x2="119.02941176470588" y2="483.0555" stroke="#000" stroke-width="0.8" />
<rect x="115.63" y="485.69" width="3.8" height="3.8" fill="#000"/>
<line x1="128.6764705882353" y1="525.853" x2="128.6764705882353" y2="517.797" stroke="#000" stroke-width="1.1" />
<line x1="127.1764705882353" y1="525.853" x2="130.1764705882353" y2="525.853" stroke="#000" stroke-width="0.8" />
<line x1="127.1764705882353" y1="517.797" x2="130.1764705882353" y2="517.797" stroke="#000" stroke-width="0.8" />
<rect x="126.78" y="519.93" width="3.8" height="3.8" fill="#000"/>
<line x1="139.8235294117647" y1="542.972" x2="139.8235294117647" y2="536.93" stroke="#000" stroke-width="1.1" />
<line x1="138.3235294117647" y1="542.972" x2="141.3235294117647" y2="542.972" stroke="#000" stroke-width="0.8" />
<line x1="138.3235294117647" y1="536.93" x2="141.3235294117647" y2="536.93" stroke="#000" stroke-width="0.8" />
<rect x="137.92" y="538.05" width="3.8" height="3.8" fill="#000"/>
<line x1="150.97058823529412" y1="545.7916" x2="150.97058823529412" y2="544.1804" stroke="#000" stroke-width="1.1" />
<rect x="149.07" y="543.09" width="3.8" height="3.8" fill="#000"/>
<line x1="162.11764705882354" y1="546.7986" x2="162.11764705882354" y2="545.1874" stroke="#000" stroke-width="1.1" />
<rect x="160.22" y="544.09" width="3.8" height="3.8" fill="#000"/>
<line x1="173.26470588235293" y1="547.3021" x2="173.26470588235293" y2="545.6909" stroke="#000" stroke-width="1.1" />
<rect x="171.36" y="544.60" width="3.8" height="3.8" fill="#000"/>
<line x1="184.41176470588235" y1="547.8056" x2="184.41176470588235" y2="546.1944" stroke="#000" stroke-width="1.1" />
<rect x="182.51" y="545.10" width="3.8" height="3.8" fill="#000"/>
<circle cx="117.53" cy="545.99" r="2.1" fill="#000"/>
<line x1="128.6764705882353" y1="543.979" x2="128.6764705882353" y2="531.895" stroke="#000" stroke-width="1.1" />
<line x1="127.1764705882353" y1="543.979" x2="130.1764705882353" y2="543.979" stroke="#000" stroke-width="0.8" />
<line x1="127.1764705882353" y1="531.895" x2="130.1764705882353" y2="531.895" stroke="#000" stroke-width="0.8" />
<circle cx="128.68" cy="537.94" r="2.1" fill="#000"/>
<line x1="139.8235294117647" y1="525.3495" x2="139.8235294117647" y2="509.2375" stroke="#000" stroke-width="1.1" />
<line x1="138.3235294117647" y1="525.3495" x2="141.3235294117647" y2="525.3495" stroke="#000" stroke-width="0.8" />
<line x1="138.3235294117647" y1="509.2375" x2="141.3235294117647" y2="509.2375" stroke="#000" stroke-width="0.8" />
<circle cx="139.82" cy="517.29" r="2.1" fill="#000"/>
<line x1="150.97058823529412" y1="463.419" x2="150.97058823529412" y2="451.33500000000004" stroke="#000" stroke-width="1.1" />
<line x1="149.47058823529412" y1="463.419" x2="152.47058823529412" y2="463.419" stroke="#000" stroke-width="0.8" />
<line x1="149.47058823529412" y1="451.33500000000004" x2="152.47058823529412" y2="451.33500000000004" stroke="#000" stroke-width="0.8" />
<circle cx="150.97" cy="457.38" r="2.1" fill="#000"/>
<circle cx="162.12" cy="446.30" r="2.1" fill="#000"/>
<circle cx="173.26" cy="446.30" r="2.1" fill="#000"/>
<circle cx="184.41" cy="446.30" r="2.1" fill="#000"/>
<circle cx="195.56" cy="446.30" r="2.1" fill="#000"/>
<line x1="148" y1="496.2" x2="162" y2="496.2" stroke="#000" stroke-width="1.0" />
<polygon points="143.2,496.2 150.8,492.2 150.8,500.2" fill="#000"/>
<polygon points="166.7,496.2 159.1,492.2 159.1,500.2" fill="#000"/>
<line x1="378.3" y1="425.5" x2="378.3" y2="548.4" stroke="#333" stroke-width="1" />
<line x1="378.3" y1="547.9" x2="451" y2="547.9" stroke="#333" stroke-width="1" />
<line x1="375.3" y1="426.0" x2="378.3" y2="426.0" stroke="#333" stroke-width="1" />
<text x="369.4" y="429.1" font-size="12"  text-anchor="end" fill="#1a1a1a" >0</text>
<line x1="375.3" y1="456.475" x2="378.3" y2="456.475" stroke="#333" stroke-width="1" />
<text x="373.8" y="459.57500000000005" font-size="12"  text-anchor="end" fill="#1a1a1a" >-20</text>
<line x1="375.3" y1="486.95" x2="378.3" y2="486.95" stroke="#333" stroke-width="1" />
<text x="373.8" y="490.05" font-size="12"  text-anchor="end" fill="#1a1a1a" >-40</text>
<line x1="375.3" y1="517.425" x2="378.3" y2="517.425" stroke="#333" stroke-width="1" />
<text x="373.8" y="520.525" font-size="12"  text-anchor="end" fill="#1a1a1a" >-60</text>
<line x1="375.3" y1="547.9" x2="378.3" y2="547.9" stroke="#333" stroke-width="1" />
<text x="373.8" y="551.0" font-size="12"  text-anchor="end" fill="#1a1a1a" >-80</text>
<line x1="396.7" y1="547.9" x2="396.7" y2="550.5" stroke="#333" stroke-width="1" />
<line x1="433.2" y1="547.9" x2="433.2" y2="550.5" stroke="#333" stroke-width="1" />
<circle cx="396.6" cy="494.1" r="2.3" fill="#b2b2b2"/>
<circle cx="393.5" cy="500.8" r="2.3" fill="#b2b2b2"/>
<circle cx="390.7" cy="503.2" r="2.3" fill="#b2b2b2"/>
<circle cx="399.2" cy="503.2" r="2.3" fill="#b2b2b2"/>
<circle cx="396.2" cy="506" r="2.3" fill="#b2b2b2"/>
<circle cx="402.3" cy="506" r="2.3" fill="#b2b2b2"/>
<circle cx="388" cy="509" r="2.3" fill="#b2b2b2"/>
<circle cx="393.5" cy="509.6" r="2.3" fill="#b2b2b2"/>
<circle cx="399.5" cy="509" r="2.3" fill="#b2b2b2"/>
<circle cx="405" cy="509" r="2.3" fill="#b2b2b2"/>
<circle cx="391.3" cy="515.4" r="2.3" fill="#b2b2b2"/>
<circle cx="401.8" cy="516" r="2.3" fill="#b2b2b2"/>
<circle cx="396.6" cy="521.4" r="2.3" fill="#b2b2b2"/>
<circle cx="390.7" cy="530.3" r="2.3" fill="#b2b2b2"/>
<circle cx="396.6" cy="530.8" r="2.3" fill="#b2b2b2"/>
<circle cx="402.3" cy="530" r="2.3" fill="#b2b2b2"/>
<circle cx="396.6" cy="537.1" r="2.3" fill="#b2b2b2"/>
<circle cx="394" cy="512.6" r="2.3" fill="#b2b2b2"/>
<circle cx="400" cy="512.6" r="2.3" fill="#b2b2b2"/>
<circle cx="396.8" cy="514.5" r="2.3" fill="#b2b2b2"/>
<circle cx="433" cy="445.2" r="2.3" fill="#b2b2b2"/>
<circle cx="427" cy="448.3" r="2.3" fill="#b2b2b2"/>
<circle cx="438.9" cy="450.6" r="2.3" fill="#b2b2b2"/>
<circle cx="433" cy="453.4" r="2.3" fill="#b2b2b2"/>
<circle cx="425.3" cy="455.7" r="2.3" fill="#b2b2b2"/>
<circle cx="429.6" cy="456.8" r="2.3" fill="#b2b2b2"/>
<circle cx="436.4" cy="456.3" r="2.3" fill="#b2b2b2"/>
<circle cx="441" cy="456.3" r="2.3" fill="#b2b2b2"/>
<circle cx="423.6" cy="458" r="2.3" fill="#b2b2b2"/>
<circle cx="427" cy="460.5" r="2.3" fill="#b2b2b2"/>
<circle cx="433" cy="460.5" r="2.3" fill="#b2b2b2"/>
<circle cx="438" cy="460.2" r="2.3" fill="#b2b2b2"/>
<circle cx="430" cy="465.6" r="2.3" fill="#b2b2b2"/>
<circle cx="435.9" cy="466" r="2.3" fill="#b2b2b2"/>
<circle cx="442" cy="465.3" r="2.3" fill="#b2b2b2"/>
<circle cx="427" cy="469" r="2.3" fill="#b2b2b2"/>
<circle cx="433" cy="470.4" r="2.3" fill="#b2b2b2"/>
<circle cx="438.9" cy="469.9" r="2.3" fill="#b2b2b2"/>
<circle cx="430" cy="472.8" r="2.3" fill="#b2b2b2"/>
<circle cx="435.5" cy="473.3" r="2.3" fill="#b2b2b2"/>
<circle cx="425.3" cy="475.8" r="2.3" fill="#b2b2b2"/>
<circle cx="440.6" cy="475.5" r="2.3" fill="#b2b2b2"/>
<circle cx="427.9" cy="477.5" r="2.3" fill="#b2b2b2"/>
<circle cx="433" cy="477.5" r="2.3" fill="#b2b2b2"/>
<circle cx="438" cy="477.5" r="2.3" fill="#b2b2b2"/>
<circle cx="425.3" cy="480" r="2.3" fill="#b2b2b2"/>
<circle cx="441.5" cy="479.6" r="2.3" fill="#b2b2b2"/>
<circle cx="430" cy="481.8" r="2.3" fill="#b2b2b2"/>
<circle cx="435.5" cy="481.8" r="2.3" fill="#b2b2b2"/>
<circle cx="427" cy="485.7" r="2.3" fill="#b2b2b2"/>
<circle cx="438.9" cy="485.7" r="2.3" fill="#b2b2b2"/>
<circle cx="433" cy="489" r="2.3" fill="#b2b2b2"/>
<circle cx="425.3" cy="490.8" r="2.3" fill="#b2b2b2"/>
<circle cx="429.6" cy="492" r="2.3" fill="#b2b2b2"/>
<circle cx="436.4" cy="491.5" r="2.3" fill="#b2b2b2"/>
<circle cx="440.3" cy="491.1" r="2.3" fill="#b2b2b2"/>
<circle cx="423.6" cy="493.7" r="2.3" fill="#b2b2b2"/>
<circle cx="427" cy="495.4" r="2.3" fill="#b2b2b2"/>
<circle cx="433" cy="495.9" r="2.3" fill="#b2b2b2"/>
<circle cx="438" cy="494.9" r="2.3" fill="#b2b2b2"/>
<circle cx="441.8" cy="494.5" r="2.3" fill="#b2b2b2"/>
<circle cx="424" cy="506.4" r="2.3" fill="#b2b2b2"/>
<circle cx="430.4" cy="507.8" r="2.3" fill="#b2b2b2"/>
<circle cx="435.9" cy="506.8" r="2.3" fill="#b2b2b2"/>
<circle cx="427" cy="510.2" r="2.3" fill="#b2b2b2"/>
<circle cx="438.9" cy="509" r="2.3" fill="#b2b2b2"/>
<circle cx="433" cy="511.9" r="2.3" fill="#b2b2b2"/>
<circle cx="438.9" cy="518.3" r="2.3" fill="#b2b2b2"/>
<circle cx="433" cy="523.1" r="2.3" fill="#b2b2b2"/>
<circle cx="433" cy="484.5" r="2.3" fill="#b2b2b2"/>
<circle cx="430.5" cy="488.5" r="2.3" fill="#b2b2b2"/>
<circle cx="435.8" cy="488.5" r="2.3" fill="#b2b2b2"/>
<circle cx="423" cy="479" r="2.3" fill="#b2b2b2"/>
<circle cx="443.5" cy="478" r="2.3" fill="#b2b2b2"/>
<circle cx="431" cy="458.5" r="2.3" fill="#b2b2b2"/>
<circle cx="435" cy="462.5" r="2.3" fill="#b2b2b2"/>
<circle cx="428.5" cy="464.5" r="2.3" fill="#b2b2b2"/>
<line x1="384.40000000000003" y1="513.3" x2="408.8" y2="513.3" stroke="#111" stroke-width="1.3" />
<line x1="396.6" y1="511.19999999999993" x2="396.6" y2="515.4" stroke="#111" stroke-width="1" />
<line x1="390.6" y1="511.19999999999993" x2="402.6" y2="511.19999999999993" stroke="#111" stroke-width="1" />
<line x1="390.6" y1="515.4" x2="402.6" y2="515.4" stroke="#111" stroke-width="1" />
<line x1="421" y1="478.9" x2="445" y2="478.9" stroke="#111" stroke-width="1.3" />
<line x1="433" y1="476.59999999999997" x2="433" y2="481.2" stroke="#111" stroke-width="1" />
<line x1="427.2" y1="476.59999999999997" x2="438.8" y2="476.59999999999997" stroke="#111" stroke-width="1" />
<line x1="427.2" y1="481.2" x2="438.8" y2="481.2" stroke="#111" stroke-width="1" />
<line x1="396.6" y1="431" x2="428.6" y2="431" stroke="#444" stroke-width="1.3" />
<text x="412" y="432" font-size="11" font-weight="bold" text-anchor="middle" fill="#1a1a1a" >***</text>
<text transform="translate(333.4,497.2) rotate(-90)" text-anchor="middle" font-size="12.3" font-weight="bold" fill="#1a1a1a">V<tspan font-size="11.5" dy="5.2">0.5</tspan><tspan dy="-5.2"> Na</tspan><tspan font-size="6" dy="-6">+</tspan><tspan dy="6"> channel</tspan></text>
<text transform="translate(348.7,498.3) rotate(-90)" text-anchor="middle" font-size="12" font-weight="bold" fill="#1a1a1a">activation (mV)</text>
<text transform="translate(398.7,560.1) rotate(-45)" text-anchor="end" font-size="12" font-weight="bold" fill="#1a1a1a">WT</text>
<text transform="translate(415.2,559.5) rotate(-45)" text-anchor="end" font-size="12"  fill="#1a1a1a">n=20</text>
<text transform="translate(436.4,563.5) rotate(-45)" text-anchor="end" font-size="12" font-weight="bold" fill="#1a1a1a">A735V</text>
<text transform="translate(451.6,560.4) rotate(-45)" text-anchor="end" font-size="12"  fill="#1a1a1a">n=57</text>
<line x1="549.4" y1="425.7" x2="549.4" y2="548.4" stroke="#333" stroke-width="1" />
<line x1="549.4" y1="547.9" x2="622" y2="547.9" stroke="#333" stroke-width="1" />
<line x1="546.4" y1="426.2" x2="549.4" y2="426.2" stroke="#333" stroke-width="1" />
<text x="543.5" y="429.3" font-size="12"  text-anchor="end" fill="#1a1a1a" >-40</text>
<line x1="546.4" y1="456.625" x2="549.4" y2="456.625" stroke="#333" stroke-width="1" />
<text x="543.5" y="459.725" font-size="12"  text-anchor="end" fill="#1a1a1a" >-60</text>
<line x1="546.4" y1="487.05" x2="549.4" y2="487.05" stroke="#333" stroke-width="1" />
<text x="543.5" y="490.15000000000003" font-size="12"  text-anchor="end" fill="#1a1a1a" >-80</text>
<line x1="546.4" y1="517.475" x2="549.4" y2="517.475" stroke="#333" stroke-width="1" />
<text x="543.5" y="520.575" font-size="12"  text-anchor="end" fill="#1a1a1a" >-100</text>
<line x1="546.4" y1="547.9" x2="549.4" y2="547.9" stroke="#333" stroke-width="1" />
<text x="543.5" y="551.0" font-size="12"  text-anchor="end" fill="#1a1a1a" >-120</text>
<line x1="567.2" y1="547.9" x2="567.2" y2="550.5" stroke="#333" stroke-width="1" />
<line x1="603.7" y1="547.9" x2="603.7" y2="550.5" stroke="#333" stroke-width="1" />
<circle cx="567.2" cy="464.4" r="2.3" fill="#b2b2b2"/>
<circle cx="561.6" cy="472.5" r="2.3" fill="#b2b2b2"/>
<circle cx="567.2" cy="471.8" r="2.3" fill="#b2b2b2"/>
<circle cx="573.1" cy="473.8" r="2.3" fill="#b2b2b2"/>
<circle cx="564.7" cy="478.4" r="2.3" fill="#b2b2b2"/>
<circle cx="570.5" cy="478.9" r="2.3" fill="#b2b2b2"/>
<circle cx="558.3" cy="482" r="2.3" fill="#b2b2b2"/>
<circle cx="576.2" cy="482" r="2.3" fill="#b2b2b2"/>
<circle cx="562.1" cy="484" r="2.3" fill="#b2b2b2"/>
<circle cx="567.2" cy="484" r="2.3" fill="#b2b2b2"/>
<circle cx="572.3" cy="484" r="2.3" fill="#b2b2b2"/>
<circle cx="558.8" cy="486" r="2.3" fill="#b2b2b2"/>
<circle cx="564.7" cy="489.1" r="2.3" fill="#b2b2b2"/>
<circle cx="569.8" cy="491.2" r="2.3" fill="#b2b2b2"/>
<circle cx="561.6" cy="492.2" r="2.3" fill="#b2b2b2"/>
<circle cx="573.1" cy="491.7" r="2.3" fill="#b2b2b2"/>
<circle cx="567.2" cy="495" r="2.3" fill="#b2b2b2"/>
<circle cx="567.2" cy="501.9" r="2.3" fill="#b2b2b2"/>
<circle cx="567.2" cy="512.1" r="2.3" fill="#b2b2b2"/>
<circle cx="609.4" cy="462.3" r="2.3" fill="#b2b2b2"/>
<circle cx="603.7" cy="466.2" r="2.3" fill="#b2b2b2"/>
<circle cx="609.9" cy="467.4" r="2.3" fill="#b2b2b2"/>
<circle cx="597.9" cy="471.3" r="2.3" fill="#b2b2b2"/>
<circle cx="603.7" cy="472.5" r="2.3" fill="#b2b2b2"/>
<circle cx="609.4" cy="476.4" r="2.3" fill="#b2b2b2"/>
<circle cx="603.7" cy="478.9" r="2.3" fill="#b2b2b2"/>
<circle cx="597.9" cy="480.2" r="2.3" fill="#b2b2b2"/>
<circle cx="609.4" cy="481" r="2.3" fill="#b2b2b2"/>
<circle cx="595.3" cy="482.8" r="2.3" fill="#b2b2b2"/>
<circle cx="601.2" cy="482.8" r="2.3" fill="#b2b2b2"/>
<circle cx="606.8" cy="483.5" r="2.3" fill="#b2b2b2"/>
<circle cx="612.4" cy="482.8" r="2.3" fill="#b2b2b2"/>
<circle cx="597.9" cy="486.1" r="2.3" fill="#b2b2b2"/>
<circle cx="603.7" cy="486.1" r="2.3" fill="#b2b2b2"/>
<circle cx="609.4" cy="486.6" r="2.3" fill="#b2b2b2"/>
<circle cx="594.8" cy="488.6" r="2.3" fill="#b2b2b2"/>
<circle cx="613.2" cy="487.9" r="2.3" fill="#b2b2b2"/>
<circle cx="600.4" cy="489.7" r="2.3" fill="#b2b2b2"/>
<circle cx="606.8" cy="489.7" r="2.3" fill="#b2b2b2"/>
<circle cx="596.6" cy="492.2" r="2.3" fill="#b2b2b2"/>
<circle cx="611.9" cy="491.7" r="2.3" fill="#b2b2b2"/>
<circle cx="594.5" cy="495.5" r="2.3" fill="#b2b2b2"/>
<circle cx="599.1" cy="495.5" r="2.3" fill="#b2b2b2"/>
<circle cx="603.7" cy="494.2" r="2.3" fill="#b2b2b2"/>
<circle cx="608.1" cy="495.5" r="2.3" fill="#b2b2b2"/>
<circle cx="613.2" cy="495.5" r="2.3" fill="#b2b2b2"/>
<circle cx="596.6" cy="498.8" r="2.3" fill="#b2b2b2"/>
<circle cx="601.7" cy="498.8" r="2.3" fill="#b2b2b2"/>
<circle cx="606.8" cy="498.8" r="2.3" fill="#b2b2b2"/>
<circle cx="611.9" cy="498.8" r="2.3" fill="#b2b2b2"/>
<circle cx="599.1" cy="501.9" r="2.3" fill="#b2b2b2"/>
<circle cx="604.2" cy="501.9" r="2.3" fill="#b2b2b2"/>
<circle cx="609.4" cy="501.9" r="2.3" fill="#b2b2b2"/>
<circle cx="595.3" cy="506.5" r="2.3" fill="#b2b2b2"/>
<circle cx="601.2" cy="505" r="2.3" fill="#b2b2b2"/>
<circle cx="606.8" cy="505.7" r="2.3" fill="#b2b2b2"/>
<circle cx="612.4" cy="506.5" r="2.3" fill="#b2b2b2"/>
<circle cx="597.9" cy="509.1" r="2.3" fill="#b2b2b2"/>
<circle cx="603.7" cy="509.1" r="2.3" fill="#b2b2b2"/>
<circle cx="609.4" cy="509.6" r="2.3" fill="#b2b2b2"/>
<circle cx="603.7" cy="515.2" r="2.3" fill="#b2b2b2"/>
<circle cx="609.9" cy="512.1" r="2.3" fill="#b2b2b2"/>
<circle cx="597.9" cy="523.6" r="2.3" fill="#b2b2b2"/>
<circle cx="603.7" cy="524.9" r="2.3" fill="#b2b2b2"/>
<circle cx="609.4" cy="522.3" r="2.3" fill="#b2b2b2"/>
<circle cx="603.7" cy="536.4" r="2.3" fill="#b2b2b2"/>
<circle cx="603.7" cy="491.5" r="2.3" fill="#b2b2b2"/>
<circle cx="600" cy="493" r="2.3" fill="#b2b2b2"/>
<circle cx="607.5" cy="492.5" r="2.3" fill="#b2b2b2"/>
<circle cx="598.5" cy="484" r="2.3" fill="#b2b2b2"/>
<circle cx="609" cy="490.5" r="2.3" fill="#b2b2b2"/>
<circle cx="603" cy="497" r="2.3" fill="#b2b2b2"/>
<circle cx="605.5" cy="503.5" r="2.3" fill="#b2b2b2"/>
<circle cx="600.5" cy="507.5" r="2.3" fill="#b2b2b2"/>
<circle cx="607.5" cy="508" r="2.3" fill="#b2b2b2"/>
<line x1="555.2" y1="484.3" x2="579.2" y2="484.3" stroke="#111" stroke-width="1.3" />
<line x1="567.2" y1="481.6" x2="567.2" y2="487.0" stroke="#111" stroke-width="1" />
<line x1="561.4000000000001" y1="481.6" x2="573.0" y2="481.6" stroke="#111" stroke-width="1" />
<line x1="561.4000000000001" y1="487.0" x2="573.0" y2="487.0" stroke="#111" stroke-width="1" />
<line x1="591.6" y1="494.2" x2="615.8000000000001" y2="494.2" stroke="#111" stroke-width="1.3" />
<line x1="603.7" y1="492.09999999999997" x2="603.7" y2="496.3" stroke="#111" stroke-width="1" />
<line x1="597.9000000000001" y1="492.09999999999997" x2="609.5" y2="492.09999999999997" stroke="#111" stroke-width="1" />
<line x1="597.9000000000001" y1="496.3" x2="609.5" y2="496.3" stroke="#111" stroke-width="1" />
<line x1="571" y1="450.7" x2="603" y2="450.7" stroke="#444" stroke-width="1.3" />
<text x="586.5" y="451.2" font-size="11" font-weight="bold" text-anchor="middle" fill="#1a1a1a" >**</text>
<text transform="translate(502.7,490.3) rotate(-90)" text-anchor="middle" font-size="12.7" font-weight="bold" fill="#1a1a1a">V<tspan font-size="11.5" dy="5.2">0.5</tspan><tspan dy="-5.2"> Na</tspan><tspan font-size="6" dy="-6">+</tspan><tspan dy="6"> channel</tspan></text>
<text transform="translate(518.2,490.3) rotate(-90)" text-anchor="middle" font-size="12.2" font-weight="bold" fill="#1a1a1a">inactivation (mV)</text>
<text transform="translate(570.4,560.2) rotate(-45)" text-anchor="end" font-size="12" font-weight="bold" fill="#1a1a1a">WT</text>
<text transform="translate(585.3,561) rotate(-45)" text-anchor="end" font-size="12"  fill="#1a1a1a">n=17</text>
<text transform="translate(607.5,562.8) rotate(-45)" text-anchor="end" font-size="12" font-weight="bold" fill="#1a1a1a">A735V</text>
<text transform="translate(622.4,559.8) rotate(-45)" text-anchor="end" font-size="12"  fill="#1a1a1a">n=56</text>
</svg>
</body></html>
